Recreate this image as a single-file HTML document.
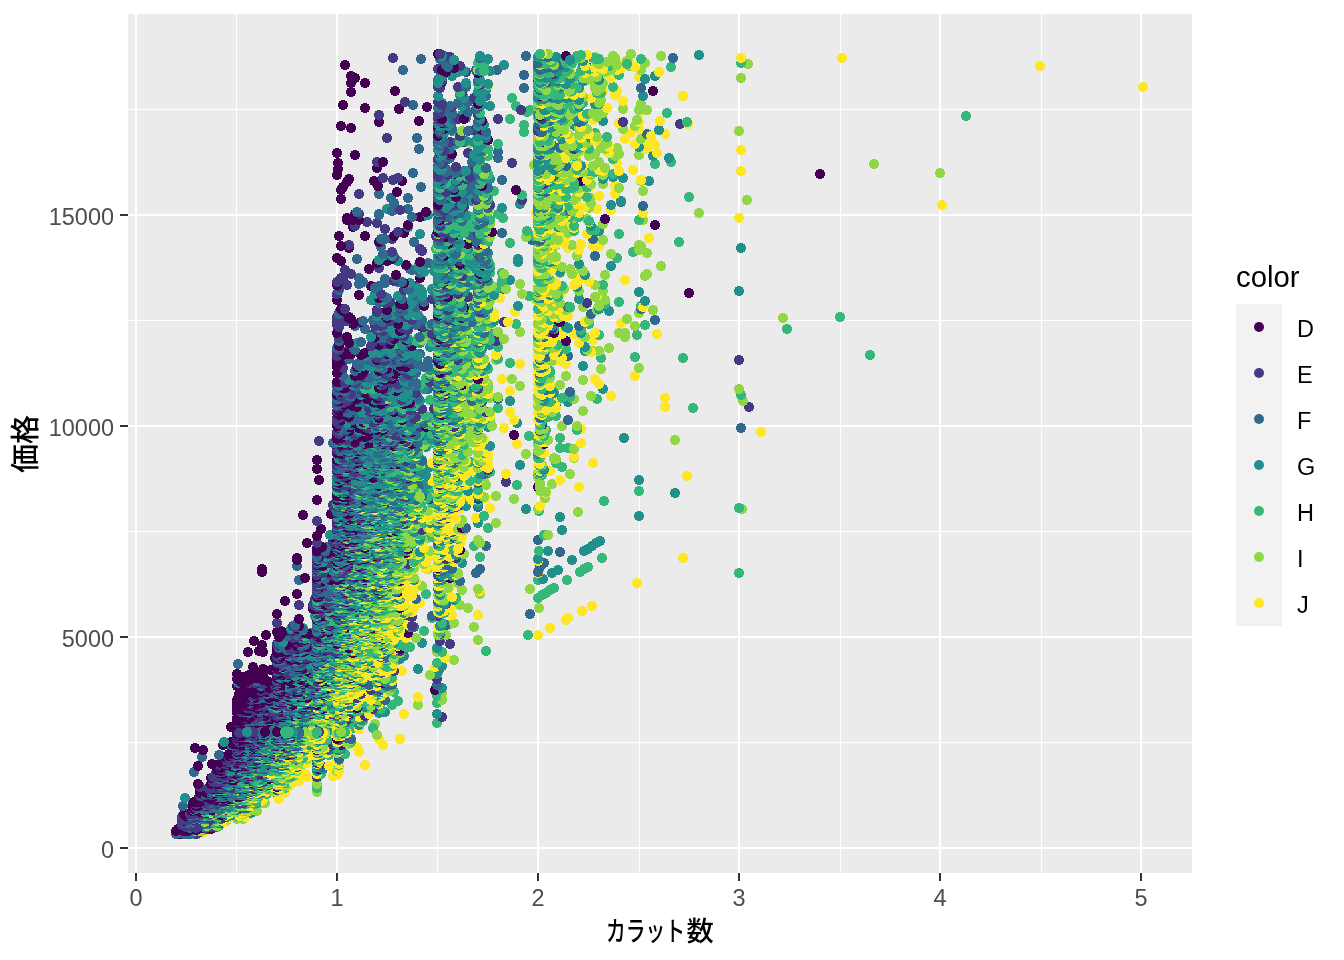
<!DOCTYPE html>
<html lang="ja"><head><meta charset="utf-8"><title>カラット数と価格</title>
<style>
html,body{margin:0;padding:0;background:#fff}
svg{display:block}
text{font-family:"Liberation Sans","Noto Sans CJK JP",sans-serif}
.tk{font-size:23.47px;fill:#4d4d4d}
.lb{font-size:23.47px;fill:#000}
.ti{font-size:29.33px;fill:#000}
.tj{font-size:27.3px;fill:#000;font-weight:500}
#pts path{shape-rendering:crispEdges;fill:none;stroke-width:10.0;stroke-linecap:round}
.c0{stroke:#440154}
.c1{stroke:#443A83}
.c2{stroke:#31688E}
.c3{stroke:#21908C}
.c4{stroke:#35B779}
.c5{stroke:#8FD744}
.c6{stroke:#FDE725}
</style></head><body>
<svg width="1344" height="960" viewBox="0 0 1344 960">
<rect width="1344" height="960" fill="#fff"/>
<rect x="128" y="14" width="1064" height="859" fill="#ebebeb"/>
<g id="grid">
<path d="M236.5 14V873" stroke="#fff" stroke-width="1"/>
<path d="M437.5 14V873" stroke="#fff" stroke-width="1"/>
<path d="M639.5 14V873" stroke="#fff" stroke-width="1"/>
<path d="M840.5 14V873" stroke="#fff" stroke-width="1"/>
<path d="M1041.5 14V873" stroke="#fff" stroke-width="1"/>
<path d="M128 742.5H1192" stroke="#fff" stroke-width="1"/>
<path d="M128 531.5H1192" stroke="#fff" stroke-width="1"/>
<path d="M128 320.5H1192" stroke="#fff" stroke-width="1"/>
<path d="M128 109.5H1192" stroke="#fff" stroke-width="1"/>
<path d="M136 14V873" stroke="#fff" stroke-width="2"/>
<path d="M337 14V873" stroke="#fff" stroke-width="2"/>
<path d="M538 14V873" stroke="#fff" stroke-width="2"/>
<path d="M739 14V873" stroke="#fff" stroke-width="2"/>
<path d="M940 14V873" stroke="#fff" stroke-width="2"/>
<path d="M1141 14V873" stroke="#fff" stroke-width="2"/>
<path d="M128 848H1192" stroke="#fff" stroke-width="2"/>
<path d="M128 637H1192" stroke="#fff" stroke-width="2"/>
<path d="M128 426H1192" stroke="#fff" stroke-width="2"/>
<path d="M128 215H1192" stroke="#fff" stroke-width="2"/>
</g>
<g id="pts">
<path class="c5" d="M337 727h0M359 726h0M349 725h0M357 724h0M375 724h0M345 724h0M327 723h0"/>
<path class="c0" d="M335 730h0M231 727h0M237 727h0M237 725h0M237 724h0M339 724h0"/>
<path class="c1" d="M359 727h0M305 726h0M239 724h0M241 724h0M259 723h0M291 723h0"/>
<path class="c4" d="M329 731h0M373 728h0M353 728h0M329 726h0M273 724h0M437 723h0"/>
<path class="c2" d="M333 724h0M245 723h0"/>
<path class="c6" d="M359 729h0M327 728h0M335 728h0M313 726h0M337 725h0M337 724h0M317 724h0M327 724h0M337 723h0"/>
<path class="c3" d="M327 730h0M303 725h0M359 725h0M277 724h0"/>
<path class="c1" d="M253 723h0M251 723h0M277 723h0M241 723h0M283 723h0M285 723h0M345 722h0M281 722h0"/>
<path class="c2" d="M339 723h0M345 723h0"/>
<path class="c3" d="M319 723h0M297 723h0M299 723h0M285 722h0"/>
<path class="c4" d="M293 723h0M317 723h0M321 722h0M309 722h0M289 722h0M265 722h0"/>
<path class="c5" d="M323 723h0M311 723h0M329 723h0M331 722h0M319 722h0M339 722h0M297 722h0M361 722h0"/>
<path class="c0" d="M261 723h0M267 723h0M303 723h0M249 723h0M243 722h0M263 722h0M253 722h0M277 722h0M241 722h0M259 722h0M269 722h0M257 722h0"/>
<path class="c3" d="M279 722h0M307 722h0M293 722h0M275 721h0M305 721h0M303 721h0M301 721h0M283 721h0M317 721h0"/>
<path class="c0" d="M249 721h0M271 721h0M237 721h0M245 721h0"/>
<path class="c1" d="M249 722h0M317 722h0M291 722h0M247 722h0M341 721h0M291 721h0M255 721h0M257 721h0"/>
<path class="c4" d="M313 721h0M339 721h0M363 721h0M309 721h0"/>
<path class="c5" d="M343 722h0M319 721h0"/>
<path class="c6" d="M321 721h0M337 721h0"/>
<path class="c2" d="M305 722h0M301 722h0M329 721h0M247 721h0M253 721h0M285 721h0M265 721h0M295 721h0M279 721h0M277 721h0M297 721h0"/>
<path class="c1" d="M287 720h0M285 720h0M277 720h0M261 719h0M303 719h0"/>
<path class="c6" d="M337 720h0"/>
<path class="c3" d="M289 721h0M271 720h0M361 720h0M291 720h0M293 720h0M301 720h0M299 720h0M283 720h0M281 720h0M305 719h0M309 719h0"/>
<path class="c5" d="M331 720h0M325 720h0M321 720h0M337 719h0"/>
<path class="c0" d="M237 720h0M263 720h0M239 720h0M245 720h0M257 719h0M271 719h0M237 719h0M239 719h0"/>
<path class="c2" d="M261 721h0M253 720h0M341 720h0M247 720h0"/>
<path class="c4" d="M315 720h0M305 720h0M319 720h0M353 720h0M309 720h0M297 720h0M317 720h0"/>
<path class="c0" d="M249 719h0M245 719h0M267 719h0M251 718h0M257 718h0M241 718h0M239 718h0M249 718h0"/>
<path class="c2" d="M299 719h0M301 719h0M279 719h0M285 719h0"/>
<path class="c1" d="M255 719h0M349 719h0M289 719h0M277 719h0M255 718h0M289 718h0M295 718h0M265 718h0M281 718h0"/>
<path class="c3" d="M339 719h0M283 719h0M291 719h0M305 718h0M345 718h0M339 718h0M261 718h0"/>
<path class="c4" d="M323 719h0M321 719h0M319 718h0M303 718h0M301 718h0M297 718h0"/>
<path class="c5" d="M329 719h0M295 719h0M317 719h0M323 718h0M309 718h0M329 718h0"/>
<path class="c3" d="M285 718h0M347 717h0M287 717h0M307 717h0M263 717h0M303 716h0"/>
<path class="c1" d="M245 718h0M269 717h0M259 717h0M301 717h0M442 717h0"/>
<path class="c2" d="M283 718h0M289 717h0M305 717h0M255 717h0M299 717h0M293 717h0M277 717h0"/>
<path class="c0" d="M237 718h0M277 718h0M247 717h0M243 717h0M283 717h0M275 717h0M251 717h0M281 717h0M243 716h0M247 716h0"/>
<path class="c4" d="M355 718h0M291 718h0M329 717h0M341 717h0M337 717h0M297 717h0"/>
<path class="c6" d="M359 717h0M327 717h0"/>
<path class="c5" d="M317 718h0M319 717h0M317 717h0M329 716h0"/>
<path class="c6" d="M319 716h0M347 716h0M339 716h0M317 716h0M347 715h0M323 715h0"/>
<path class="c3" d="M287 716h0M291 716h0M351 715h0M337 715h0M279 715h0M277 715h0"/>
<path class="c2" d="M283 716h0M337 716h0M299 716h0M255 716h0M307 715h0M293 715h0M303 715h0"/>
<path class="c4" d="M297 716h0M299 715h0"/>
<path class="c0" d="M293 716h0M253 716h0M245 716h0M265 716h0M279 716h0M245 715h0M255 715h0M285 715h0M283 715h0"/>
<path class="c5" d="M317 715h0M295 715h0M341 715h0"/>
<path class="c1" d="M259 716h0M365 716h0M277 716h0M261 715h0M327 715h0M289 715h0M249 715h0"/>
<path class="c0" d="M251 715h0M341 714h0M245 714h0M241 714h0M239 714h0M293 714h0M267 714h0M301 714h0M279 714h0M311 714h0M349 714h0M297 714h0M237 713h0M251 713h0"/>
<path class="c6" d="M327 714h0M347 714h0M369 714h0M404 714h0M337 714h0"/>
<path class="c3" d="M303 714h0M321 714h0M295 714h0M289 714h0M437 714h0M315 714h0M317 714h0M379 713h0"/>
<path class="c5" d="M343 714h0"/>
<path class="c1" d="M271 714h0M333 714h0M285 714h0M255 713h0"/>
<path class="c4" d="M319 715h0M307 714h0M319 714h0M337 713h0"/>
<path class="c2" d="M281 714h0M287 714h0M277 714h0M249 713h0"/>
<path class="c4" d="M333 713h0M319 713h0M293 713h0M317 713h0M283 712h0"/>
<path class="c6" d="M327 712h0M331 712h0"/>
<path class="c3" d="M321 713h0M287 713h0M283 713h0M297 712h0M385 712h0"/>
<path class="c0" d="M267 713h0M257 713h0M271 713h0M241 713h0M293 712h0M239 712h0M307 712h0"/>
<path class="c5" d="M341 713h0M341 712h0M321 712h0M339 712h0M313 712h0M287 712h0"/>
<path class="c1" d="M275 713h0M303 713h0M291 713h0M285 713h0M277 713h0M269 712h0M351 712h0M259 712h0"/>
<path class="c2" d="M307 713h0M299 713h0M297 713h0M279 713h0M309 712h0M245 712h0M303 712h0"/>
<path class="c0" d="M267 712h0M281 712h0M243 711h0M245 711h0M305 711h0M239 711h0M255 711h0M237 711h0M249 711h0M277 711h0M283 711h0"/>
<path class="c6" d="M331 711h0M339 711h0"/>
<path class="c4" d="M289 712h0M319 712h0M299 712h0M355 711h0M307 711h0M359 711h0M295 711h0M317 711h0"/>
<path class="c3" d="M317 712h0M323 711h0M289 711h0M329 710h0"/>
<path class="c2" d="M267 711h0M303 711h0M285 711h0M291 711h0M259 711h0M299 711h0M279 711h0M337 711h0"/>
<path class="c1" d="M241 712h0M291 712h0M277 712h0M253 711h0M269 711h0"/>
<path class="c5" d="M333 711h0M319 711h0"/>
<path class="c4" d="M307 710h0M339 710h0M295 710h0M301 710h0M381 709h0"/>
<path class="c0" d="M247 710h0M283 710h0M243 710h0M281 710h0M279 710h0M251 710h0M315 710h0M245 710h0M271 709h0M315 709h0M347 709h0"/>
<path class="c1" d="M303 710h0M341 710h0M277 710h0M253 709h0M287 709h0M373 709h0"/>
<path class="c2" d="M265 710h0M289 710h0M311 710h0M285 710h0M319 710h0"/>
<path class="c3" d="M297 710h0M347 710h0M323 710h0M293 710h0M317 710h0M293 709h0"/>
<path class="c5" d="M331 710h0M345 710h0M337 710h0"/>
<path class="c6" d="M353 709h0M327 709h0M345 709h0M349 709h0"/>
<path class="c5" d="M321 709h0M329 708h0M369 708h0M345 708h0M367 708h0M323 708h0M311 708h0M337 708h0"/>
<path class="c0" d="M263 709h0M259 709h0M237 709h0M323 709h0M299 709h0M247 709h0M237 708h0M269 708h0"/>
<path class="c3" d="M333 709h0M311 709h0M355 709h0M279 709h0M317 709h0M289 709h0M303 708h0M349 708h0"/>
<path class="c1" d="M307 709h0M261 709h0M277 709h0M303 709h0M249 708h0M289 708h0M309 708h0M247 708h0"/>
<path class="c6" d="M339 709h0"/>
<path class="c4" d="M297 709h0"/>
<path class="c2" d="M273 709h0M283 709h0M291 709h0M275 708h0M305 708h0M287 708h0"/>
<path class="c1" d="M299 708h0M261 708h0M251 707h0M299 707h0M275 706h0"/>
<path class="c5" d="M363 708h0M329 707h0"/>
<path class="c3" d="M295 708h0M321 708h0M365 707h0M337 707h0M317 707h0M293 707h0"/>
<path class="c6" d="M341 708h0M317 708h0M339 708h0"/>
<path class="c2" d="M293 708h0M285 708h0M325 707h0M297 707h0M357 707h0M289 707h0M291 707h0M341 707h0M279 707h0"/>
<path class="c0" d="M257 708h0M239 708h0M357 708h0M281 708h0M261 707h0M239 707h0M241 707h0M305 707h0M277 707h0M283 707h0M303 707h0"/>
<path class="c4" d="M277 708h0M285 707h0M321 707h0M331 707h0"/>
<path class="c5" d="M309 706h0M357 706h0M371 706h0M325 706h0M345 705h0M353 705h0M418 705h0"/>
<path class="c0" d="M249 706h0M243 706h0M251 706h0M279 706h0M237 706h0"/>
<path class="c6" d="M351 706h0M347 706h0M339 706h0M341 705h0"/>
<path class="c3" d="M271 706h0M283 706h0M307 706h0M299 706h0M303 706h0M341 706h0M317 706h0M293 706h0M297 706h0M319 706h0M301 705h0M309 705h0M329 705h0"/>
<path class="c1" d="M259 706h0M263 706h0M257 706h0M287 706h0M291 706h0M299 705h0M253 705h0"/>
<path class="c4" d="M337 706h0M323 706h0"/>
<path class="c2" d="M281 706h0M277 706h0"/>
<path class="c3" d="M285 705h0M319 705h0M349 705h0M323 704h0M297 704h0M333 704h0M293 704h0M327 704h0M299 704h0M281 704h0"/>
<path class="c2" d="M303 704h0M317 704h0M319 704h0M265 704h0M337 704h0"/>
<path class="c1" d="M311 705h0M287 705h0M281 705h0M305 705h0M277 705h0M267 704h0M285 704h0M289 704h0"/>
<path class="c6" d="M379 704h0M341 704h0"/>
<path class="c4" d="M392 705h0M339 705h0M297 705h0M291 705h0M321 704h0"/>
<path class="c5" d="M323 705h0"/>
<path class="c0" d="M275 705h0M255 705h0M293 705h0M317 705h0M257 704h0M307 704h0M239 704h0M237 704h0M277 704h0"/>
<path class="c1" d="M263 703h0M289 703h0M283 703h0M281 703h0M251 703h0M265 702h0M331 702h0"/>
<path class="c6" d="M341 703h0M355 703h0M339 703h0M379 702h0"/>
<path class="c5" d="M299 703h0M325 703h0M337 703h0M301 703h0M317 703h0"/>
<path class="c4" d="M321 703h0M437 703h0M377 703h0M365 702h0"/>
<path class="c3" d="M345 703h0M275 703h0M277 703h0M293 702h0M301 702h0"/>
<path class="c2" d="M305 703h0M347 703h0M267 703h0M287 703h0M249 703h0M351 702h0"/>
<path class="c0" d="M293 703h0M257 703h0M245 703h0M241 703h0M261 703h0M319 703h0M295 703h0M297 702h0M287 702h0"/>
<path class="c1" d="M291 702h0M281 702h0M309 701h0M377 701h0M297 701h0M277 701h0M271 701h0M259 701h0"/>
<path class="c2" d="M305 702h0M317 702h0M311 702h0M277 702h0M287 701h0M293 701h0"/>
<path class="c5" d="M337 702h0M349 701h0M351 701h0"/>
<path class="c4" d="M341 702h0M289 702h0M319 702h0M398 701h0M323 701h0M299 701h0"/>
<path class="c0" d="M283 702h0M279 702h0M255 701h0M257 701h0M251 701h0M269 701h0"/>
<path class="c3" d="M299 702h0M329 702h0M323 702h0M341 701h0M285 701h0M313 701h0"/>
<path class="c6" d="M345 702h0M357 701h0M345 701h0M337 701h0M307 701h0"/>
<path class="c0" d="M321 701h0M291 701h0M259 700h0M263 700h0M289 700h0M237 700h0M251 699h0"/>
<path class="c5" d="M339 701h0M379 700h0M377 700h0M442 700h0M339 700h0M349 699h0"/>
<path class="c3" d="M279 701h0M355 700h0M299 700h0M285 700h0"/>
<path class="c1" d="M281 701h0M251 700h0M291 700h0M283 700h0M279 700h0M249 699h0"/>
<path class="c6" d="M359 700h0M337 700h0M371 700h0M343 700h0"/>
<path class="c2" d="M317 701h0M347 700h0M385 700h0M323 700h0M277 700h0"/>
<path class="c4" d="M303 701h0M329 700h0M311 700h0M303 700h0M295 700h0M319 700h0M317 700h0M345 699h0"/>
<path class="c5" d="M309 699h0M341 699h0M323 698h0M337 698h0M331 698h0M351 698h0"/>
<path class="c1" d="M259 699h0M285 699h0M357 698h0M289 698h0M283 698h0"/>
<path class="c2" d="M291 699h0M257 699h0M293 699h0M269 699h0M277 699h0M281 699h0M265 698h0M291 698h0M299 698h0M303 698h0"/>
<path class="c4" d="M303 699h0M321 699h0M329 699h0M319 699h0M339 699h0M317 699h0M295 698h0M297 698h0"/>
<path class="c6" d="M337 699h0M349 698h0M321 698h0M339 698h0"/>
<path class="c0" d="M269 698h0M247 698h0M285 698h0M255 698h0M239 698h0"/>
<path class="c3" d="M289 699h0M297 699h0"/>
<path class="c1" d="M281 698h0M315 696h0"/>
<path class="c4" d="M315 697h0M285 697h0M317 697h0M437 696h0"/>
<path class="c2" d="M277 698h0M317 698h0M323 697h0M337 697h0M293 697h0M253 697h0M297 697h0M287 697h0M309 696h0M289 696h0M323 696h0"/>
<path class="c3" d="M281 697h0M295 697h0M319 696h0M299 696h0"/>
<path class="c6" d="M418 697h0M363 697h0M343 697h0M381 696h0"/>
<path class="c5" d="M345 698h0M319 698h0M341 698h0M319 697h0M339 697h0M345 696h0"/>
<path class="c0" d="M307 698h0M289 697h0M299 697h0M303 697h0M255 697h0M277 697h0M287 696h0M271 696h0M255 696h0"/>
<path class="c1" d="M253 696h0M279 696h0M261 695h0M299 695h0M285 695h0M279 695h0"/>
<path class="c0" d="M277 696h0M307 696h0M323 695h0M283 695h0M277 695h0M239 694h0"/>
<path class="c3" d="M301 696h0M303 696h0M291 696h0M317 696h0M377 695h0M307 695h0M341 695h0M293 695h0M317 695h0M295 695h0M303 695h0"/>
<path class="c6" d="M329 696h0M341 696h0M337 696h0M339 696h0M373 695h0M345 695h0M349 695h0"/>
<path class="c4" d="M295 696h0M329 695h0M339 695h0"/>
<path class="c5" d="M359 695h0M319 695h0M337 695h0M343 694h0"/>
<path class="c2" d="M283 696h0M289 695h0M267 694h0"/>
<path class="c0" d="M303 694h0M255 694h0M281 694h0M301 693h0M247 693h0M297 693h0"/>
<path class="c5" d="M341 694h0M331 694h0M371 694h0M323 694h0M442 693h0"/>
<path class="c2" d="M297 694h0M285 694h0M293 694h0M277 694h0M273 693h0M291 693h0"/>
<path class="c4" d="M327 694h0M345 693h0M331 693h0"/>
<path class="c6" d="M369 694h0M355 694h0M383 694h0M353 694h0M337 694h0M339 694h0M343 693h0M359 693h0"/>
<path class="c3" d="M301 694h0M309 694h0M307 693h0"/>
<path class="c1" d="M361 694h0M321 694h0M315 694h0M289 694h0M317 694h0M305 693h0M277 693h0M293 693h0M321 693h0"/>
<path class="c5" d="M385 693h0M331 692h0M307 692h0M351 692h0"/>
<path class="c2" d="M311 693h0M283 693h0M327 693h0M287 693h0M317 692h0"/>
<path class="c4" d="M299 693h0M437 693h0M394 692h0M377 692h0M323 692h0"/>
<path class="c1" d="M279 693h0M289 692h0M265 692h0M283 692h0M303 692h0"/>
<path class="c0" d="M289 693h0M295 692h0M243 692h0M267 692h0M261 692h0M255 692h0M251 692h0"/>
<path class="c3" d="M317 693h0M381 692h0M291 692h0M355 692h0M277 692h0M319 692h0"/>
<path class="c6" d="M337 693h0M357 693h0M339 693h0M341 692h0M385 692h0M347 692h0M339 692h0M359 692h0"/>
<path class="c6" d="M347 691h0M337 691h0M369 691h0M341 691h0"/>
<path class="c3" d="M299 691h0M317 691h0M321 691h0M303 690h0"/>
<path class="c1" d="M279 692h0M301 691h0M307 691h0M293 691h0M289 691h0M261 691h0M287 691h0M279 691h0M285 690h0"/>
<path class="c5" d="M337 692h0M390 691h0M331 691h0M351 691h0M335 690h0"/>
<path class="c2" d="M379 691h0M271 691h0M297 691h0M319 691h0M285 691h0M313 691h0M295 690h0"/>
<path class="c0" d="M281 692h0M297 692h0M299 692h0M243 691h0M251 691h0M277 691h0M281 691h0M241 691h0M313 690h0"/>
<path class="c4" d="M325 691h0M305 691h0"/>
<path class="c0" d="M247 690h0M435 690h0M299 690h0M255 689h0M261 689h0M295 689h0"/>
<path class="c4" d="M343 690h0M341 690h0M319 690h0M311 689h0M329 689h0M323 689h0"/>
<path class="c3" d="M297 690h0M279 690h0M317 690h0M339 690h0M307 689h0M303 689h0M279 689h0"/>
<path class="c2" d="M307 690h0M309 690h0M289 690h0M285 689h0M277 689h0"/>
<path class="c5" d="M337 690h0M347 689h0"/>
<path class="c6" d="M351 690h0M347 690h0M349 689h0M369 689h0"/>
<path class="c1" d="M301 690h0M287 690h0M269 690h0M323 690h0M277 690h0M291 690h0M281 690h0M371 690h0M293 689h0M327 689h0"/>
<path class="c5" d="M339 689h0M317 689h0M323 688h0M339 688h0M319 688h0"/>
<path class="c6" d="M337 689h0M347 688h0M361 688h0M353 688h0M351 688h0M337 688h0M341 688h0"/>
<path class="c3" d="M321 689h0M285 688h0M297 688h0M327 688h0M277 688h0"/>
<path class="c1" d="M381 689h0M313 688h0M289 688h0"/>
<path class="c4" d="M343 689h0M345 688h0M383 688h0M307 688h0"/>
<path class="c0" d="M297 689h0M283 689h0M329 688h0M251 688h0M241 688h0M253 688h0M293 688h0M283 688h0M269 688h0"/>
<path class="c2" d="M299 689h0M303 688h0M333 688h0M301 688h0M291 688h0M279 688h0M317 688h0"/>
<path class="c0" d="M303 687h0M297 687h0M237 686h0M299 686h0"/>
<path class="c6" d="M369 686h0M337 686h0"/>
<path class="c4" d="M331 687h0M299 687h0M392 687h0M307 687h0M321 687h0M353 687h0M325 687h0M295 686h0M351 686h0"/>
<path class="c1" d="M291 687h0M335 687h0M295 687h0M277 687h0M285 687h0M303 686h0M275 686h0M293 686h0M307 686h0"/>
<path class="c2" d="M291 686h0"/>
<path class="c5" d="M349 687h0M357 687h0M319 687h0M341 687h0M343 687h0M345 687h0M337 687h0M392 686h0"/>
<path class="c3" d="M442 688h0M309 687h0M377 687h0M317 687h0M287 687h0M279 687h0M281 687h0"/>
<path class="c3" d="M287 686h0M301 686h0M385 685h0M377 685h0"/>
<path class="c5" d="M345 686h0M329 685h0M351 685h0"/>
<path class="c4" d="M343 686h0M321 686h0M363 685h0"/>
<path class="c1" d="M283 686h0M279 686h0M293 685h0M303 685h0M390 685h0M295 685h0"/>
<path class="c6" d="M329 686h0M377 686h0M339 686h0M343 685h0M323 685h0M341 685h0M347 685h0M349 685h0M327 685h0"/>
<path class="c0" d="M263 686h0M317 686h0M277 686h0M239 685h0M281 685h0M283 685h0"/>
<path class="c2" d="M261 686h0M387 686h0M369 685h0M437 685h0M301 685h0M313 685h0M287 685h0M392 685h0M319 685h0"/>
<path class="c5" d="M357 684h0M305 684h0M327 684h0M319 684h0M345 683h0"/>
<path class="c6" d="M353 683h0"/>
<path class="c4" d="M337 685h0M349 684h0M345 684h0M341 684h0M331 684h0M323 684h0"/>
<path class="c3" d="M307 685h0M339 685h0M299 685h0M285 684h0M297 684h0M299 684h0M291 684h0M309 684h0M339 684h0M337 684h0M321 683h0"/>
<path class="c2" d="M277 685h0M297 685h0"/>
<path class="c0" d="M279 684h0M247 684h0M281 684h0M303 684h0M283 684h0M255 684h0M311 683h0"/>
<path class="c1" d="M317 685h0M277 684h0M263 684h0M289 684h0M311 684h0M317 684h0M351 684h0M299 683h0"/>
<path class="c5" d="M341 683h0M331 682h0"/>
<path class="c3" d="M303 683h0M325 683h0M281 683h0M297 683h0M309 682h0M341 682h0"/>
<path class="c4" d="M333 683h0M319 683h0M377 683h0M317 683h0M337 683h0M349 682h0M327 682h0M323 682h0"/>
<path class="c1" d="M255 683h0M249 683h0M363 682h0M283 682h0M329 682h0M379 682h0"/>
<path class="c6" d="M349 683h0M351 683h0M339 683h0"/>
<path class="c2" d="M285 683h0M238 683h0M277 683h0M303 682h0"/>
<path class="c0" d="M245 683h0M291 683h0M383 683h0M293 683h0M283 683h0M275 682h0M291 682h0M307 682h0M321 682h0M241 682h0M301 682h0"/>
<path class="c5" d="M339 682h0M355 681h0M351 681h0M349 681h0"/>
<path class="c6" d="M392 681h0M345 681h0M379 681h0"/>
<path class="c2" d="M319 682h0M337 682h0M287 681h0M257 681h0M327 680h0"/>
<path class="c3" d="M299 682h0M287 682h0M385 682h0M299 681h0M317 681h0"/>
<path class="c0" d="M281 682h0M323 681h0M267 681h0M289 681h0M327 681h0M283 681h0M279 681h0M293 681h0M263 680h0"/>
<path class="c1" d="M277 682h0M317 682h0M277 681h0M319 681h0M331 680h0M359 680h0"/>
<path class="c4" d="M331 681h0M297 681h0M301 681h0M321 681h0M341 681h0M337 681h0M351 680h0M363 680h0"/>
<path class="c4" d="M345 680h0M311 680h0M355 680h0M357 679h0M317 679h0"/>
<path class="c5" d="M349 680h0M337 680h0"/>
<path class="c3" d="M341 680h0M297 680h0M297 679h0M343 679h0"/>
<path class="c2" d="M277 680h0M287 679h0M299 679h0M347 679h0M285 679h0"/>
<path class="c6" d="M321 680h0M339 680h0M353 679h0M329 679h0"/>
<path class="c1" d="M303 680h0M291 680h0M279 680h0M305 680h0M317 680h0M333 679h0M349 679h0M279 679h0M277 679h0M291 679h0M303 679h0M283 679h0M437 679h0"/>
<path class="c0" d="M301 680h0M249 680h0M287 680h0M283 680h0M289 680h0M237 679h0M251 679h0"/>
<path class="c4" d="M339 679h0M307 678h0M329 678h0M345 678h0M357 678h0M353 678h0M337 678h0M323 678h0M377 678h0M392 678h0"/>
<path class="c2" d="M293 678h0M317 678h0M327 677h0M325 677h0M313 677h0"/>
<path class="c6" d="M363 678h0M341 678h0M339 678h0"/>
<path class="c3" d="M337 679h0M297 678h0M379 678h0M281 678h0M301 677h0"/>
<path class="c5" d="M323 679h0M385 679h0M359 678h0M347 678h0M319 678h0"/>
<path class="c1" d="M289 678h0M303 678h0M299 678h0"/>
<path class="c0" d="M319 679h0M257 678h0M351 678h0M291 678h0M301 678h0M277 678h0M253 677h0M245 677h0M323 677h0"/>
<path class="c1" d="M283 677h0M299 677h0M283 676h0M301 676h0M329 676h0M317 676h0"/>
<path class="c4" d="M321 677h0M317 677h0M337 677h0M331 677h0M347 677h0M323 676h0M303 676h0M319 676h0"/>
<path class="c6" d="M351 677h0M347 676h0M345 676h0M357 676h0"/>
<path class="c0" d="M277 677h0M291 677h0M263 676h0M291 676h0M239 676h0M277 676h0"/>
<path class="c2" d="M297 677h0M285 676h0M311 676h0M325 676h0M279 676h0M289 676h0"/>
<path class="c3" d="M279 677h0M287 677h0M339 677h0M315 676h0M351 676h0M377 676h0"/>
<path class="c5" d="M343 677h0M319 677h0M341 676h0M379 676h0"/>
<path class="c2" d="M331 675h0M287 675h0M293 675h0M327 675h0"/>
<path class="c4" d="M319 675h0M359 674h0"/>
<path class="c0" d="M297 676h0M249 675h0M277 675h0M283 675h0M289 675h0M297 674h0M237 674h0M283 674h0"/>
<path class="c3" d="M295 676h0M307 675h0M343 675h0M337 675h0M347 675h0M311 675h0M339 675h0M437 674h0M307 674h0M303 674h0"/>
<path class="c5" d="M337 676h0M339 676h0M430 675h0M345 675h0M317 675h0M361 675h0"/>
<path class="c1" d="M323 675h0M279 675h0M321 675h0M347 674h0"/>
<path class="c6" d="M371 676h0M357 675h0M355 675h0M369 675h0M377 675h0M377 674h0"/>
<path class="c1" d="M289 674h0M287 674h0M277 674h0M293 673h0M323 673h0M281 673h0"/>
<path class="c2" d="M321 674h0M295 673h0M279 673h0"/>
<path class="c5" d="M387 673h0M379 673h0M355 673h0M301 673h0"/>
<path class="c6" d="M337 674h0M339 674h0M351 674h0M343 674h0M349 673h0M385 673h0"/>
<path class="c3" d="M355 674h0M299 674h0M317 674h0M329 674h0M345 674h0M305 674h0M303 673h0M361 673h0M381 673h0M373 673h0M321 673h0M297 673h0"/>
<path class="c4" d="M325 674h0M315 673h0M345 673h0M343 673h0"/>
<path class="c0" d="M279 674h0M261 674h0M277 673h0M327 673h0M283 673h0"/>
<path class="c0" d="M311 673h0M301 672h0M259 672h0M279 672h0M283 672h0M321 672h0M263 672h0M321 671h0"/>
<path class="c1" d="M289 673h0M287 673h0M335 673h0M291 672h0M383 672h0M277 672h0M313 671h0"/>
<path class="c5" d="M317 673h0M355 672h0M359 672h0M341 672h0M349 672h0M327 672h0M345 672h0M359 671h0"/>
<path class="c2" d="M293 672h0M297 672h0M311 672h0M317 672h0"/>
<path class="c4" d="M351 672h0M305 672h0M319 672h0M339 672h0M337 672h0"/>
<path class="c6" d="M365 673h0M337 673h0M365 672h0M369 672h0M402 671h0"/>
<path class="c3" d="M329 673h0M339 673h0M323 672h0"/>
<path class="c3" d="M317 671h0M305 671h0M307 670h0M439 670h0M331 670h0M317 670h0M297 670h0"/>
<path class="c1" d="M277 671h0M335 671h0M394 671h0M283 670h0M379 670h0M279 670h0"/>
<path class="c5" d="M345 671h0M329 671h0M319 671h0M359 670h0M373 670h0M349 670h0M319 670h0"/>
<path class="c0" d="M307 671h0M271 670h0"/>
<path class="c4" d="M327 671h0M351 671h0M341 671h0M355 670h0M295 670h0M329 670h0"/>
<path class="c6" d="M381 671h0M385 671h0M387 671h0M339 671h0M369 670h0M377 670h0M353 670h0"/>
<path class="c2" d="M301 671h0M297 671h0M299 670h0M277 670h0M321 670h0"/>
<path class="c5" d="M345 670h0M337 670h0M339 670h0M353 669h0M337 669h0M363 668h0"/>
<path class="c1" d="M287 669h0M297 669h0"/>
<path class="c3" d="M303 670h0M379 669h0M323 669h0M418 669h0M333 669h0M321 669h0M341 669h0M371 668h0M325 668h0"/>
<path class="c4" d="M341 670h0M315 669h0M357 669h0M307 669h0M339 669h0M357 668h0M299 668h0"/>
<path class="c6" d="M392 669h0M381 669h0M359 669h0M390 669h0M381 668h0M379 668h0"/>
<path class="c2" d="M323 670h0M301 669h0M293 669h0M279 669h0M345 669h0M317 669h0"/>
<path class="c0" d="M263 669h0M277 669h0M281 669h0M303 669h0"/>
<path class="c1" d="M289 668h0M301 668h0M277 667h0M311 667h0"/>
<path class="c3" d="M329 668h0M369 668h0M309 668h0M305 667h0M317 667h0M303 667h0"/>
<path class="c0" d="M305 668h0M281 668h0M277 668h0M309 667h0M297 667h0M299 667h0M279 667h0M253 667h0"/>
<path class="c5" d="M323 668h0M347 668h0M351 668h0M369 667h0M327 667h0"/>
<path class="c2" d="M311 668h0M371 667h0M321 667h0M291 667h0M319 667h0"/>
<path class="c6" d="M355 668h0M435 667h0"/>
<path class="c4" d="M283 668h0M321 668h0M317 668h0M341 668h0M337 668h0M353 667h0M347 667h0M387 667h0M349 667h0M337 667h0"/>
<path class="c0" d="M283 667h0M291 666h0M277 666h0M317 666h0"/>
<path class="c4" d="M343 667h0M375 666h0M392 666h0M323 666h0M355 666h0M337 666h0M341 666h0M339 666h0M325 665h0"/>
<path class="c1" d="M283 666h0M333 666h0M367 666h0M293 666h0M281 666h0M329 665h0M285 665h0M295 665h0"/>
<path class="c6" d="M339 667h0M381 666h0M345 666h0M343 666h0M351 665h0"/>
<path class="c3" d="M363 667h0M327 666h0M321 666h0M331 666h0M442 666h0M319 666h0"/>
<path class="c5" d="M373 667h0M363 666h0M353 666h0M349 666h0M353 665h0"/>
<path class="c2" d="M297 666h0M289 666h0M301 666h0"/>
<path class="c3" d="M343 665h0M317 665h0M355 664h0M309 664h0M351 663h0"/>
<path class="c4" d="M383 665h0M347 665h0M355 665h0M327 664h0M321 664h0M347 664h0M343 664h0"/>
<path class="c1" d="M319 665h0M293 664h0M277 664h0M319 664h0M331 664h0M317 664h0M299 664h0M281 664h0"/>
<path class="c2" d="M281 665h0M337 665h0M301 665h0M238 664h0M287 664h0M297 664h0"/>
<path class="c5" d="M365 665h0M339 665h0M323 665h0M349 664h0M379 664h0M345 664h0M357 664h0M337 664h0M341 664h0"/>
<path class="c0" d="M277 665h0M361 664h0"/>
<path class="c6" d="M359 665h0M394 664h0M373 664h0"/>
<path class="c3" d="M331 663h0M325 663h0M329 663h0M355 663h0M359 663h0M339 663h0M345 663h0M329 662h0"/>
<path class="c0" d="M279 663h0M321 662h0M301 662h0M319 662h0"/>
<path class="c6" d="M377 663h0M363 663h0M361 662h0M367 662h0"/>
<path class="c2" d="M281 663h0M373 663h0M319 663h0M299 662h0"/>
<path class="c5" d="M349 663h0M321 663h0M343 663h0M355 662h0M369 662h0"/>
<path class="c4" d="M335 663h0M357 663h0M437 663h0M337 663h0M359 662h0M341 662h0M325 662h0"/>
<path class="c1" d="M277 663h0M323 663h0M301 663h0M317 663h0M279 662h0M283 662h0M303 662h0M353 662h0"/>
<path class="c0" d="M277 660h0M327 660h0"/>
<path class="c4" d="M345 662h0M387 661h0M359 661h0M365 661h0M349 661h0M355 661h0M325 661h0M343 661h0M349 660h0M375 660h0"/>
<path class="c2" d="M317 662h0M337 662h0M281 661h0M291 661h0M321 661h0M277 661h0M319 661h0M295 660h0M297 660h0"/>
<path class="c5" d="M339 662h0M327 662h0M347 661h0M345 661h0M361 661h0"/>
<path class="c6" d="M377 662h0M369 660h0M379 660h0"/>
<path class="c3" d="M299 661h0M295 661h0M333 661h0M369 661h0M337 661h0M339 661h0M317 661h0M347 660h0M385 660h0"/>
<path class="c1" d="M289 661h0M351 661h0"/>
<path class="c6" d="M365 660h0M379 659h0M357 659h0M392 658h0"/>
<path class="c5" d="M353 660h0M454 660h0M398 660h0M323 659h0M383 659h0M345 659h0M387 659h0"/>
<path class="c1" d="M315 659h0M299 659h0M325 659h0M301 659h0M329 658h0M305 658h0"/>
<path class="c4" d="M359 660h0M343 660h0M337 660h0M339 660h0M369 659h0M349 659h0M339 659h0"/>
<path class="c2" d="M323 660h0M363 659h0M317 659h0"/>
<path class="c0" d="M291 660h0M299 660h0M293 659h0M279 659h0M277 659h0M307 659h0"/>
<path class="c3" d="M321 660h0M317 660h0M319 659h0M400 659h0M341 659h0M337 659h0M363 658h0"/>
<path class="c4" d="M323 658h0M331 658h0M353 657h0"/>
<path class="c0" d="M275 658h0M297 658h0M325 657h0"/>
<path class="c2" d="M385 658h0M297 657h0M293 657h0M343 657h0M337 657h0"/>
<path class="c6" d="M379 658h0M381 658h0M343 658h0M445 658h0M363 657h0M379 657h0M375 657h0"/>
<path class="c5" d="M353 658h0M394 658h0M337 658h0M339 658h0M369 657h0M359 657h0M357 657h0M345 657h0M349 657h0"/>
<path class="c3" d="M345 658h0M301 658h0M319 658h0M349 658h0M335 657h0M327 657h0"/>
<path class="c1" d="M307 658h0M293 658h0M317 658h0M279 658h0M329 657h0M277 657h0M381 657h0"/>
<path class="c2" d="M301 656h0M297 656h0M283 656h0M321 656h0M317 656h0M299 656h0M283 655h0M321 655h0"/>
<path class="c0" d="M315 657h0M281 657h0M313 656h0"/>
<path class="c1" d="M321 657h0M277 656h0M323 656h0M341 656h0"/>
<path class="c4" d="M329 656h0M331 656h0"/>
<path class="c3" d="M317 657h0M359 656h0M404 656h0M289 656h0M311 656h0M343 656h0M337 656h0"/>
<path class="c5" d="M341 657h0M339 657h0M392 656h0M363 656h0M355 656h0M347 656h0M339 656h0M359 655h0M347 655h0M392 655h0"/>
<path class="c6" d="M351 657h0M369 656h0M381 656h0M375 656h0M351 656h0M357 656h0"/>
<path class="c6" d="M349 655h0M337 655h0M361 654h0M347 654h0M351 654h0M392 653h0"/>
<path class="c1" d="M287 654h0M303 654h0M279 653h0"/>
<path class="c3" d="M303 655h0M317 655h0M299 655h0M321 654h0M311 654h0M337 654h0M305 653h0M359 653h0"/>
<path class="c0" d="M283 654h0M283 653h0"/>
<path class="c4" d="M363 655h0M343 655h0M341 655h0M394 654h0M317 654h0M375 654h0M379 654h0M343 654h0"/>
<path class="c5" d="M361 655h0M353 655h0M369 654h0M359 654h0M327 653h0"/>
<path class="c2" d="M319 655h0M293 655h0M385 655h0M325 655h0M279 654h0M341 654h0M333 654h0M323 654h0"/>
<path class="c6" d="M357 652h0M345 652h0"/>
<path class="c4" d="M319 653h0M301 652h0M349 652h0M351 652h0"/>
<path class="c1" d="M295 653h0M287 653h0M323 652h0M353 652h0M295 652h0M365 652h0M283 652h0"/>
<path class="c3" d="M301 653h0M311 653h0M349 653h0M323 653h0M377 653h0M345 653h0M331 653h0M367 653h0M317 653h0M339 653h0"/>
<path class="c5" d="M400 653h0M355 653h0M365 653h0M381 653h0M351 653h0M437 652h0"/>
<path class="c0" d="M353 653h0M277 653h0M337 653h0M248 652h0M281 652h0M287 652h0M315 652h0M263 652h0M303 652h0"/>
<path class="c2" d="M341 653h0M297 653h0"/>
<path class="c0" d="M297 652h0M259 651h0M281 651h0M277 651h0M285 651h0M305 651h0M339 651h0"/>
<path class="c5" d="M353 651h0M359 651h0M355 651h0"/>
<path class="c6" d="M381 652h0M381 651h0M385 651h0M347 651h0M377 651h0"/>
<path class="c2" d="M299 651h0"/>
<path class="c4" d="M442 652h0M371 652h0M361 652h0M341 652h0M359 652h0M377 652h0M398 651h0M486 651h0M363 651h0M343 651h0M365 651h0"/>
<path class="c3" d="M339 652h0M301 651h0M295 651h0M345 651h0M327 651h0"/>
<path class="c1" d="M319 652h0M317 652h0M335 652h0M321 651h0M349 651h0M400 651h0M325 651h0M319 651h0"/>
<path class="c6" d="M353 650h0M363 650h0M345 650h0M394 650h0M367 649h0"/>
<path class="c0" d="M279 650h0M307 650h0M313 650h0M325 650h0M400 649h0M281 649h0"/>
<path class="c3" d="M317 651h0M357 650h0M390 650h0M303 650h0M307 649h0"/>
<path class="c2" d="M385 650h0M311 650h0M321 650h0M319 650h0M287 650h0M301 649h0M325 649h0"/>
<path class="c5" d="M343 650h0M377 649h0"/>
<path class="c4" d="M361 650h0M349 650h0M347 650h0M337 650h0M369 649h0M363 649h0"/>
<path class="c1" d="M337 651h0M329 650h0M291 650h0M317 650h0M339 650h0M341 650h0M293 649h0M331 649h0M329 649h0"/>
<path class="c0" d="M297 649h0M319 649h0M277 648h0M291 648h0M323 648h0M297 648h0"/>
<path class="c4" d="M337 649h0M343 649h0M327 648h0M345 648h0"/>
<path class="c1" d="M323 649h0M317 649h0M291 649h0M313 648h0M295 648h0M329 648h0M301 648h0"/>
<path class="c2" d="M359 649h0M381 648h0M351 648h0M279 648h0M321 648h0"/>
<path class="c6" d="M381 649h0M387 648h0M359 648h0"/>
<path class="c5" d="M353 649h0M390 649h0M345 649h0M355 649h0M387 649h0M365 648h0M355 648h0M383 648h0M341 648h0"/>
<path class="c3" d="M341 649h0M349 649h0M437 648h0M317 648h0M319 648h0M337 648h0"/>
<path class="c1" d="M289 646h0M355 646h0M295 646h0"/>
<path class="c5" d="M321 647h0M363 647h0M351 647h0M339 647h0M381 646h0M377 646h0M345 646h0"/>
<path class="c6" d="M353 647h0M359 647h0M349 647h0M387 647h0M398 646h0"/>
<path class="c2" d="M317 646h0M283 646h0M327 646h0"/>
<path class="c4" d="M339 648h0M369 647h0M406 647h0M367 647h0M361 647h0M410 647h0M345 647h0M321 646h0"/>
<path class="c0" d="M349 648h0M319 647h0M307 647h0M319 646h0M297 646h0M329 646h0"/>
<path class="c3" d="M323 647h0M327 647h0M331 647h0M385 647h0M337 647h0M341 647h0M317 647h0M351 646h0"/>
<path class="c6" d="M363 645h0M390 645h0M383 645h0M351 644h0M369 644h0"/>
<path class="c0" d="M349 646h0M279 645h0M287 645h0M262 645h0M325 645h0M301 644h0"/>
<path class="c1" d="M337 646h0M339 646h0M381 645h0M317 645h0M450 644h0M277 644h0"/>
<path class="c2" d="M301 646h0M305 645h0M301 645h0M331 645h0M281 645h0M325 644h0"/>
<path class="c4" d="M400 645h0M319 645h0M357 645h0M339 645h0M357 644h0"/>
<path class="c3" d="M347 645h0M329 645h0M355 645h0M337 645h0M323 645h0M333 644h0"/>
<path class="c5" d="M343 646h0M341 646h0M377 645h0M353 645h0M343 645h0M351 645h0"/>
<path class="c1" d="M315 644h0M299 643h0M345 643h0M317 643h0M333 643h0M319 643h0M323 643h0"/>
<path class="c2" d="M341 644h0M331 643h0M279 643h0"/>
<path class="c3" d="M347 644h0M349 643h0M371 643h0M301 643h0M422 643h0M343 643h0M327 643h0M394 643h0M351 643h0"/>
<path class="c6" d="M387 644h0M357 643h0M365 643h0M373 643h0"/>
<path class="c5" d="M353 644h0M390 644h0M371 644h0M339 644h0M390 643h0M337 643h0M381 643h0M339 643h0"/>
<path class="c0" d="M319 644h0M337 644h0M295 643h0"/>
<path class="c4" d="M321 644h0M317 644h0M345 644h0M359 643h0M355 643h0M385 643h0"/>
<path class="c5" d="M363 642h0M347 642h0M377 642h0M355 642h0M343 642h0M349 641h0"/>
<path class="c6" d="M371 642h0M383 642h0M357 642h0M383 641h0M373 641h0M359 641h0"/>
<path class="c1" d="M297 642h0M317 642h0M319 642h0M440 641h0M297 641h0"/>
<path class="c0" d="M337 642h0M301 642h0M321 642h0M329 641h0M254 641h0"/>
<path class="c2" d="M323 642h0M329 642h0"/>
<path class="c4" d="M365 642h0M331 642h0M351 642h0M381 642h0M359 642h0M375 642h0M323 641h0M369 641h0M385 641h0M343 641h0M339 641h0"/>
<path class="c3" d="M283 642h0M349 642h0M339 642h0M333 641h0M345 641h0"/>
<path class="c5" d="M357 641h0M351 641h0M365 641h0M478 640h0M379 640h0M359 640h0M361 640h0M341 640h0M385 640h0M343 639h0"/>
<path class="c4" d="M337 641h0M355 641h0M321 639h0M369 639h0M353 639h0"/>
<path class="c6" d="M373 640h0M394 640h0M343 640h0M367 640h0M385 639h0M359 639h0M392 639h0M381 639h0"/>
<path class="c1" d="M303 641h0M317 641h0M351 640h0M333 640h0M325 640h0M319 640h0M317 640h0"/>
<path class="c0" d="M303 640h0M293 640h0M305 640h0M329 639h0"/>
<path class="c3" d="M319 641h0M347 640h0M339 640h0M305 639h0"/>
<path class="c2" d="M321 640h0M337 640h0"/>
<path class="c3" d="M341 639h0M347 639h0M337 639h0M301 638h0M325 638h0M345 638h0M355 638h0M323 638h0M347 638h0M337 638h0M319 638h0M317 638h0"/>
<path class="c5" d="M363 639h0M377 639h0M377 638h0M416 638h0M373 638h0M371 638h0"/>
<path class="c0" d="M383 639h0M379 638h0"/>
<path class="c4" d="M361 639h0M355 639h0M349 639h0M329 638h0M367 638h0M385 638h0M359 638h0M339 638h0"/>
<path class="c2" d="M317 639h0M375 639h0M313 638h0M357 638h0M341 638h0"/>
<path class="c6" d="M365 638h0M406 638h0M383 638h0M390 638h0M351 638h0"/>
<path class="c1" d="M319 639h0M293 638h0"/>
<path class="c2" d="M392 637h0M329 637h0M301 637h0M321 636h0M337 636h0M333 636h0M287 636h0"/>
<path class="c6" d="M361 637h0M394 637h0M383 636h0M394 636h0M371 636h0"/>
<path class="c1" d="M297 637h0M317 637h0M337 637h0M303 636h0M317 636h0"/>
<path class="c0" d="M319 637h0M279 637h0"/>
<path class="c5" d="M377 637h0M387 637h0M373 637h0M349 637h0M347 637h0M381 637h0M345 637h0M339 637h0M377 636h0M355 636h0M357 636h0M379 636h0"/>
<path class="c3" d="M351 637h0M323 636h0"/>
<path class="c4" d="M365 637h0M341 637h0M331 637h0M365 636h0M367 636h0M361 636h0M347 636h0"/>
<path class="c1" d="M317 635h0M325 635h0"/>
<path class="c4" d="M305 636h0M359 636h0M528 635h0M377 635h0M440 635h0M357 635h0M329 634h0"/>
<path class="c0" d="M279 636h0M266 635h0M341 635h0M319 635h0M383 635h0M339 635h0"/>
<path class="c2" d="M349 636h0M343 636h0M323 635h0M297 635h0M329 635h0"/>
<path class="c3" d="M339 636h0M335 635h0M347 635h0M351 635h0M355 635h0M337 635h0M357 634h0"/>
<path class="c5" d="M351 636h0M345 635h0M385 635h0M363 635h0M371 635h0M446 635h0M359 635h0M438 635h0"/>
<path class="c6" d="M367 635h0M402 635h0M538 635h0M404 635h0M379 635h0"/>
<path class="c3" d="M367 634h0M353 634h0M337 634h0M341 634h0M349 633h0M311 633h0M357 633h0"/>
<path class="c6" d="M381 634h0M392 634h0M385 633h0M383 633h0M343 633h0"/>
<path class="c1" d="M331 634h0M349 634h0M301 634h0M440 634h0"/>
<path class="c2" d="M319 634h0M297 633h0M345 633h0"/>
<path class="c4" d="M373 634h0M323 634h0M345 634h0M339 634h0M373 633h0M361 633h0M367 633h0M355 633h0M351 633h0M381 633h0M319 633h0"/>
<path class="c0" d="M281 634h0M317 634h0M309 634h0M408 633h0M305 633h0M321 633h0"/>
<path class="c5" d="M438 634h0M355 634h0M379 633h0M438 633h0"/>
<path class="c2" d="M341 633h0M351 632h0M319 632h0"/>
<path class="c3" d="M331 633h0M363 633h0M347 632h0M355 632h0M343 632h0M385 632h0M337 632h0M357 631h0M299 631h0"/>
<path class="c6" d="M365 633h0M357 632h0M375 632h0M383 632h0M339 632h0M392 631h0M375 631h0"/>
<path class="c4" d="M337 633h0M398 632h0M440 632h0M424 631h0"/>
<path class="c1" d="M317 633h0M361 632h0M365 632h0M291 632h0M317 632h0M331 631h0M297 631h0M327 631h0"/>
<path class="c0" d="M277 632h0M283 632h0M329 632h0M281 631h0M329 631h0"/>
<path class="c5" d="M353 632h0M373 632h0M377 631h0M353 631h0"/>
<path class="c1" d="M359 630h0M325 630h0M323 630h0M343 630h0M385 630h0M337 630h0"/>
<path class="c0" d="M343 631h0M295 630h0M317 630h0M293 630h0"/>
<path class="c3" d="M317 631h0M347 631h0M337 631h0M303 630h0M355 630h0M365 630h0M361 629h0"/>
<path class="c2" d="M349 631h0M297 630h0M351 630h0M319 630h0M329 630h0M365 629h0"/>
<path class="c4" d="M363 631h0M341 631h0M440 630h0M367 630h0M347 630h0M339 630h0"/>
<path class="c5" d="M361 631h0M385 631h0M365 631h0M375 630h0M381 630h0M353 630h0M341 630h0M379 630h0"/>
<path class="c6" d="M387 631h0M400 631h0M377 630h0"/>
<path class="c4" d="M367 629h0M357 629h0M319 629h0M353 629h0M343 629h0M303 628h0M351 628h0M317 628h0M357 628h0"/>
<path class="c3" d="M377 629h0M291 629h0M373 629h0M329 629h0M337 629h0M361 628h0M345 628h0M321 628h0"/>
<path class="c5" d="M398 629h0M349 629h0M379 629h0M345 629h0M442 628h0M398 628h0M377 628h0M363 628h0"/>
<path class="c0" d="M339 629h0M297 629h0M373 628h0M323 628h0"/>
<path class="c6" d="M385 629h0M438 628h0M367 628h0M383 628h0M550 628h0M381 628h0"/>
<path class="c1" d="M347 628h0"/>
<path class="c2" d="M303 629h0M317 629h0M333 628h0M301 628h0"/>
<path class="c2" d="M347 627h0M297 627h0M337 627h0M331 627h0M414 627h0M357 626h0M327 626h0"/>
<path class="c5" d="M474 627h0M383 627h0M367 627h0M343 627h0M361 627h0M363 627h0"/>
<path class="c3" d="M337 628h0M353 628h0M410 627h0M357 627h0M323 627h0M319 627h0M341 627h0M385 626h0M440 626h0M321 626h0M365 626h0"/>
<path class="c0" d="M349 627h0M299 626h0M323 626h0"/>
<path class="c6" d="M396 627h0M351 627h0M375 626h0"/>
<path class="c1" d="M295 627h0M317 627h0M339 627h0M293 626h0"/>
<path class="c4" d="M341 628h0M327 627h0M371 627h0M377 627h0M355 627h0M349 626h0"/>
<path class="c5" d="M381 626h0M353 626h0M448 625h0M392 625h0M400 625h0M361 625h0M377 625h0M363 625h0M367 625h0M390 625h0M387 625h0"/>
<path class="c0" d="M329 626h0M347 626h0"/>
<path class="c4" d="M355 626h0M341 626h0M381 625h0M353 625h0M347 625h0M317 625h0"/>
<path class="c6" d="M361 626h0M377 626h0M345 626h0M408 625h0M373 625h0"/>
<path class="c1" d="M412 626h0"/>
<path class="c2" d="M317 626h0M295 625h0M329 625h0M446 625h0M319 625h0M337 625h0"/>
<path class="c3" d="M319 626h0M339 626h0M337 626h0M357 625h0M341 625h0M349 625h0M442 625h0M345 625h0M339 625h0"/>
<path class="c4" d="M365 624h0M343 624h0M351 624h0M359 624h0M339 624h0M327 623h0M321 623h0M361 623h0M442 623h0M349 623h0M347 623h0M345 623h0"/>
<path class="c6" d="M392 624h0M379 623h0M398 623h0M377 623h0M383 623h0"/>
<path class="c1" d="M321 624h0M329 624h0M319 624h0M277 623h0M319 623h0M329 623h0"/>
<path class="c3" d="M363 624h0M349 624h0M317 624h0M369 623h0M323 623h0M341 623h0"/>
<path class="c0" d="M335 624h0"/>
<path class="c5" d="M355 624h0M377 624h0M385 624h0M454 623h0M357 623h0M365 623h0"/>
<path class="c2" d="M345 624h0M337 624h0M317 623h0M353 623h0"/>
<path class="c1" d="M347 622h0M335 622h0"/>
<path class="c0" d="M319 622h0M337 622h0M321 621h0M317 621h0"/>
<path class="c3" d="M337 623h0M321 622h0M317 622h0M361 622h0M329 621h0M323 621h0M361 621h0M347 621h0M349 621h0M377 621h0M337 621h0"/>
<path class="c6" d="M390 622h0M365 622h0M339 621h0"/>
<path class="c2" d="M398 622h0M343 621h0"/>
<path class="c5" d="M357 622h0M383 622h0M379 622h0M385 622h0M392 621h0M357 621h0M359 621h0M379 621h0"/>
<path class="c4" d="M355 622h0M377 622h0M351 622h0M373 622h0M343 622h0M339 622h0M381 621h0M363 621h0M331 621h0M353 621h0"/>
<path class="c5" d="M398 621h0M341 620h0M355 620h0M345 620h0M361 620h0M390 619h0M385 619h0M400 619h0M377 619h0M373 619h0M353 619h0M339 619h0M363 618h0M353 618h0"/>
<path class="c4" d="M349 620h0M387 620h0M337 620h0M367 620h0M355 619h0M381 619h0M337 619h0"/>
<path class="c2" d="M325 620h0M325 619h0M317 619h0M349 619h0"/>
<path class="c6" d="M566 620h0M357 620h0M351 620h0"/>
<path class="c1" d="M319 621h0M339 620h0M359 619h0M343 619h0"/>
<path class="c0" d="M317 620h0M299 619h0"/>
<path class="c3" d="M319 620h0M347 619h0M369 619h0M361 619h0M365 619h0M321 619h0"/>
<path class="c0" d="M321 617h0"/>
<path class="c5" d="M394 618h0M381 618h0M361 618h0M385 618h0M347 618h0M383 617h0M369 617h0M392 617h0M377 617h0M351 617h0"/>
<path class="c3" d="M357 618h0M369 618h0M317 618h0M351 618h0M379 617h0M367 617h0M357 617h0"/>
<path class="c4" d="M432 618h0M339 618h0M347 617h0M349 617h0M363 617h0M343 617h0M390 617h0M317 617h0"/>
<path class="c6" d="M373 618h0M568 618h0M383 618h0M387 618h0M381 617h0M355 617h0"/>
<path class="c1" d="M319 618h0M343 618h0M319 617h0M412 617h0M337 617h0"/>
<path class="c2" d="M345 618h0M377 618h0M337 618h0"/>
<path class="c3" d="M339 617h0M315 616h0M377 616h0M339 616h0"/>
<path class="c1" d="M341 617h0M361 616h0M438 616h0M351 616h0M406 615h0M317 615h0"/>
<path class="c5" d="M383 616h0M363 616h0M371 616h0M343 616h0M367 615h0M377 615h0M341 615h0"/>
<path class="c2" d="M353 616h0M432 616h0M337 616h0M347 615h0"/>
<path class="c0" d="M323 616h0M325 616h0M319 616h0M321 615h0"/>
<path class="c4" d="M357 616h0M359 616h0M329 616h0M317 616h0M347 616h0M363 615h0"/>
<path class="c6" d="M365 616h0M379 616h0M396 615h0M452 615h0M385 615h0M355 615h0M351 615h0M478 615h0M375 615h0"/>
<path class="c1" d="M337 615h0M317 614h0M323 613h0"/>
<path class="c0" d="M339 615h0M333 614h0M359 614h0M343 614h0M277 614h0M329 613h0"/>
<path class="c6" d="M390 614h0M404 614h0M381 614h0M394 613h0"/>
<path class="c2" d="M345 615h0M440 614h0M331 614h0M530 614h0M317 613h0M353 613h0"/>
<path class="c3" d="M357 614h0M363 614h0M337 614h0M371 614h0M339 614h0M404 613h0"/>
<path class="c4" d="M359 615h0M347 614h0M349 614h0M353 614h0M377 614h0M444 613h0"/>
<path class="c5" d="M381 615h0M367 614h0M383 614h0M379 614h0M396 613h0M440 613h0M363 613h0M381 613h0M390 613h0"/>
<path class="c0" d="M337 613h0M331 612h0M317 611h0"/>
<path class="c6" d="M412 612h0M438 612h0M410 612h0M440 612h0M375 612h0M406 611h0M371 611h0"/>
<path class="c4" d="M351 613h0M357 613h0M347 613h0M379 613h0M353 612h0M317 612h0M347 612h0M339 612h0M351 612h0M440 611h0M357 611h0"/>
<path class="c3" d="M377 612h0"/>
<path class="c5" d="M361 613h0M341 613h0M377 613h0M408 612h0M383 612h0M363 612h0M349 612h0M359 612h0"/>
<path class="c1" d="M319 613h0M343 613h0M339 613h0M321 612h0M319 612h0M357 612h0M337 612h0M371 612h0"/>
<path class="c2" d="M327 612h0M343 612h0"/>
<path class="c6" d="M444 611h0M582 611h0M367 610h0M375 610h0"/>
<path class="c2" d="M355 611h0M343 611h0M351 610h0M347 610h0M343 610h0"/>
<path class="c5" d="M387 611h0M361 611h0M390 610h0M383 610h0M353 610h0M381 610h0M377 610h0M371 610h0"/>
<path class="c0" d="M331 611h0"/>
<path class="c4" d="M329 611h0M367 611h0M383 611h0M373 611h0M365 611h0M349 611h0M381 611h0M337 611h0M353 611h0M317 610h0M363 610h0M361 610h0"/>
<path class="c3" d="M345 611h0M363 611h0M341 611h0M339 611h0M377 611h0M440 610h0M357 610h0M349 610h0M337 610h0"/>
<path class="c1" d="M321 610h0"/>
<path class="c2" d="M341 610h0M365 609h0M319 609h0M343 609h0"/>
<path class="c5" d="M381 609h0M396 609h0M539 608h0M383 608h0M468 608h0M379 608h0"/>
<path class="c1" d="M323 609h0M337 609h0M347 609h0"/>
<path class="c6" d="M406 609h0M408 608h0M414 608h0"/>
<path class="c3" d="M383 609h0M361 609h0M351 609h0M339 609h0M353 608h0M335 608h0M341 608h0"/>
<path class="c4" d="M369 609h0M373 609h0M357 609h0M387 609h0M377 609h0M363 609h0M359 608h0M392 608h0M385 608h0M343 608h0M363 608h0"/>
<path class="c0" d="M313 609h0M317 609h0M317 608h0M329 608h0M400 608h0M321 608h0"/>
<path class="c1" d="M359 607h0M329 607h0M321 607h0M317 607h0M337 607h0M355 606h0"/>
<path class="c4" d="M357 608h0M347 608h0M375 607h0M345 607h0M390 607h0M379 606h0M387 606h0"/>
<path class="c0" d="M355 607h0M361 607h0"/>
<path class="c2" d="M373 608h0M337 608h0M333 607h0M325 607h0M349 607h0M367 607h0M339 607h0M361 606h0M377 606h0M357 606h0"/>
<path class="c3" d="M367 608h0M351 608h0M341 607h0M353 607h0M365 606h0"/>
<path class="c5" d="M339 608h0M377 608h0M365 607h0M438 607h0M377 607h0M383 606h0M390 606h0"/>
<path class="c6" d="M379 607h0M452 606h0M438 606h0"/>
<path class="c4" d="M398 606h0M343 606h0M345 606h0M337 606h0M377 605h0M361 605h0M351 605h0M349 605h0M355 605h0M359 605h0M321 605h0"/>
<path class="c0" d="M351 606h0M325 605h0"/>
<path class="c3" d="M339 606h0M369 606h0M385 605h0M357 605h0M343 605h0M339 605h0M317 605h0M341 605h0"/>
<path class="c5" d="M404 606h0M373 606h0M363 606h0M369 605h0M460 605h0M379 605h0M394 605h0"/>
<path class="c1" d="M331 606h0M349 606h0M299 605h0M313 605h0M347 605h0M345 605h0"/>
<path class="c2" d="M365 605h0M383 605h0M337 605h0"/>
<path class="c6" d="M592 606h0M400 606h0M392 605h0"/>
<path class="c1" d="M351 604h0M321 604h0M337 603h0"/>
<path class="c5" d="M396 604h0M390 604h0M392 604h0M373 604h0M438 604h0M383 604h0M377 604h0M369 603h0M377 603h0"/>
<path class="c0" d="M323 604h0M327 603h0"/>
<path class="c2" d="M446 604h0M347 604h0M329 604h0M341 604h0M359 604h0M317 603h0M363 603h0"/>
<path class="c6" d="M404 604h0M396 603h0M357 603h0M398 603h0"/>
<path class="c4" d="M385 604h0M367 604h0M345 604h0M379 604h0M353 603h0"/>
<path class="c3" d="M355 604h0M369 604h0M317 604h0M363 604h0M444 604h0M337 604h0M349 603h0M381 603h0M345 603h0M359 603h0"/>
<path class="c2" d="M339 602h0M438 602h0M341 602h0M373 601h0"/>
<path class="c4" d="M357 602h0M361 602h0M444 601h0M381 601h0M345 601h0M355 601h0"/>
<path class="c3" d="M361 603h0M373 602h0M355 602h0M351 602h0M363 602h0M379 602h0M440 601h0"/>
<path class="c6" d="M420 603h0M392 602h0M404 601h0"/>
<path class="c0" d="M347 602h0M285 601h0M363 601h0M337 601h0"/>
<path class="c5" d="M341 603h0M367 603h0M385 602h0M377 602h0M381 602h0M387 602h0M390 602h0M359 601h0M385 601h0M390 601h0"/>
<path class="c1" d="M319 602h0M317 602h0M327 602h0M337 602h0M343 602h0M341 601h0"/>
<path class="c0" d="M345 600h0M319 599h0"/>
<path class="c3" d="M367 601h0M351 601h0M335 601h0M454 600h0M363 600h0M357 600h0M379 600h0M339 600h0"/>
<path class="c1" d="M327 600h0M333 600h0M375 600h0M315 599h0M363 599h0"/>
<path class="c2" d="M349 600h0M319 600h0M317 600h0M337 600h0M341 600h0M353 599h0"/>
<path class="c4" d="M347 601h0M317 601h0M377 601h0M365 601h0M359 600h0M398 600h0M385 600h0M355 600h0M392 599h0"/>
<path class="c5" d="M440 600h0M444 600h0M381 600h0M351 600h0M371 600h0M442 599h0M349 599h0M385 599h0"/>
<path class="c6" d="M400 600h0M365 599h0"/>
<path class="c2" d="M375 599h0M355 599h0M373 599h0M416 599h0M339 599h0M323 598h0M355 598h0M317 598h0M365 598h0"/>
<path class="c5" d="M379 599h0M341 599h0M369 599h0M367 598h0M371 598h0M444 598h0"/>
<path class="c6" d="M361 599h0M381 599h0M396 598h0M406 598h0M438 598h0"/>
<path class="c0" d="M357 598h0"/>
<path class="c3" d="M357 599h0M321 599h0M400 599h0M337 599h0M353 598h0M321 598h0M375 598h0M331 598h0M345 598h0M339 598h0M349 598h0"/>
<path class="c4" d="M345 599h0M329 598h0M456 598h0M337 598h0M377 598h0M359 598h0M381 598h0"/>
<path class="c1" d="M347 599h0"/>
<path class="c4" d="M341 598h0M383 598h0M538 598h0M365 597h0M343 597h0M371 596h0M359 596h0M353 596h0M345 596h0M381 596h0"/>
<path class="c1" d="M361 597h0M347 597h0M398 597h0M329 597h0"/>
<path class="c0" d="M317 597h0M319 597h0M319 596h0M317 596h0"/>
<path class="c5" d="M357 597h0M440 597h0M400 597h0M339 597h0M390 597h0M359 597h0M369 596h0M357 596h0M396 596h0"/>
<path class="c2" d="M369 597h0M349 597h0M337 597h0M353 597h0M377 597h0M341 597h0M335 596h0"/>
<path class="c3" d="M394 597h0M349 596h0"/>
<path class="c6" d="M452 597h0M379 597h0M387 597h0M385 596h0"/>
<path class="c5" d="M438 595h0M369 595h0M357 595h0M480 594h0M392 594h0"/>
<path class="c0" d="M297 594h0"/>
<path class="c2" d="M339 596h0M351 596h0M363 596h0M343 595h0M329 594h0M402 594h0"/>
<path class="c6" d="M412 596h0M353 595h0M392 595h0M398 595h0M406 594h0"/>
<path class="c1" d="M361 595h0M319 595h0M317 595h0M341 595h0M317 594h0"/>
<path class="c4" d="M337 596h0M377 596h0M542 595h0M385 595h0M345 595h0M365 595h0M349 595h0M375 594h0"/>
<path class="c3" d="M343 596h0M381 595h0M440 595h0M379 595h0M367 595h0M351 595h0M337 595h0M377 595h0M387 595h0M371 594h0"/>
<path class="c6" d="M412 593h0M410 593h0M383 593h0"/>
<path class="c4" d="M426 594h0M381 594h0M377 594h0M363 594h0M371 593h0M546 593h0M359 593h0M377 593h0M345 593h0M351 593h0M363 592h0"/>
<path class="c3" d="M365 594h0M369 594h0M357 594h0M440 594h0M337 594h0M351 594h0"/>
<path class="c5" d="M353 594h0M349 594h0M369 593h0M390 593h0M361 593h0M381 593h0M387 593h0"/>
<path class="c0" d="M319 594h0M343 593h0M337 593h0"/>
<path class="c2" d="M339 594h0M359 594h0M341 594h0M317 593h0M349 593h0M339 593h0"/>
<path class="c1" d="M379 594h0M345 594h0M365 593h0M355 593h0"/>
<path class="c0" d="M398 592h0M347 592h0M343 592h0"/>
<path class="c4" d="M375 592h0M349 592h0M359 592h0M339 592h0M387 591h0M365 590h0"/>
<path class="c1" d="M317 592h0M381 591h0M337 591h0M361 590h0"/>
<path class="c6" d="M381 592h0M480 591h0M440 591h0M392 591h0"/>
<path class="c5" d="M387 592h0M357 592h0M440 592h0M385 591h0M359 591h0M375 591h0M351 591h0M347 591h0M442 590h0"/>
<path class="c3" d="M361 592h0M377 592h0M357 591h0M343 591h0M339 591h0M319 591h0"/>
<path class="c2" d="M396 592h0M353 592h0M337 592h0M321 592h0M341 592h0M383 592h0M377 591h0M363 591h0"/>
<path class="c3" d="M385 590h0M349 590h0M394 590h0M355 590h0M339 590h0M337 590h0M365 589h0M373 589h0M355 589h0M361 589h0"/>
<path class="c4" d="M550 590h0M373 590h0M381 590h0M359 590h0M353 590h0M363 589h0M353 589h0"/>
<path class="c2" d="M317 590h0M371 590h0M351 589h0"/>
<path class="c0" d="M377 590h0M343 590h0"/>
<path class="c1" d="M345 590h0M319 589h0M317 589h0M345 589h0"/>
<path class="c6" d="M414 590h0M392 589h0M404 589h0"/>
<path class="c5" d="M383 590h0M462 590h0M369 590h0M347 590h0M359 589h0M383 589h0M396 589h0M398 589h0M390 589h0M478 589h0M530 589h0"/>
<path class="c0" d="M321 587h0"/>
<path class="c6" d="M371 587h0M450 587h0M406 587h0M363 587h0"/>
<path class="c4" d="M369 589h0M377 589h0M359 588h0M383 588h0M369 588h0M361 588h0M554 588h0M353 588h0M359 587h0M379 587h0M349 587h0"/>
<path class="c5" d="M448 588h0M365 588h0M448 587h0"/>
<path class="c2" d="M349 589h0M337 589h0M438 589h0M341 589h0M327 588h0M349 588h0M355 588h0M317 588h0"/>
<path class="c3" d="M381 589h0M373 588h0M379 588h0M345 588h0M341 588h0M363 588h0M337 588h0M371 588h0M377 588h0M390 587h0"/>
<path class="c1" d="M339 588h0M373 587h0M317 587h0"/>
<path class="c3" d="M369 587h0M367 587h0M339 587h0M357 586h0M339 586h0M392 585h0M349 585h0"/>
<path class="c5" d="M345 587h0M396 587h0M422 586h0M363 586h0M375 586h0M369 586h0M385 586h0M359 586h0M349 586h0M400 586h0M385 585h0M367 585h0"/>
<path class="c4" d="M343 587h0M337 587h0M347 586h0M381 586h0M373 585h0M383 585h0"/>
<path class="c0" d="M361 587h0M353 586h0M343 586h0"/>
<path class="c1" d="M377 587h0M325 586h0M363 585h0"/>
<path class="c6" d="M440 586h0M438 586h0M379 586h0M359 585h0"/>
<path class="c2" d="M331 586h0M361 586h0M371 586h0M337 586h0M341 586h0"/>
<path class="c4" d="M379 585h0M347 585h0M319 584h0M353 584h0M359 584h0M375 584h0"/>
<path class="c0" d="M347 584h0"/>
<path class="c2" d="M353 585h0M337 585h0M357 585h0M385 584h0M337 584h0M343 584h0M339 584h0"/>
<path class="c3" d="M343 585h0M331 585h0M375 585h0M377 585h0M392 584h0M351 584h0M367 584h0"/>
<path class="c1" d="M345 584h0"/>
<path class="c5" d="M341 585h0M369 585h0M339 585h0M394 585h0M381 584h0M369 584h0M357 584h0M379 584h0M363 584h0M396 584h0M363 583h0"/>
<path class="c6" d="M398 585h0M373 584h0M400 584h0M438 584h0M390 584h0M371 583h0M402 583h0"/>
<path class="c6" d="M400 583h0M637 583h0M385 583h0M440 583h0M383 583h0M416 582h0"/>
<path class="c4" d="M337 583h0M385 582h0M383 582h0M438 582h0"/>
<path class="c2" d="M325 583h0M390 583h0M353 583h0M345 583h0M369 582h0M333 582h0M379 582h0M440 582h0"/>
<path class="c0" d="M319 583h0"/>
<path class="c5" d="M442 583h0M392 583h0M458 583h0M357 583h0M377 583h0M339 583h0M359 583h0M400 582h0M392 582h0M341 582h0M353 582h0"/>
<path class="c1" d="M317 583h0M341 583h0M349 583h0M381 583h0M351 582h0"/>
<path class="c3" d="M365 583h0M363 582h0M367 582h0M347 582h0M337 582h0"/>
<path class="c6" d="M385 581h0"/>
<path class="c0" d="M323 581h0M400 581h0"/>
<path class="c2" d="M460 581h0M349 581h0M373 581h0M343 581h0M319 580h0M341 580h0"/>
<path class="c1" d="M317 581h0M339 581h0M345 581h0M373 580h0"/>
<path class="c5" d="M345 582h0M369 581h0M353 581h0M357 581h0M357 580h0"/>
<path class="c4" d="M357 582h0M438 581h0M381 581h0M355 581h0M363 581h0M390 581h0M337 581h0M379 581h0M538 580h0M567 580h0M438 580h0M343 580h0M377 580h0"/>
<path class="c3" d="M361 582h0M377 582h0M329 581h0M392 581h0M375 581h0M377 581h0M359 581h0M365 581h0M345 580h0"/>
<path class="c4" d="M387 580h0M355 580h0M363 580h0M383 580h0M347 579h0M339 579h0"/>
<path class="c1" d="M317 580h0M329 580h0M351 579h0"/>
<path class="c6" d="M438 579h0M404 579h0M379 579h0"/>
<path class="c3" d="M381 580h0M440 580h0M414 580h0M361 580h0M442 580h0M369 579h0M543 579h0M377 579h0M359 579h0M390 579h0"/>
<path class="c0" d="M331 580h0M337 580h0M365 580h0M371 579h0M323 579h0M317 579h0M343 579h0"/>
<path class="c2" d="M351 580h0M299 580h0M319 579h0M325 579h0M440 579h0"/>
<path class="c5" d="M398 580h0M369 580h0M383 579h0M387 579h0M381 579h0M373 579h0"/>
<path class="c6" d="M408 579h0M406 578h0M379 578h0M438 578h0M440 578h0M390 578h0"/>
<path class="c4" d="M365 579h0M353 578h0M339 578h0M396 578h0M337 578h0M375 577h0M442 577h0M402 577h0"/>
<path class="c3" d="M351 578h0M377 578h0M369 578h0M345 578h0M387 578h0M385 577h0M381 577h0M390 577h0M369 577h0"/>
<path class="c5" d="M363 579h0M361 578h0M414 578h0M394 578h0M383 578h0M377 577h0"/>
<path class="c1" d="M363 578h0M345 577h0"/>
<path class="c2" d="M357 578h0M367 578h0M349 578h0M355 578h0M343 578h0M319 577h0"/>
<path class="c0" d="M337 579h0M450 578h0M305 578h0"/>
<path class="c4" d="M363 577h0M379 577h0M398 577h0M349 576h0M375 576h0M367 576h0M369 576h0M355 576h0M339 576h0M345 576h0M383 576h0M321 575h0M408 575h0"/>
<path class="c6" d="M442 576h0M446 575h0"/>
<path class="c5" d="M387 577h0M398 576h0M410 576h0M363 576h0M377 576h0M394 575h0"/>
<path class="c3" d="M361 577h0M357 577h0M347 577h0M452 576h0M343 576h0M387 576h0M359 576h0"/>
<path class="c0" d="M317 577h0M355 577h0M341 577h0M365 577h0M317 576h0M349 575h0"/>
<path class="c1" d="M351 577h0"/>
<path class="c2" d="M440 577h0M337 577h0M347 576h0M337 576h0M379 576h0"/>
<path class="c0" d="M355 574h0M381 574h0"/>
<path class="c1" d="M331 575h0M438 575h0M317 575h0M392 574h0"/>
<path class="c6" d="M456 575h0M383 575h0M349 574h0M404 574h0"/>
<path class="c2" d="M361 575h0M337 575h0M347 575h0M345 575h0M363 574h0M339 574h0M383 574h0"/>
<path class="c5" d="M367 575h0M353 575h0M458 574h0M347 574h0M369 574h0M377 574h0"/>
<path class="c4" d="M373 575h0M381 575h0M341 575h0M361 574h0M387 574h0M343 574h0M385 574h0"/>
<path class="c3" d="M377 575h0M442 575h0M396 575h0M357 575h0M385 575h0M440 574h0M357 574h0M353 574h0M345 574h0M375 574h0"/>
<path class="c2" d="M337 574h0M392 573h0M476 573h0M347 573h0M357 572h0"/>
<path class="c0" d="M343 573h0M329 572h0"/>
<path class="c4" d="M385 573h0M440 573h0M402 573h0M739 573h0M387 573h0M390 573h0M377 573h0M355 573h0M452 572h0"/>
<path class="c6" d="M408 573h0M538 573h0"/>
<path class="c3" d="M444 574h0M373 573h0M371 573h0M353 573h0M552 573h0M359 573h0M361 573h0M317 572h0M385 572h0M446 572h0M440 572h0"/>
<path class="c5" d="M381 573h0M396 573h0M458 573h0M369 573h0M379 573h0M402 572h0"/>
<path class="c1" d="M319 573h0M365 573h0M323 573h0M341 573h0M337 573h0"/>
<path class="c4" d="M373 572h0M369 572h0M580 572h0M365 572h0M377 572h0M361 571h0M440 571h0M379 571h0M357 571h0M337 571h0M347 571h0"/>
<path class="c0" d="M339 572h0M262 572h0"/>
<path class="c5" d="M355 572h0M379 572h0M381 571h0M355 571h0M408 571h0M377 571h0"/>
<path class="c1" d="M341 572h0M371 571h0M351 571h0M363 571h0M438 571h0M349 571h0"/>
<path class="c3" d="M351 572h0M363 572h0M390 571h0M373 571h0M333 571h0M387 571h0"/>
<path class="c6" d="M383 572h0M396 571h0M398 571h0"/>
<path class="c2" d="M345 572h0M347 572h0M337 572h0M538 572h0M442 571h0M317 571h0"/>
<path class="c2" d="M341 571h0M341 570h0M452 569h0M480 569h0"/>
<path class="c4" d="M371 570h0M383 570h0M381 570h0M387 570h0M584 569h0M365 569h0M355 569h0"/>
<path class="c5" d="M365 571h0M349 570h0M396 570h0M398 570h0M381 569h0M404 569h0M428 569h0"/>
<path class="c0" d="M317 570h0M375 570h0M262 569h0"/>
<path class="c6" d="M438 570h0M379 570h0M414 569h0M408 569h0"/>
<path class="c3" d="M319 570h0M353 570h0M337 570h0M558 570h0M359 570h0M363 570h0M357 570h0M343 570h0M347 570h0M367 570h0M440 569h0M438 569h0"/>
<path class="c1" d="M343 571h0M339 570h0M321 569h0"/>
<path class="c6" d="M426 569h0M383 568h0M377 568h0"/>
<path class="c0" d="M438 568h0"/>
<path class="c2" d="M385 569h0M390 569h0M317 569h0M339 569h0M329 568h0"/>
<path class="c3" d="M377 569h0M353 569h0M347 569h0M337 569h0M357 568h0M379 568h0M404 568h0M365 568h0"/>
<path class="c4" d="M373 569h0M359 569h0M351 569h0M343 569h0M321 568h0M385 568h0M442 568h0M363 568h0M353 568h0M325 568h0M337 568h0"/>
<path class="c5" d="M410 569h0M379 569h0M400 568h0M406 568h0M414 568h0M369 568h0"/>
<path class="c1" d="M363 569h0M345 569h0M355 568h0M317 568h0M341 568h0M345 568h0"/>
<path class="c3" d="M373 568h0M383 567h0M343 567h0M363 567h0M349 567h0M353 567h0M337 567h0M400 566h0M444 566h0M375 566h0M351 566h0M359 566h0"/>
<path class="c2" d="M367 567h0M540 567h0M355 566h0M297 566h0M319 566h0M369 566h0"/>
<path class="c1" d="M349 568h0M347 567h0"/>
<path class="c5" d="M385 567h0M379 567h0M387 567h0M375 567h0M355 567h0M387 566h0M406 566h0"/>
<path class="c6" d="M438 567h0M444 567h0M436 567h0M442 566h0"/>
<path class="c4" d="M410 567h0M377 567h0M588 567h0M341 567h0M365 567h0M400 567h0M392 566h0"/>
<path class="c0" d="M359 567h0M323 566h0"/>
<path class="c3" d="M385 566h0M341 566h0M363 565h0M404 565h0M406 564h0"/>
<path class="c5" d="M396 566h0M394 565h0M375 565h0M381 565h0M394 564h0"/>
<path class="c4" d="M404 566h0M381 566h0M377 566h0M367 566h0M396 565h0M367 565h0M387 565h0M359 565h0M442 565h0M385 565h0M377 565h0M361 565h0M355 565h0M400 565h0M392 565h0"/>
<path class="c1" d="M363 566h0M345 566h0M341 565h0M337 565h0M442 564h0"/>
<path class="c0" d="M337 566h0M349 566h0M323 565h0M317 565h0"/>
<path class="c2" d="M339 566h0M347 565h0M446 565h0M343 565h0"/>
<path class="c6" d="M383 566h0M438 565h0"/>
<path class="c3" d="M351 564h0M402 564h0M337 564h0M390 564h0M351 563h0M462 563h0M345 563h0M365 563h0M369 563h0M377 563h0M347 563h0M361 563h0"/>
<path class="c1" d="M357 564h0M317 564h0M349 564h0M408 564h0M329 563h0"/>
<path class="c2" d="M379 564h0M343 564h0M345 564h0M544 563h0"/>
<path class="c5" d="M400 564h0M367 564h0M424 564h0M400 563h0M359 563h0"/>
<path class="c0" d="M341 564h0M375 563h0M353 563h0"/>
<path class="c4" d="M359 564h0M383 564h0M365 564h0M377 564h0M398 563h0M385 563h0M390 563h0M355 563h0"/>
<path class="c6" d="M438 563h0M414 563h0M440 563h0"/>
<path class="c1" d="M341 563h0M351 562h0M355 561h0M337 561h0"/>
<path class="c6" d="M426 562h0M454 562h0M538 561h0"/>
<path class="c5" d="M402 562h0M377 562h0M438 561h0"/>
<path class="c4" d="M337 563h0M398 562h0M363 562h0M355 562h0M359 562h0M414 562h0M387 562h0M373 562h0M394 562h0M369 562h0M379 562h0M339 562h0M371 561h0M363 561h0"/>
<path class="c2" d="M379 563h0M347 562h0M319 562h0M367 561h0M349 561h0M359 561h0"/>
<path class="c0" d="M337 562h0M345 562h0"/>
<path class="c3" d="M323 562h0M317 562h0M365 562h0M341 562h0M383 562h0M351 561h0M375 561h0M379 561h0"/>
<path class="c6" d="M442 561h0M446 560h0M448 559h0"/>
<path class="c4" d="M345 561h0M440 560h0M379 560h0M390 560h0M458 559h0M347 559h0M351 559h0"/>
<path class="c5" d="M448 560h0M390 559h0M438 559h0"/>
<path class="c0" d="M347 561h0M317 561h0M351 560h0M297 560h0M359 560h0M337 560h0"/>
<path class="c1" d="M317 560h0"/>
<path class="c3" d="M339 561h0M377 561h0M383 561h0M347 560h0M398 560h0M381 560h0M365 560h0M385 560h0M343 560h0M363 560h0M377 560h0M572 560h0M400 559h0M538 559h0M319 559h0"/>
<path class="c2" d="M341 561h0M367 560h0M341 560h0M371 560h0M321 559h0"/>
<path class="c3" d="M341 559h0M345 559h0M339 559h0M379 559h0M337 559h0M337 558h0M383 558h0M343 558h0M339 558h0"/>
<path class="c4" d="M377 559h0M381 559h0M602 558h0"/>
<path class="c0" d="M365 559h0M361 559h0M349 558h0M351 558h0M355 558h0"/>
<path class="c5" d="M446 558h0M381 558h0"/>
<path class="c1" d="M446 559h0M363 558h0M444 558h0M456 558h0M387 558h0M375 558h0M327 558h0M357 558h0"/>
<path class="c2" d="M355 559h0M359 559h0M321 558h0M390 558h0M394 558h0M385 558h0M345 558h0M365 558h0"/>
<path class="c6" d="M373 558h0M398 558h0M428 558h0M683 558h0M438 558h0"/>
<path class="c6" d="M450 557h0M440 557h0M442 556h0"/>
<path class="c3" d="M359 558h0M327 557h0M377 557h0M365 557h0M398 557h0M373 557h0M383 557h0M363 557h0M387 557h0M369 556h0M390 556h0M402 556h0"/>
<path class="c5" d="M392 557h0M402 557h0M379 557h0M381 557h0M396 556h0M367 556h0"/>
<path class="c1" d="M339 557h0M337 557h0M349 556h0"/>
<path class="c0" d="M297 558h0M349 557h0M319 557h0M353 557h0M317 556h0"/>
<path class="c2" d="M377 558h0M317 557h0M343 557h0M357 557h0M345 557h0M357 556h0"/>
<path class="c4" d="M394 557h0M420 557h0M371 557h0M480 557h0M361 557h0"/>
<path class="c3" d="M345 556h0M339 556h0M353 556h0M359 556h0M367 555h0M355 555h0M456 555h0M394 555h0M408 555h0M339 555h0"/>
<path class="c5" d="M351 556h0M377 556h0M387 555h0M400 555h0M402 555h0M379 555h0M464 554h0"/>
<path class="c0" d="M375 556h0M341 556h0M343 555h0"/>
<path class="c4" d="M385 556h0M363 556h0M387 556h0M440 555h0M377 555h0M347 555h0M369 555h0M385 555h0M359 555h0"/>
<path class="c6" d="M365 556h0M381 556h0M398 555h0M418 555h0"/>
<path class="c1" d="M337 556h0M379 556h0M345 555h0M383 555h0"/>
<path class="c2" d="M373 555h0M349 555h0M337 555h0"/>
<path class="c1" d="M329 554h0M343 554h0M347 554h0M379 554h0M339 554h0M375 554h0M355 553h0"/>
<path class="c4" d="M371 554h0M337 554h0M359 554h0M387 553h0M375 553h0M379 553h0"/>
<path class="c5" d="M400 554h0M412 554h0M438 553h0M414 553h0"/>
<path class="c2" d="M390 554h0M367 554h0M355 554h0M351 554h0M377 554h0M387 554h0M396 553h0M390 553h0"/>
<path class="c0" d="M363 554h0M327 553h0M339 553h0"/>
<path class="c6" d="M408 554h0M438 554h0M440 553h0"/>
<path class="c3" d="M345 554h0M383 554h0M371 553h0M392 553h0M359 553h0M365 553h0M353 553h0M345 553h0M383 553h0"/>
<path class="c0" d="M406 553h0M337 553h0M349 553h0M329 552h0M345 552h0"/>
<path class="c1" d="M325 552h0M367 552h0M317 552h0M379 552h0M339 552h0M319 551h0M440 551h0"/>
<path class="c5" d="M377 552h0M430 551h0M444 551h0"/>
<path class="c4" d="M400 553h0M377 553h0M361 553h0M402 552h0M351 552h0M385 552h0M359 552h0M396 552h0"/>
<path class="c3" d="M373 552h0M371 552h0M381 552h0M361 552h0M365 552h0M355 552h0M420 552h0M584 551h0M408 551h0M404 551h0"/>
<path class="c2" d="M442 552h0M337 552h0M560 552h0M341 552h0M349 552h0M325 551h0"/>
<path class="c6" d="M458 552h0"/>
<path class="c6" d="M438 551h0M448 550h0M446 550h0M398 550h0"/>
<path class="c1" d="M373 551h0M359 551h0M337 551h0M345 551h0M343 551h0M337 550h0M367 550h0"/>
<path class="c0" d="M335 551h0M317 551h0M460 550h0"/>
<path class="c2" d="M383 551h0M339 551h0M355 551h0M343 550h0"/>
<path class="c4" d="M367 551h0M539 551h0M377 551h0M387 551h0M349 551h0M438 550h0M379 550h0M359 550h0M440 550h0M361 550h0M390 550h0"/>
<path class="c5" d="M381 551h0M398 551h0M347 550h0M410 550h0"/>
<path class="c3" d="M400 551h0M548 551h0M365 551h0M404 550h0M349 550h0M341 550h0M392 550h0"/>
<path class="c4" d="M377 550h0M363 549h0M353 549h0M351 549h0M396 549h0M450 549h0M377 549h0M357 549h0M444 548h0M383 548h0M379 548h0"/>
<path class="c1" d="M339 550h0M367 549h0M345 549h0M357 548h0M349 548h0"/>
<path class="c5" d="M383 550h0M440 549h0M381 549h0M359 549h0M390 549h0M377 548h0"/>
<path class="c3" d="M383 549h0M341 549h0M588 549h0M375 549h0M337 549h0M400 548h0M387 548h0M347 548h0"/>
<path class="c2" d="M387 549h0M379 549h0M349 549h0M343 548h0"/>
<path class="c6" d="M444 550h0M458 549h0M438 549h0"/>
<path class="c0" d="M339 549h0M408 549h0M317 548h0"/>
<path class="c4" d="M392 548h0M363 548h0M369 548h0M394 547h0M363 547h0M349 547h0M474 546h0M404 546h0M381 546h0M387 546h0"/>
<path class="c2" d="M341 548h0M347 547h0M361 547h0M327 547h0M402 547h0"/>
<path class="c0" d="M365 548h0M353 548h0M341 547h0M322 547h0"/>
<path class="c1" d="M337 548h0M343 547h0M351 547h0M337 547h0M357 547h0M373 546h0"/>
<path class="c6" d="M424 548h0M438 548h0"/>
<path class="c3" d="M373 547h0M387 547h0M355 547h0M383 547h0M339 547h0M400 546h0"/>
<path class="c5" d="M406 547h0M408 547h0M381 547h0M377 547h0M390 546h0M365 546h0M438 546h0"/>
<path class="c1" d="M355 546h0M359 546h0M351 546h0"/>
<path class="c2" d="M486 546h0M375 546h0M438 545h0M349 545h0M337 545h0M353 544h0"/>
<path class="c3" d="M343 546h0M402 546h0M592 546h0M337 546h0M339 546h0M363 545h0M347 545h0M377 545h0M365 545h0M355 545h0M379 545h0"/>
<path class="c5" d="M347 546h0M390 545h0M387 545h0M440 544h0"/>
<path class="c4" d="M440 546h0M394 546h0M351 545h0M396 545h0M373 545h0M369 545h0M383 545h0M339 545h0M343 545h0M404 544h0M351 544h0M396 544h0M412 544h0"/>
<path class="c6" d="M377 546h0"/>
<path class="c0" d="M341 546h0M335 544h0"/>
<path class="c3" d="M355 544h0M373 544h0M363 544h0M400 544h0M339 544h0M596 543h0M353 543h0M385 543h0M361 543h0M406 543h0M339 543h0"/>
<path class="c0" d="M347 544h0M337 544h0M307 543h0"/>
<path class="c1" d="M381 544h0M369 544h0M317 543h0M357 543h0M377 543h0"/>
<path class="c5" d="M379 544h0M480 543h0M349 543h0M363 543h0M387 543h0M369 542h0"/>
<path class="c2" d="M361 544h0M398 543h0M438 543h0M337 543h0M345 543h0M379 543h0M343 543h0M369 543h0"/>
<path class="c6" d="M460 543h0"/>
<path class="c4" d="M377 544h0M367 544h0M392 544h0M357 544h0M347 543h0M381 543h0"/>
<path class="c6" d="M448 542h0M444 541h0M424 541h0"/>
<path class="c0" d="M345 542h0M381 542h0M355 542h0M339 542h0"/>
<path class="c3" d="M387 542h0M406 541h0M600 541h0M351 541h0M390 541h0M343 541h0"/>
<path class="c2" d="M398 542h0M357 542h0M343 542h0M379 541h0"/>
<path class="c1" d="M390 542h0M349 542h0M351 542h0M333 542h0M337 542h0M379 542h0M438 541h0M375 541h0"/>
<path class="c5" d="M371 542h0M440 542h0M406 542h0M412 542h0M404 542h0M394 542h0M383 541h0"/>
<path class="c4" d="M363 542h0M400 542h0M373 542h0M377 542h0M385 542h0M398 541h0M359 541h0M394 541h0"/>
<path class="c3" d="M442 541h0M410 540h0M361 540h0M394 540h0M343 540h0M373 540h0M381 540h0M379 540h0M337 540h0M392 539h0"/>
<path class="c2" d="M377 541h0M357 541h0M355 541h0M538 540h0M339 540h0M353 540h0"/>
<path class="c1" d="M339 541h0M345 540h0M363 540h0M367 540h0M377 540h0M369 540h0M365 539h0"/>
<path class="c5" d="M412 541h0M367 541h0M420 541h0M478 540h0M404 540h0M392 540h0"/>
<path class="c6" d="M448 540h0"/>
<path class="c4" d="M387 541h0M396 540h0M402 540h0M383 540h0M420 540h0M359 540h0M371 540h0M458 539h0"/>
<path class="c0" d="M347 541h0M355 540h0"/>
<path class="c6" d="M438 539h0M396 538h0"/>
<path class="c1" d="M450 539h0M383 539h0M343 539h0M341 539h0M381 539h0M353 538h0M363 538h0"/>
<path class="c4" d="M400 539h0M390 539h0M363 539h0M387 538h0M392 538h0M383 538h0"/>
<path class="c2" d="M361 539h0M369 539h0M402 539h0M337 539h0M371 539h0M365 538h0M361 538h0"/>
<path class="c0" d="M377 539h0M341 538h0M345 538h0"/>
<path class="c5" d="M448 539h0M347 539h0M379 539h0M422 538h0M428 538h0M458 538h0"/>
<path class="c3" d="M420 539h0M375 539h0M396 539h0M387 539h0M402 538h0M357 538h0M355 538h0M339 538h0M349 538h0"/>
<path class="c1" d="M337 538h0M377 538h0M349 537h0"/>
<path class="c2" d="M452 537h0M357 537h0M369 537h0M343 537h0M377 537h0M446 536h0"/>
<path class="c4" d="M381 538h0M371 538h0M432 537h0M355 537h0M396 537h0M406 537h0M394 537h0M365 537h0M392 536h0"/>
<path class="c3" d="M383 537h0M381 537h0M379 537h0M351 537h0M347 537h0M363 537h0M337 537h0M341 537h0M359 536h0"/>
<path class="c6" d="M446 537h0M462 537h0M400 537h0M394 536h0"/>
<path class="c0" d="M333 537h0M339 537h0M347 536h0"/>
<path class="c5" d="M406 538h0M387 537h0M440 537h0M373 537h0M398 536h0M438 536h0"/>
<path class="c4" d="M402 536h0M381 536h0M357 535h0M404 535h0M544 535h0M361 535h0M377 535h0M339 535h0M446 535h0M383 535h0"/>
<path class="c2" d="M337 535h0M379 535h0M341 535h0M375 535h0M345 535h0M385 535h0"/>
<path class="c1" d="M337 536h0M398 535h0M353 535h0M442 535h0"/>
<path class="c0" d="M317 536h0M345 536h0"/>
<path class="c5" d="M367 536h0M369 536h0M377 536h0M454 535h0M548 535h0M402 535h0"/>
<path class="c6" d="M440 536h0M438 535h0M418 535h0"/>
<path class="c3" d="M363 536h0M385 536h0M390 536h0M355 536h0M341 536h0M330 535h0M347 535h0M365 535h0M351 535h0"/>
<path class="c3" d="M396 534h0M377 534h0M355 534h0M341 534h0M337 534h0M367 533h0M375 533h0M361 533h0M351 533h0M387 533h0M347 533h0M377 533h0"/>
<path class="c4" d="M422 534h0M404 534h0M418 534h0M400 534h0M398 534h0M398 533h0M420 533h0"/>
<path class="c5" d="M387 534h0M406 534h0M392 534h0M349 534h0M375 534h0M406 533h0"/>
<path class="c1" d="M353 534h0M369 534h0M359 534h0M343 534h0M343 533h0"/>
<path class="c2" d="M365 534h0M347 534h0M353 533h0M359 533h0M339 533h0"/>
<path class="c0" d="M349 533h0"/>
<path class="c6" d="M381 534h0M442 533h0M452 533h0M438 533h0"/>
<path class="c2" d="M383 533h0M337 533h0M339 532h0"/>
<path class="c1" d="M381 533h0M452 532h0M351 532h0M357 532h0M363 531h0"/>
<path class="c5" d="M432 532h0M398 531h0M438 531h0"/>
<path class="c6" d="M446 532h0M440 532h0M458 531h0"/>
<path class="c4" d="M400 533h0M381 532h0M392 532h0M363 532h0M402 532h0M387 531h0M369 531h0"/>
<path class="c0" d="M371 532h0M390 532h0M396 531h0"/>
<path class="c3" d="M365 533h0M371 533h0M438 532h0M367 532h0M349 532h0M353 532h0M414 532h0M365 532h0M345 532h0M337 532h0M383 532h0M377 532h0M448 531h0M337 531h0M392 531h0M359 531h0"/>
<path class="c3" d="M383 531h0M341 531h0M381 531h0M562 530h0M357 530h0M383 530h0M343 530h0M377 530h0"/>
<path class="c0" d="M347 531h0M371 530h0M355 530h0M337 530h0M353 530h0M394 530h0"/>
<path class="c5" d="M404 531h0M424 531h0M375 531h0M442 531h0M406 530h0M464 530h0M438 530h0M390 530h0"/>
<path class="c4" d="M343 531h0M373 531h0M385 530h0M367 530h0M398 530h0"/>
<path class="c2" d="M379 531h0M339 531h0M363 530h0M339 530h0M373 530h0M345 530h0M351 530h0"/>
<path class="c6" d="M450 531h0M379 530h0"/>
<path class="c1" d="M351 531h0M349 530h0M365 530h0M422 530h0"/>
<path class="c4" d="M400 529h0M387 529h0M410 529h0M369 529h0M408 528h0M387 528h0"/>
<path class="c6" d="M442 529h0"/>
<path class="c5" d="M460 529h0M458 529h0M438 529h0M404 528h0M428 528h0"/>
<path class="c3" d="M398 529h0M365 529h0M351 529h0M381 529h0M367 529h0M341 529h0M379 529h0M375 529h0M353 529h0M402 528h0"/>
<path class="c0" d="M321 529h0M363 528h0M462 528h0M365 528h0M339 528h0"/>
<path class="c2" d="M345 529h0M394 529h0M385 529h0M371 529h0M337 529h0M339 529h0M466 528h0"/>
<path class="c1" d="M349 529h0M361 529h0M359 529h0M371 528h0M359 528h0M345 528h0"/>
<path class="c6" d="M444 528h0M430 528h0M385 527h0M438 527h0M442 527h0M446 526h0"/>
<path class="c3" d="M383 528h0M379 528h0M343 528h0M392 528h0M377 528h0M357 527h0M355 527h0M339 527h0M392 527h0M379 527h0M377 527h0"/>
<path class="c5" d="M414 528h0M375 527h0M390 527h0M440 526h0M385 526h0"/>
<path class="c1" d="M337 528h0M351 528h0M359 527h0M345 527h0M369 527h0M371 526h0"/>
<path class="c2" d="M400 527h0M341 527h0M353 527h0M363 527h0"/>
<path class="c0" d="M355 528h0M351 527h0M347 527h0"/>
<path class="c4" d="M488 528h0M371 527h0M381 527h0M367 527h0M404 527h0"/>
<path class="c5" d="M404 526h0M438 525h0M394 525h0"/>
<path class="c2" d="M351 526h0M343 525h0M353 525h0M367 525h0M396 525h0M357 525h0M377 525h0M365 525h0"/>
<path class="c0" d="M377 526h0M383 525h0M345 525h0M349 525h0M371 525h0"/>
<path class="c1" d="M355 526h0M341 526h0M361 525h0M379 525h0"/>
<path class="c6" d="M444 526h0M446 525h0M440 525h0"/>
<path class="c4" d="M414 526h0M381 526h0M438 526h0M387 526h0M339 526h0M375 525h0M412 525h0"/>
<path class="c3" d="M390 526h0M349 526h0M367 526h0M379 526h0M363 526h0M357 526h0M337 526h0M339 525h0M359 525h0M392 525h0"/>
<path class="c4" d="M365 524h0M390 524h0M402 524h0M422 523h0M390 523h0M369 523h0M387 523h0M398 523h0"/>
<path class="c0" d="M339 524h0M385 524h0"/>
<path class="c6" d="M408 525h0M444 525h0M440 524h0M410 523h0M438 523h0"/>
<path class="c5" d="M418 524h0M367 524h0M398 524h0M371 524h0M460 523h0M496 523h0"/>
<path class="c2" d="M355 524h0M361 524h0M379 524h0M347 524h0M351 523h0M396 523h0"/>
<path class="c3" d="M385 525h0M377 524h0M357 524h0M351 524h0M438 524h0M381 524h0M406 524h0M341 524h0M430 523h0"/>
<path class="c1" d="M337 525h0M404 524h0M343 524h0M359 523h0"/>
<path class="c5" d="M363 523h0M402 523h0M398 522h0M442 522h0M355 522h0"/>
<path class="c0" d="M345 523h0M337 523h0M381 523h0M339 522h0"/>
<path class="c4" d="M377 523h0M424 523h0M367 523h0M385 523h0M385 522h0M347 522h0M359 522h0M377 522h0M367 522h0M438 522h0"/>
<path class="c1" d="M339 523h0M341 523h0M343 522h0M337 522h0"/>
<path class="c6" d="M448 523h0M446 522h0M448 522h0"/>
<path class="c2" d="M400 523h0M440 523h0M351 522h0M357 522h0M363 522h0M381 522h0"/>
<path class="c3" d="M347 523h0M379 523h0M355 523h0M383 523h0M478 523h0M390 522h0M373 522h0M353 522h0"/>
<path class="c2" d="M369 521h0M371 521h0M351 521h0M371 520h0"/>
<path class="c6" d="M438 521h0M440 520h0M430 520h0"/>
<path class="c5" d="M442 521h0M440 521h0M383 521h0M438 520h0M444 520h0M392 520h0M462 520h0"/>
<path class="c1" d="M341 521h0M317 521h0M337 521h0M387 521h0M367 520h0"/>
<path class="c3" d="M400 521h0M345 521h0M359 521h0M385 521h0M381 520h0M394 520h0"/>
<path class="c0" d="M379 521h0M373 521h0M359 520h0"/>
<path class="c4" d="M408 521h0M392 521h0M396 521h0M390 521h0M339 521h0M377 521h0M416 520h0M398 520h0M383 520h0M363 520h0M355 520h0M339 520h0"/>
<path class="c4" d="M353 520h0M361 519h0M396 519h0M373 519h0M400 519h0M381 519h0M367 519h0"/>
<path class="c2" d="M440 519h0M416 519h0M341 519h0M363 518h0"/>
<path class="c0" d="M347 520h0M337 519h0M339 519h0"/>
<path class="c3" d="M379 520h0M373 520h0M377 520h0M343 520h0M396 520h0M385 519h0M347 519h0M398 518h0M355 518h0M347 518h0"/>
<path class="c6" d="M456 519h0M390 519h0M422 518h0M444 518h0M476 518h0"/>
<path class="c5" d="M355 519h0M432 519h0M375 519h0"/>
<path class="c1" d="M377 519h0M404 519h0M345 519h0M359 519h0M353 519h0M343 518h0M448 518h0M369 518h0"/>
<path class="c1" d="M359 518h0M343 517h0M361 517h0"/>
<path class="c2" d="M379 518h0M387 518h0M337 518h0M410 517h0M351 517h0M365 517h0M400 517h0"/>
<path class="c4" d="M392 518h0M394 518h0M396 518h0M392 517h0M440 517h0M385 517h0M379 517h0"/>
<path class="c3" d="M353 518h0M383 518h0M381 518h0M375 518h0M341 518h0M408 517h0M337 517h0M402 517h0M347 517h0M377 517h0M560 517h0M339 517h0M406 516h0"/>
<path class="c5" d="M375 517h0M387 517h0M438 517h0"/>
<path class="c6" d="M452 518h0M442 518h0M428 517h0M446 517h0"/>
<path class="c0" d="M351 518h0M341 517h0M351 516h0"/>
<path class="c1" d="M385 516h0M343 516h0M440 516h0M381 516h0M355 516h0M339 516h0M357 516h0M337 515h0"/>
<path class="c4" d="M353 516h0M400 516h0M394 516h0M367 516h0M484 516h0M440 515h0M369 515h0M387 515h0"/>
<path class="c0" d="M363 516h0M347 515h0M303 515h0"/>
<path class="c3" d="M396 516h0M383 516h0M639 516h0M371 516h0M377 516h0M337 516h0M365 515h0M353 515h0M418 515h0"/>
<path class="c2" d="M347 516h0M345 516h0M373 516h0M375 515h0M343 515h0M444 515h0"/>
<path class="c6" d="M412 516h0M404 516h0M438 515h0"/>
<path class="c5" d="M402 516h0M379 515h0M377 515h0"/>
<path class="c6" d="M440 514h0M438 514h0"/>
<path class="c2" d="M398 515h0M383 515h0M341 515h0M377 514h0M345 514h0M367 514h0M349 514h0"/>
<path class="c5" d="M448 514h0M387 513h0M440 513h0M420 513h0"/>
<path class="c3" d="M390 515h0M394 515h0M361 515h0M387 514h0M343 514h0M369 514h0M337 514h0M410 514h0M365 514h0M400 514h0M390 514h0M373 514h0M339 514h0M392 513h0M371 513h0"/>
<path class="c4" d="M351 514h0M359 514h0M402 514h0M396 514h0M379 514h0M381 513h0M390 513h0M377 513h0"/>
<path class="c1" d="M349 515h0M361 514h0"/>
<path class="c0" d="M331 514h0M347 514h0"/>
<path class="c0" d="M351 513h0M339 513h0M347 513h0M343 513h0M337 512h0M349 512h0M339 512h0"/>
<path class="c1" d="M337 513h0M357 513h0M375 512h0M406 512h0M452 511h0"/>
<path class="c3" d="M400 513h0M341 513h0M361 513h0M442 512h0M363 512h0M385 512h0M341 512h0M369 512h0M379 512h0"/>
<path class="c5" d="M367 513h0M396 513h0M578 512h0M412 512h0"/>
<path class="c6" d="M442 513h0M452 512h0M448 512h0"/>
<path class="c4" d="M390 512h0M357 512h0M383 512h0M418 512h0"/>
<path class="c2" d="M398 513h0M365 513h0M383 513h0M359 513h0M343 512h0M361 512h0M367 512h0M371 512h0"/>
<path class="c1" d="M355 511h0M361 511h0M418 511h0M385 511h0M349 510h0M416 510h0M396 510h0M361 510h0"/>
<path class="c4" d="M367 511h0M539 511h0M365 511h0M446 511h0M379 511h0M398 511h0M400 511h0M394 511h0M371 510h0"/>
<path class="c3" d="M381 511h0M375 511h0M345 511h0M337 511h0M379 510h0M377 510h0M353 510h0"/>
<path class="c5" d="M428 511h0M402 511h0M440 511h0M420 510h0M414 510h0M448 510h0"/>
<path class="c2" d="M351 511h0M357 511h0M343 511h0M339 511h0M392 511h0M383 510h0M339 510h0"/>
<path class="c6" d="M444 511h0M438 511h0M454 510h0"/>
<path class="c1" d="M349 509h0M402 509h0M396 509h0M351 509h0M339 509h0"/>
<path class="c4" d="M365 510h0M369 510h0M385 510h0M337 509h0M408 509h0M390 509h0M442 509h0M450 509h0M398 509h0"/>
<path class="c2" d="M337 510h0M365 509h0M373 509h0M343 509h0M345 509h0M381 508h0"/>
<path class="c3" d="M357 509h0M526 509h0M383 509h0M353 509h0M363 509h0M377 509h0M392 509h0"/>
<path class="c6" d="M438 510h0M440 510h0M375 510h0M440 509h0M361 509h0M460 509h0"/>
<path class="c5" d="M398 510h0M418 510h0M412 509h0M742 509h0M538 509h0M385 509h0M404 508h0"/>
<path class="c1" d="M452 508h0M373 508h0M359 508h0M456 507h0"/>
<path class="c0" d="M345 508h0M446 507h0"/>
<path class="c3" d="M351 508h0M339 508h0M406 508h0M373 507h0M355 507h0M404 507h0M345 507h0M349 507h0"/>
<path class="c2" d="M355 508h0M390 508h0M398 508h0M377 508h0M392 508h0M394 508h0M349 508h0M335 508h0M363 507h0M371 507h0M478 507h0M341 507h0"/>
<path class="c6" d="M490 508h0"/>
<path class="c4" d="M416 508h0M379 508h0M438 508h0M739 508h0M410 508h0M385 508h0M422 508h0M357 507h0M392 507h0"/>
<path class="c5" d="M442 508h0M400 508h0M440 508h0M452 507h0"/>
<path class="c0" d="M351 507h0M381 506h0M345 506h0"/>
<path class="c1" d="M339 507h0M365 506h0M400 506h0M458 506h0M337 506h0"/>
<path class="c4" d="M381 507h0M367 507h0M416 507h0M438 506h0"/>
<path class="c6" d="M444 507h0M418 507h0M442 507h0M446 506h0M456 506h0M540 506h0M442 506h0"/>
<path class="c5" d="M438 507h0M394 506h0M343 506h0"/>
<path class="c3" d="M369 507h0M377 507h0M367 506h0M383 506h0M396 506h0M466 506h0M377 506h0M450 506h0M339 506h0M359 506h0M478 505h0"/>
<path class="c2" d="M400 507h0M355 506h0M375 506h0M349 506h0M363 506h0M440 506h0M353 506h0"/>
<path class="c2" d="M377 505h0M337 505h0M361 504h0M353 504h0M343 504h0"/>
<path class="c1" d="M353 505h0M341 505h0M347 505h0M333 505h0M385 504h0M359 504h0"/>
<path class="c6" d="M456 505h0M446 505h0M434 505h0M452 504h0M440 504h0"/>
<path class="c0" d="M347 504h0"/>
<path class="c5" d="M418 505h0M452 505h0M410 505h0M440 505h0M359 505h0M355 505h0M418 504h0"/>
<path class="c3" d="M392 505h0M363 505h0M343 505h0M408 505h0M345 505h0M438 505h0M379 505h0M369 505h0M373 505h0M369 504h0M438 504h0M375 504h0M377 504h0"/>
<path class="c4" d="M412 505h0M379 504h0M337 504h0"/>
<path class="c5" d="M444 504h0M456 503h0M448 503h0"/>
<path class="c6" d="M442 503h0"/>
<path class="c0" d="M385 503h0M351 503h0M341 502h0"/>
<path class="c1" d="M349 504h0M357 503h0M343 503h0M359 503h0M394 503h0M339 502h0"/>
<path class="c2" d="M339 504h0M355 504h0M394 504h0M418 503h0M339 503h0M363 502h0"/>
<path class="c3" d="M375 503h0M363 503h0M438 503h0M377 503h0M454 503h0M367 503h0M383 503h0M379 503h0M478 502h0M406 502h0M408 502h0M351 502h0M396 502h0"/>
<path class="c4" d="M383 504h0M406 503h0M404 503h0M432 503h0M420 503h0M369 503h0M345 503h0M394 502h0"/>
<path class="c6" d="M460 502h0M440 502h0M442 502h0M446 501h0M440 501h0"/>
<path class="c4" d="M349 502h0M438 502h0M381 502h0M478 501h0M604 501h0M379 501h0"/>
<path class="c5" d="M385 502h0M373 502h0M416 502h0M390 501h0"/>
<path class="c0" d="M343 501h0M385 501h0"/>
<path class="c2" d="M345 502h0M375 501h0M371 501h0M377 501h0M450 501h0M361 501h0M349 501h0M353 501h0"/>
<path class="c1" d="M361 502h0M379 502h0M339 501h0M398 501h0M347 501h0"/>
<path class="c3" d="M371 502h0M357 502h0M400 502h0M337 502h0M377 502h0M367 501h0M387 501h0M357 501h0M400 501h0M381 501h0"/>
<path class="c3" d="M375 500h0M390 500h0M400 500h0M410 500h0M379 500h0M460 499h0M367 499h0M387 499h0M369 499h0"/>
<path class="c1" d="M339 500h0M396 500h0M408 500h0M430 499h0M361 499h0"/>
<path class="c4" d="M450 500h0M404 500h0M402 500h0M470 500h0M371 499h0"/>
<path class="c0" d="M337 500h0M317 500h0M347 500h0M365 500h0"/>
<path class="c5" d="M412 501h0M442 500h0M385 500h0M458 500h0M383 500h0M412 499h0M418 499h0"/>
<path class="c6" d="M472 500h0M460 500h0M438 500h0M452 500h0"/>
<path class="c2" d="M394 501h0M357 500h0M353 500h0M377 500h0M416 500h0M369 500h0"/>
<path class="c2" d="M377 499h0M345 499h0M383 498h0M379 498h0M377 498h0"/>
<path class="c0" d="M337 499h0M339 499h0M363 498h0"/>
<path class="c6" d="M440 499h0M442 499h0M438 498h0M446 498h0M400 498h0M486 498h0"/>
<path class="c4" d="M379 499h0M426 499h0M452 499h0M387 498h0M406 498h0"/>
<path class="c5" d="M514 499h0M400 499h0M446 499h0M545 498h0"/>
<path class="c3" d="M357 499h0M402 499h0M410 499h0M385 499h0M365 498h0M359 498h0M343 498h0M385 498h0M339 498h0M398 498h0M357 498h0M404 498h0M345 498h0"/>
<path class="c1" d="M478 499h0M353 499h0M349 498h0M337 498h0"/>
<path class="c6" d="M426 497h0M470 497h0M450 496h0"/>
<path class="c3" d="M377 497h0M339 497h0M404 497h0M365 497h0M367 497h0M355 497h0M478 496h0M390 496h0M416 496h0M343 496h0M381 496h0M400 496h0"/>
<path class="c4" d="M428 497h0M392 497h0M438 497h0M442 497h0M418 496h0M363 496h0M387 496h0M371 496h0M367 496h0"/>
<path class="c2" d="M383 497h0M337 497h0M361 497h0M381 497h0M394 496h0M347 496h0M422 496h0"/>
<path class="c0" d="M347 497h0M343 497h0"/>
<path class="c5" d="M484 497h0M452 497h0M420 497h0M496 496h0"/>
<path class="c1" d="M406 497h0M353 496h0M402 496h0"/>
<path class="c3" d="M377 496h0M383 496h0M371 495h0M385 495h0M357 495h0M339 495h0M379 495h0M377 494h0M339 494h0M383 494h0"/>
<path class="c6" d="M460 496h0M442 495h0"/>
<path class="c1" d="M349 495h0M396 495h0M367 495h0M398 495h0M347 495h0M337 495h0M369 494h0"/>
<path class="c0" d="M339 496h0M337 496h0"/>
<path class="c2" d="M365 496h0M400 495h0M373 495h0M361 495h0M381 495h0M390 495h0M343 494h0"/>
<path class="c4" d="M365 495h0M359 495h0M343 495h0M392 495h0M377 495h0M387 494h0"/>
<path class="c5" d="M438 496h0M392 496h0M440 496h0M406 495h0M456 495h0M438 495h0"/>
<path class="c1" d="M381 494h0M371 494h0"/>
<path class="c5" d="M418 494h0M394 494h0M446 493h0M416 493h0M438 493h0M458 493h0"/>
<path class="c2" d="M398 494h0M345 494h0M379 494h0M343 493h0M363 493h0M349 493h0M377 493h0"/>
<path class="c0" d="M347 494h0M337 493h0M339 493h0"/>
<path class="c4" d="M400 494h0M357 494h0M359 494h0M398 493h0M387 493h0"/>
<path class="c6" d="M478 494h0M454 494h0M546 493h0M440 493h0M442 493h0"/>
<path class="c3" d="M392 494h0M438 494h0M410 494h0M373 494h0M383 493h0M361 493h0M373 493h0M381 493h0M675 493h0M369 493h0M353 493h0M379 493h0"/>
<path class="c0" d="M355 491h0"/>
<path class="c3" d="M345 492h0M387 492h0M343 492h0M396 491h0M468 491h0M337 491h0M353 491h0M400 491h0M339 491h0"/>
<path class="c4" d="M385 492h0M339 492h0M440 492h0M442 491h0M446 491h0M639 491h0M454 491h0M377 491h0M458 491h0M478 490h0"/>
<path class="c2" d="M400 492h0M355 492h0M341 492h0M371 491h0M390 491h0M351 491h0M343 491h0M438 491h0"/>
<path class="c6" d="M448 492h0"/>
<path class="c5" d="M546 492h0M359 492h0M381 492h0M436 492h0M452 491h0M540 491h0"/>
<path class="c1" d="M375 492h0M377 492h0M379 491h0M347 491h0M361 491h0"/>
<path class="c2" d="M375 490h0M361 490h0M345 490h0M383 490h0M363 490h0M387 489h0M396 489h0M357 489h0"/>
<path class="c5" d="M440 490h0M438 490h0M450 490h0M450 489h0M446 489h0"/>
<path class="c1" d="M365 490h0M351 490h0M349 490h0M377 490h0M361 489h0"/>
<path class="c6" d="M438 489h0"/>
<path class="c0" d="M339 490h0M379 489h0"/>
<path class="c3" d="M369 490h0M412 490h0M398 490h0M341 490h0M390 490h0M347 490h0M381 490h0M355 490h0M402 489h0M404 489h0M337 489h0M426 489h0M363 489h0M367 489h0"/>
<path class="c4" d="M444 490h0M454 490h0M337 490h0M341 489h0M442 489h0"/>
<path class="c4" d="M432 488h0M414 488h0M396 488h0M385 487h0M398 487h0M383 487h0"/>
<path class="c2" d="M390 489h0M375 489h0M381 489h0M390 488h0M408 488h0M343 488h0M339 488h0M406 487h0M377 487h0"/>
<path class="c0" d="M538 487h0M339 487h0"/>
<path class="c1" d="M351 489h0M440 489h0M349 488h0M357 488h0M398 488h0M385 488h0M351 487h0"/>
<path class="c3" d="M345 489h0M359 488h0M379 488h0M373 488h0M377 488h0M396 487h0M404 487h0"/>
<path class="c5" d="M540 488h0M410 488h0M442 488h0M460 487h0M438 487h0M400 487h0"/>
<path class="c6" d="M438 488h0M440 488h0M456 487h0"/>
<path class="c4" d="M381 487h0M416 486h0M454 486h0M385 486h0M442 485h0M517 485h0"/>
<path class="c3" d="M365 487h0M347 487h0M408 486h0M353 486h0M377 486h0M375 486h0M341 486h0M404 485h0M387 485h0M408 485h0M377 485h0"/>
<path class="c2" d="M343 487h0M359 487h0M369 486h0M339 486h0M442 486h0M357 486h0M444 485h0M381 485h0"/>
<path class="c0" d="M349 486h0M379 486h0M351 485h0"/>
<path class="c5" d="M440 487h0M450 486h0M540 486h0M486 485h0"/>
<path class="c1" d="M337 487h0M355 486h0M343 485h0M355 485h0M347 485h0"/>
<path class="c6" d="M579 487h0M452 486h0M466 485h0"/>
<path class="c2" d="M400 485h0M373 484h0M385 484h0M359 484h0M422 484h0M381 484h0M379 484h0M367 484h0M404 484h0M404 483h0M369 483h0"/>
<path class="c5" d="M448 485h0M438 485h0M412 485h0M552 484h0M438 484h0M442 484h0"/>
<path class="c0" d="M396 485h0M337 485h0M351 484h0M339 484h0"/>
<path class="c1" d="M349 485h0M341 485h0M440 485h0M353 484h0"/>
<path class="c6" d="M446 484h0"/>
<path class="c3" d="M383 485h0M369 485h0M377 484h0M428 484h0M394 484h0M337 484h0M375 483h0"/>
<path class="c4" d="M365 485h0M390 485h0M392 485h0M355 484h0M398 484h0M387 484h0M392 484h0"/>
<path class="c2" d="M478 483h0M363 483h0M357 483h0M363 482h0M385 482h0M462 482h0M339 482h0"/>
<path class="c5" d="M442 483h0M438 483h0M540 483h0M387 482h0M379 482h0"/>
<path class="c4" d="M400 482h0M383 482h0M438 482h0M402 481h0"/>
<path class="c1" d="M381 483h0M506 482h0M355 482h0M337 482h0M442 482h0"/>
<path class="c0" d="M339 483h0M343 482h0"/>
<path class="c3" d="M383 483h0M379 483h0M387 483h0M398 483h0M392 482h0M452 482h0M345 482h0M359 482h0M367 482h0M349 482h0M396 482h0M353 481h0"/>
<path class="c6" d="M450 483h0M440 483h0M446 483h0M458 482h0M466 482h0"/>
<path class="c2" d="M369 481h0M408 481h0M398 481h0M349 481h0M379 481h0M385 481h0M337 480h0M385 480h0M406 480h0"/>
<path class="c0" d="M341 481h0M339 481h0M319 480h0"/>
<path class="c5" d="M484 481h0M396 481h0M442 481h0M438 481h0M456 480h0M478 480h0M450 480h0"/>
<path class="c6" d="M478 481h0M432 481h0M446 480h0M442 480h0M560 480h0"/>
<path class="c1" d="M349 480h0M379 480h0"/>
<path class="c3" d="M404 481h0M337 481h0M377 481h0M387 481h0M381 481h0M381 480h0M639 480h0M341 480h0"/>
<path class="c4" d="M458 481h0M470 481h0M438 480h0M398 480h0M440 480h0M371 479h0"/>
<path class="c4" d="M398 479h0M478 479h0M373 479h0M367 479h0M377 478h0"/>
<path class="c1" d="M383 478h0M361 478h0M363 478h0"/>
<path class="c2" d="M452 479h0M402 479h0M406 479h0M412 479h0M416 479h0M398 478h0M341 478h0M396 478h0M337 478h0M367 478h0M355 478h0M339 478h0"/>
<path class="c0" d="M339 479h0M408 478h0"/>
<path class="c3" d="M355 479h0M343 479h0M359 479h0M444 479h0M394 479h0M387 479h0M377 479h0M365 479h0M353 479h0M424 478h0M387 478h0"/>
<path class="c6" d="M438 478h0"/>
<path class="c5" d="M442 479h0M438 479h0M454 479h0M390 479h0M444 478h0M448 478h0"/>
<path class="c3" d="M408 477h0M392 477h0M369 477h0M390 477h0M371 476h0M385 476h0"/>
<path class="c1" d="M456 477h0M341 477h0M339 477h0M343 476h0M377 476h0M359 476h0M339 476h0"/>
<path class="c5" d="M538 477h0M442 477h0M414 477h0M450 477h0M383 477h0M420 476h0M440 476h0"/>
<path class="c4" d="M402 478h0M440 478h0M404 477h0M438 477h0M440 477h0M365 476h0M402 476h0"/>
<path class="c2" d="M404 478h0M381 477h0M337 477h0M377 477h0M347 477h0M367 477h0M373 476h0M381 476h0M394 476h0"/>
<path class="c6" d="M454 477h0M687 476h0"/>
<path class="c0" d="M347 478h0M373 478h0"/>
<path class="c0" d="M349 476h0M359 475h0M353 474h0"/>
<path class="c4" d="M385 475h0M361 475h0M542 475h0M442 475h0M396 474h0M444 474h0"/>
<path class="c1" d="M398 476h0M345 476h0M347 475h0M377 475h0M353 475h0M351 475h0M375 474h0"/>
<path class="c3" d="M398 475h0M426 475h0M381 475h0M367 475h0M420 475h0M538 474h0"/>
<path class="c6" d="M464 476h0M466 474h0M438 474h0M452 474h0M506 474h0"/>
<path class="c5" d="M438 476h0M454 475h0M444 475h0M416 475h0M438 475h0M408 475h0M440 474h0M570 474h0"/>
<path class="c2" d="M396 475h0M339 475h0M365 474h0M363 474h0M390 474h0"/>
<path class="c2" d="M484 474h0M349 474h0M361 474h0M488 473h0M339 473h0M359 473h0M396 473h0M353 473h0M355 473h0"/>
<path class="c1" d="M339 474h0M375 473h0M408 473h0"/>
<path class="c0" d="M377 474h0M341 474h0M347 473h0"/>
<path class="c5" d="M540 474h0M454 474h0M446 473h0M538 473h0M478 472h0"/>
<path class="c4" d="M404 474h0M418 473h0"/>
<path class="c6" d="M454 473h0M450 473h0M440 473h0"/>
<path class="c3" d="M383 474h0M379 474h0M369 474h0M410 474h0M387 474h0M480 474h0M424 473h0M383 473h0M400 473h0M377 473h0M381 473h0M540 473h0M438 473h0M412 473h0M452 472h0"/>
<path class="c4" d="M394 472h0M379 472h0M440 472h0M390 472h0M387 472h0M490 472h0M385 471h0M390 471h0M398 471h0M408 471h0"/>
<path class="c6" d="M444 472h0M550 471h0M438 471h0M540 471h0M472 471h0M446 471h0"/>
<path class="c2" d="M349 472h0M351 472h0M420 471h0"/>
<path class="c0" d="M339 472h0M355 471h0M377 471h0"/>
<path class="c5" d="M438 472h0M448 472h0M410 471h0M442 471h0M440 471h0"/>
<path class="c3" d="M398 472h0M367 472h0M442 472h0M361 472h0M345 472h0M357 471h0M452 471h0M367 471h0"/>
<path class="c1" d="M355 472h0M337 472h0M363 472h0M383 471h0M339 471h0"/>
<path class="c2" d="M377 470h0M452 469h0"/>
<path class="c6" d="M456 470h0M438 470h0M444 470h0M446 469h0"/>
<path class="c5" d="M394 470h0M406 470h0M540 469h0M381 469h0M450 469h0M438 469h0"/>
<path class="c0" d="M337 470h0M339 470h0M361 469h0M317 469h0M385 469h0"/>
<path class="c1" d="M488 470h0M373 470h0M351 470h0M416 469h0M349 469h0"/>
<path class="c3" d="M398 470h0M446 470h0M365 470h0M544 470h0M379 470h0M363 470h0M420 470h0M387 470h0M400 469h0M442 469h0M373 469h0"/>
<path class="c4" d="M400 470h0M345 470h0M392 470h0M440 470h0M462 469h0M390 469h0M379 469h0"/>
<path class="c4" d="M398 468h0M448 468h0M446 468h0M438 468h0M349 467h0M400 467h0"/>
<path class="c1" d="M377 468h0M337 467h0M377 467h0M390 467h0"/>
<path class="c0" d="M343 468h0M406 468h0M357 468h0M339 468h0M347 468h0M341 468h0"/>
<path class="c3" d="M390 468h0M410 468h0M379 468h0M359 467h0M392 467h0M430 467h0M438 467h0M410 467h0M369 467h0M339 467h0"/>
<path class="c6" d="M464 468h0M488 468h0M442 468h0M458 467h0"/>
<path class="c5" d="M408 469h0M404 468h0M478 468h0M454 467h0M464 467h0"/>
<path class="c2" d="M337 469h0M339 469h0M341 469h0M408 468h0M385 467h0"/>
<path class="c0" d="M345 466h0M351 466h0M337 465h0"/>
<path class="c3" d="M373 466h0M446 466h0M349 466h0M363 466h0M440 466h0M406 465h0M520 465h0M385 465h0"/>
<path class="c6" d="M538 466h0M484 466h0M438 466h0M452 465h0"/>
<path class="c1" d="M347 467h0M377 466h0M442 465h0"/>
<path class="c2" d="M440 467h0M355 467h0M369 466h0M402 466h0M341 466h0M359 466h0M361 465h0"/>
<path class="c5" d="M442 466h0M452 466h0M542 465h0M420 465h0"/>
<path class="c4" d="M562 467h0M412 467h0M381 466h0M418 466h0M396 466h0M436 466h0M448 466h0M385 466h0M361 466h0M540 466h0M383 465h0"/>
<path class="c4" d="M448 465h0M377 465h0M369 464h0"/>
<path class="c3" d="M345 465h0M379 464h0M375 464h0M385 464h0M394 464h0M404 464h0M381 464h0M408 463h0M381 463h0"/>
<path class="c0" d="M392 464h0M341 464h0M398 464h0M365 464h0M353 464h0M438 464h0M359 463h0"/>
<path class="c5" d="M454 465h0M438 465h0M454 464h0M442 464h0M408 464h0M456 464h0M456 463h0"/>
<path class="c1" d="M347 464h0M343 464h0M337 464h0"/>
<path class="c6" d="M446 465h0M440 464h0M540 464h0M488 463h0M432 463h0"/>
<path class="c2" d="M349 465h0M339 465h0M412 464h0M387 464h0M359 464h0M347 463h0"/>
<path class="c5" d="M444 463h0M450 463h0M387 462h0M420 462h0"/>
<path class="c1" d="M373 463h0M365 463h0M379 463h0M341 463h0M438 463h0M349 463h0M355 463h0M343 462h0M337 462h0M339 462h0"/>
<path class="c4" d="M385 463h0M556 463h0M402 462h0M470 462h0M440 462h0M448 462h0"/>
<path class="c0" d="M357 463h0"/>
<path class="c2" d="M402 463h0M454 463h0M478 463h0M351 462h0M406 462h0M353 462h0"/>
<path class="c6" d="M440 463h0M442 463h0M593 463h0M478 462h0"/>
<path class="c3" d="M394 463h0M367 463h0M406 463h0M369 463h0M387 463h0M345 462h0M392 462h0M400 462h0M377 462h0"/>
<path class="c6" d="M466 461h0M450 461h0M462 461h0"/>
<path class="c4" d="M365 461h0M480 461h0M422 460h0M438 460h0"/>
<path class="c0" d="M361 461h0M317 460h0M337 460h0"/>
<path class="c5" d="M438 462h0M460 461h0M440 461h0M482 461h0M450 460h0M464 460h0M442 460h0"/>
<path class="c3" d="M392 461h0M369 461h0M383 461h0M363 460h0M355 460h0M385 460h0M379 460h0"/>
<path class="c1" d="M377 461h0M438 461h0M406 461h0M381 460h0M341 460h0M347 460h0M387 460h0M359 460h0"/>
<path class="c2" d="M396 462h0M359 461h0M390 461h0M422 461h0M379 461h0M394 460h0M377 460h0M345 460h0"/>
<path class="c2" d="M385 459h0M353 459h0M343 459h0M339 458h0M408 458h0M383 458h0M367 458h0"/>
<path class="c4" d="M398 459h0M377 459h0M387 458h0M538 458h0"/>
<path class="c3" d="M383 459h0M339 459h0M416 459h0M400 459h0M365 459h0M458 459h0M412 459h0M396 458h0M398 458h0M377 458h0M390 458h0"/>
<path class="c0" d="M357 459h0M404 458h0"/>
<path class="c6" d="M442 458h0"/>
<path class="c5" d="M556 459h0M554 459h0M438 459h0M448 459h0M442 459h0M440 459h0M456 458h0M574 458h0M438 458h0M554 458h0M440 458h0M400 458h0"/>
<path class="c1" d="M361 459h0M361 458h0M343 458h0"/>
<path class="c3" d="M440 457h0M377 457h0M448 456h0M349 456h0M458 456h0M400 456h0M383 456h0M440 456h0M367 456h0"/>
<path class="c0" d="M353 456h0M398 456h0"/>
<path class="c1" d="M355 458h0M394 456h0"/>
<path class="c4" d="M402 458h0M540 458h0M442 457h0M438 457h0M408 457h0M377 456h0"/>
<path class="c2" d="M369 457h0M363 457h0M371 457h0M385 457h0M381 457h0M379 456h0M371 456h0M369 456h0M357 456h0M446 456h0"/>
<path class="c6" d="M488 458h0M452 457h0M480 457h0M574 457h0M478 456h0M416 456h0M444 456h0"/>
<path class="c5" d="M460 457h0M478 457h0M454 457h0M438 456h0"/>
<path class="c2" d="M387 456h0M339 455h0M387 455h0M371 454h0M361 454h0M337 454h0M398 454h0M387 454h0M353 454h0"/>
<path class="c5" d="M542 455h0M442 455h0M438 455h0M446 454h0M454 454h0M480 454h0M526 454h0M416 454h0M438 454h0"/>
<path class="c4" d="M540 455h0M462 455h0M396 455h0M446 455h0M440 454h0"/>
<path class="c6" d="M440 455h0M478 455h0M448 454h0"/>
<path class="c1" d="M359 455h0M377 455h0M353 455h0"/>
<path class="c0" d="M341 454h0M355 454h0"/>
<path class="c3" d="M363 455h0M375 455h0M392 455h0M379 455h0M418 454h0M412 454h0M377 454h0M351 454h0M538 454h0"/>
<path class="c4" d="M387 453h0M484 453h0M438 452h0M440 452h0M418 452h0M387 452h0M442 452h0M450 452h0M379 451h0M398 451h0"/>
<path class="c6" d="M542 453h0M544 453h0M488 453h0M442 453h0M480 452h0M454 452h0M478 451h0"/>
<path class="c1" d="M351 452h0M347 452h0M345 452h0M337 452h0M387 451h0"/>
<path class="c3" d="M440 453h0M383 453h0M398 452h0M357 452h0"/>
<path class="c5" d="M452 453h0M438 453h0M478 453h0M448 453h0M446 452h0M468 452h0M538 451h0M454 451h0"/>
<path class="c0" d="M337 453h0M341 452h0"/>
<path class="c2" d="M377 453h0M381 453h0M361 452h0M339 451h0"/>
<path class="c0" d="M359 451h0M438 451h0M440 451h0M343 451h0M357 451h0M353 450h0M345 450h0M369 449h0"/>
<path class="c1" d="M365 451h0M337 450h0M394 449h0M337 449h0"/>
<path class="c2" d="M341 451h0M381 451h0M414 451h0M355 450h0M361 450h0M404 449h0M363 449h0M381 449h0M341 449h0M355 449h0"/>
<path class="c5" d="M446 451h0M410 451h0M540 450h0M440 450h0"/>
<path class="c4" d="M398 450h0M438 450h0M400 450h0M444 449h0"/>
<path class="c6" d="M438 449h0"/>
<path class="c3" d="M349 451h0M385 451h0M371 450h0M367 450h0M442 450h0M383 450h0M387 450h0M408 450h0M383 449h0"/>
<path class="c3" d="M359 449h0M390 449h0M379 449h0M387 448h0M365 448h0M383 448h0M448 447h0M341 447h0M440 447h0M426 447h0"/>
<path class="c0" d="M377 448h0M343 448h0M383 447h0M353 447h0"/>
<path class="c4" d="M454 448h0M560 448h0M408 448h0M568 448h0M456 448h0M438 448h0"/>
<path class="c5" d="M574 449h0M394 448h0M440 448h0M452 447h0M444 447h0M420 447h0M438 447h0M456 447h0M446 447h0"/>
<path class="c1" d="M355 448h0M381 448h0"/>
<path class="c6" d="M448 449h0"/>
<path class="c2" d="M345 449h0M377 449h0M440 449h0M349 449h0M361 448h0M444 448h0M381 447h0M418 447h0"/>
<path class="c4" d="M392 447h0M404 446h0M392 446h0M438 446h0M464 445h0"/>
<path class="c2" d="M379 447h0M337 446h0M371 446h0M456 446h0M387 446h0M400 446h0M478 445h0M452 445h0"/>
<path class="c5" d="M440 446h0M448 445h0M394 445h0M444 445h0"/>
<path class="c0" d="M394 446h0M357 445h0M337 445h0M349 445h0"/>
<path class="c3" d="M377 447h0M398 446h0M383 446h0M379 446h0M385 446h0M373 446h0M357 446h0M490 446h0M381 445h0M402 445h0"/>
<path class="c6" d="M446 446h0M478 446h0M480 446h0"/>
<path class="c1" d="M408 446h0M339 446h0M341 446h0M343 446h0M345 445h0M377 445h0"/>
<path class="c3" d="M442 445h0M406 445h0M440 445h0M408 444h0M381 444h0M351 443h0"/>
<path class="c4" d="M375 445h0M538 444h0M440 444h0M432 443h0M448 443h0"/>
<path class="c6" d="M450 445h0M456 445h0M517 444h0M438 444h0"/>
<path class="c1" d="M343 445h0M387 444h0M339 444h0M396 444h0M377 443h0M355 443h0"/>
<path class="c2" d="M385 445h0M339 445h0M377 444h0M341 444h0M408 443h0M333 443h0"/>
<path class="c0" d="M341 445h0M544 444h0M412 444h0M345 444h0M383 444h0M365 444h0M444 443h0M371 443h0"/>
<path class="c5" d="M424 445h0M538 445h0M452 444h0M448 444h0M444 444h0"/>
<path class="c2" d="M418 443h0M363 443h0M387 442h0M337 442h0M373 442h0M337 441h0M359 441h0"/>
<path class="c3" d="M345 443h0M442 443h0M381 443h0M408 442h0M438 442h0M375 441h0M406 441h0"/>
<path class="c4" d="M438 443h0M440 443h0M398 443h0M377 442h0M339 442h0"/>
<path class="c6" d="M581 443h0M542 442h0M482 442h0M456 442h0M442 442h0M546 442h0M446 441h0M542 441h0"/>
<path class="c5" d="M406 443h0M448 442h0M476 442h0M440 442h0M472 442h0M452 442h0M450 441h0"/>
<path class="c0" d="M369 443h0M355 442h0"/>
<path class="c1" d="M394 443h0M385 443h0M406 442h0M379 442h0"/>
<path class="c6" d="M484 440h0M478 440h0M458 439h0"/>
<path class="c0" d="M379 441h0M353 440h0M339 440h0"/>
<path class="c4" d="M440 441h0M383 441h0M540 440h0M426 440h0M456 440h0M402 440h0M440 440h0M538 439h0M478 439h0"/>
<path class="c3" d="M442 441h0M377 441h0M392 441h0M387 441h0M341 440h0M383 440h0M377 439h0M363 439h0M381 439h0"/>
<path class="c5" d="M456 441h0M462 441h0M438 440h0M675 440h0M452 440h0M548 440h0M450 440h0"/>
<path class="c1" d="M319 441h0M339 441h0M347 440h0M390 440h0M379 440h0"/>
<path class="c2" d="M438 441h0M387 440h0M444 439h0M398 439h0"/>
<path class="c5" d="M440 439h0M474 439h0M482 438h0M442 438h0M440 438h0M450 437h0M440 437h0"/>
<path class="c6" d="M478 438h0M478 437h0M446 437h0"/>
<path class="c4" d="M560 438h0M402 438h0M373 437h0M438 437h0M371 437h0M400 437h0M462 437h0"/>
<path class="c1" d="M339 439h0M438 439h0M383 438h0M337 438h0M381 437h0"/>
<path class="c0" d="M337 439h0M402 439h0M341 438h0M379 438h0M357 437h0M337 437h0"/>
<path class="c3" d="M432 439h0M436 438h0M385 438h0M444 438h0M624 438h0M377 438h0"/>
<path class="c2" d="M385 439h0M418 439h0M371 438h0M373 438h0M361 438h0M438 438h0"/>
<path class="c5" d="M410 437h0M444 437h0M540 437h0M456 436h0M468 436h0M478 436h0M442 435h0M440 435h0"/>
<path class="c3" d="M398 437h0M396 437h0M404 436h0M394 436h0M398 436h0M410 435h0M438 435h0"/>
<path class="c6" d="M442 436h0M538 435h0"/>
<path class="c0" d="M365 437h0M359 437h0M390 436h0M365 436h0M514 435h0"/>
<path class="c2" d="M351 436h0M385 436h0M410 436h0M383 436h0M392 435h0M379 435h0"/>
<path class="c1" d="M379 436h0M400 436h0M424 435h0"/>
<path class="c4" d="M390 437h0M448 436h0M414 436h0M440 436h0M438 436h0M544 436h0M418 436h0M529 436h0M446 435h0"/>
<path class="c3" d="M408 435h0M426 435h0M345 435h0M416 434h0M404 434h0M349 434h0M392 434h0M369 434h0M381 434h0M440 434h0"/>
<path class="c5" d="M462 434h0M442 434h0M542 434h0M438 433h0"/>
<path class="c6" d="M460 434h0M432 433h0"/>
<path class="c0" d="M341 435h0M369 435h0M359 435h0M337 434h0M412 433h0"/>
<path class="c4" d="M432 434h0M446 434h0M418 434h0M420 433h0M442 433h0M450 433h0M408 433h0M394 433h0"/>
<path class="c2" d="M416 435h0M408 434h0M351 434h0M375 433h0M381 433h0M377 433h0"/>
<path class="c1" d="M355 435h0M394 435h0M438 434h0M339 434h0M387 433h0"/>
<path class="c6" d="M761 432h0M444 432h0M444 431h0M458 431h0"/>
<path class="c5" d="M446 433h0M470 432h0M540 432h0M446 432h0M438 432h0M450 432h0"/>
<path class="c3" d="M383 432h0M361 431h0M379 431h0M398 431h0M438 431h0"/>
<path class="c0" d="M379 432h0M412 432h0M404 432h0M377 431h0M440 431h0M349 431h0M369 431h0M373 431h0"/>
<path class="c1" d="M392 433h0M337 432h0M540 431h0M345 431h0M339 431h0"/>
<path class="c4" d="M440 433h0M452 432h0M440 432h0M390 431h0M363 431h0"/>
<path class="c2" d="M359 432h0M408 432h0M458 432h0M377 432h0M341 431h0M400 431h0M410 431h0"/>
<path class="c6" d="M448 429h0M581 429h0"/>
<path class="c1" d="M394 431h0M446 429h0M361 429h0M345 429h0M373 428h0"/>
<path class="c4" d="M452 430h0M577 430h0M442 430h0M458 430h0M546 430h0M408 430h0M392 429h0M410 429h0M440 429h0"/>
<path class="c2" d="M385 431h0M390 430h0M436 430h0M416 430h0M478 430h0M369 429h0M347 429h0M402 429h0M741 428h0"/>
<path class="c3" d="M438 430h0M359 430h0M462 429h0M383 429h0M442 429h0M438 429h0"/>
<path class="c5" d="M540 430h0M440 430h0M544 429h0M478 429h0M452 429h0"/>
<path class="c0" d="M365 430h0M383 430h0M377 430h0M377 429h0"/>
<path class="c5" d="M448 428h0M446 428h0M406 427h0M452 427h0M458 427h0M440 427h0M458 426h0"/>
<path class="c6" d="M454 428h0M504 428h0"/>
<path class="c1" d="M367 428h0M420 427h0M377 427h0M454 427h0M341 427h0M392 426h0"/>
<path class="c0" d="M359 428h0M339 428h0M381 428h0M426 427h0M349 427h0M339 427h0M343 427h0"/>
<path class="c4" d="M383 428h0M446 427h0M438 427h0"/>
<path class="c3" d="M442 428h0M375 428h0M438 428h0M412 427h0M488 427h0M396 427h0M383 427h0M434 426h0M373 426h0"/>
<path class="c2" d="M341 428h0M394 428h0M390 427h0M478 427h0M404 426h0M385 426h0"/>
<path class="c3" d="M440 426h0M410 426h0M385 425h0M402 425h0M390 425h0M396 425h0M404 425h0M341 425h0M387 425h0"/>
<path class="c6" d="M438 426h0M448 425h0"/>
<path class="c1" d="M339 426h0M377 426h0M383 426h0M363 425h0M542 425h0M347 425h0"/>
<path class="c0" d="M337 426h0M357 426h0"/>
<path class="c2" d="M345 426h0M379 425h0M367 425h0M444 425h0M351 425h0M470 425h0"/>
<path class="c5" d="M540 426h0M448 426h0M470 426h0M480 426h0M577 426h0M562 426h0M492 426h0M430 425h0M438 425h0M442 425h0M440 425h0"/>
<path class="c4" d="M434 425h0M540 425h0M432 425h0M381 425h0"/>
<path class="c0" d="M369 424h0M353 423h0M339 423h0M383 422h0"/>
<path class="c4" d="M365 424h0M426 424h0M478 424h0M540 424h0M480 423h0M454 423h0M448 423h0M482 423h0M418 422h0"/>
<path class="c3" d="M408 424h0M361 424h0M385 424h0M438 424h0M396 424h0M383 424h0M347 423h0M381 423h0M444 423h0M517 423h0M418 423h0M402 423h0M440 423h0M464 423h0"/>
<path class="c5" d="M444 424h0M440 424h0"/>
<path class="c6" d="M456 423h0M442 423h0"/>
<path class="c1" d="M398 424h0M339 424h0M438 423h0M377 423h0"/>
<path class="c2" d="M392 424h0M377 424h0M394 424h0M371 423h0M424 423h0"/>
<path class="c6" d="M468 421h0M450 421h0M478 420h0"/>
<path class="c0" d="M363 422h0M375 420h0"/>
<path class="c5" d="M540 422h0M458 422h0M432 422h0M446 422h0M438 422h0M444 421h0M490 420h0"/>
<path class="c3" d="M379 422h0M406 422h0M480 422h0M402 422h0M396 422h0M470 421h0M377 421h0M440 421h0"/>
<path class="c4" d="M398 422h0M367 422h0M404 422h0M442 422h0M456 422h0M446 421h0M542 421h0M412 421h0M410 421h0M442 421h0M381 421h0M464 420h0"/>
<path class="c2" d="M410 422h0M436 421h0M568 420h0"/>
<path class="c1" d="M373 422h0M339 422h0M337 422h0M339 421h0M375 421h0"/>
<path class="c0" d="M341 420h0M442 420h0M379 420h0M402 420h0"/>
<path class="c4" d="M456 420h0M448 419h0M442 419h0M486 419h0M452 419h0M432 418h0M422 418h0M468 418h0"/>
<path class="c3" d="M422 419h0M377 419h0M438 419h0M379 419h0M363 419h0"/>
<path class="c1" d="M450 420h0M387 419h0M414 419h0M337 419h0M349 418h0"/>
<path class="c5" d="M438 420h0M440 420h0M466 419h0M472 419h0M418 418h0"/>
<path class="c6" d="M538 420h0M514 420h0M484 419h0M446 419h0M458 419h0"/>
<path class="c2" d="M353 420h0M454 420h0M381 420h0M392 420h0M381 419h0M359 419h0M367 419h0M540 418h0"/>
<path class="c2" d="M392 418h0M426 418h0M440 416h0"/>
<path class="c5" d="M444 418h0M478 418h0M482 417h0M462 417h0M458 417h0M422 416h0"/>
<path class="c3" d="M396 418h0M438 418h0M456 418h0M404 417h0M347 417h0M442 417h0M385 417h0M454 417h0M446 417h0M377 417h0M383 416h0M387 416h0"/>
<path class="c6" d="M476 417h0M466 417h0M490 416h0"/>
<path class="c4" d="M400 418h0M402 418h0M448 418h0M442 418h0M548 417h0M438 417h0M400 417h0M444 416h0"/>
<path class="c0" d="M379 418h0M339 417h0M349 417h0M343 417h0"/>
<path class="c1" d="M339 418h0M337 418h0M416 417h0M341 417h0"/>
<path class="c4" d="M426 416h0M456 416h0M556 416h0M544 415h0M478 414h0M444 414h0M438 414h0"/>
<path class="c6" d="M542 415h0"/>
<path class="c5" d="M466 416h0M440 415h0M444 415h0M462 414h0M466 414h0M456 414h0M454 414h0"/>
<path class="c3" d="M460 416h0M438 416h0M396 416h0M438 415h0M402 415h0M408 415h0M448 415h0M454 415h0M361 415h0M458 415h0M385 414h0M406 414h0M365 414h0M440 414h0M392 414h0"/>
<path class="c1" d="M377 415h0M343 415h0M379 414h0"/>
<path class="c0" d="M345 415h0M339 415h0M442 415h0M363 414h0"/>
<path class="c2" d="M367 415h0M410 414h0M359 414h0"/>
<path class="c3" d="M387 414h0M363 413h0M377 413h0M387 412h0M452 412h0M406 412h0M385 412h0"/>
<path class="c6" d="M538 413h0M466 413h0M510 412h0M440 412h0"/>
<path class="c2" d="M349 413h0M444 413h0M448 413h0M381 412h0M347 412h0"/>
<path class="c4" d="M452 413h0M456 413h0M542 413h0M450 412h0M444 412h0"/>
<path class="c1" d="M381 413h0M402 413h0M438 413h0M339 412h0M371 412h0M341 412h0M343 412h0M486 412h0"/>
<path class="c5" d="M468 413h0M472 413h0M440 413h0M542 412h0M552 412h0M462 412h0"/>
<path class="c0" d="M339 414h0M339 413h0M337 413h0M377 412h0M394 412h0"/>
<path class="c2" d="M402 411h0M377 411h0M440 411h0M379 411h0M345 411h0M351 410h0M402 410h0M392 410h0M367 409h0M361 409h0M390 409h0"/>
<path class="c5" d="M490 412h0M466 411h0M583 411h0M444 411h0M404 409h0"/>
<path class="c4" d="M544 410h0M452 410h0M406 409h0M478 409h0"/>
<path class="c1" d="M337 411h0M369 411h0M387 410h0M410 410h0M434 409h0M422 409h0M375 409h0"/>
<path class="c6" d="M546 410h0"/>
<path class="c0" d="M339 411h0M381 410h0"/>
<path class="c3" d="M381 411h0M361 411h0M448 411h0M438 411h0M373 410h0M385 410h0M438 410h0M442 410h0M381 409h0M438 409h0"/>
<path class="c1" d="M412 409h0M442 409h0M369 408h0M339 408h0M345 408h0M377 407h0M373 407h0M749 407h0"/>
<path class="c0" d="M341 408h0M357 407h0M339 407h0"/>
<path class="c2" d="M375 408h0M458 408h0M456 407h0M379 407h0M556 406h0"/>
<path class="c4" d="M498 408h0M402 408h0M693 408h0M442 408h0M480 407h0M450 407h0M404 407h0M390 407h0"/>
<path class="c3" d="M377 409h0M377 408h0M438 408h0M448 408h0M440 407h0"/>
<path class="c5" d="M480 409h0M440 408h0M482 408h0M438 407h0"/>
<path class="c6" d="M546 408h0M556 408h0M540 408h0M665 407h0M444 407h0M458 407h0M550 407h0"/>
<path class="c1" d="M341 406h0M377 406h0M337 406h0M339 405h0M343 404h0"/>
<path class="c6" d="M540 406h0M456 406h0M440 406h0M544 405h0M474 405h0M444 404h0"/>
<path class="c4" d="M414 406h0M446 405h0M438 405h0M448 405h0M398 404h0M446 404h0"/>
<path class="c2" d="M347 406h0M442 406h0M377 405h0M337 405h0M375 404h0"/>
<path class="c3" d="M446 406h0M410 406h0M454 405h0M375 405h0M379 404h0"/>
<path class="c5" d="M538 406h0M478 406h0M438 406h0M442 405h0M456 405h0M466 405h0M440 405h0M440 404h0M438 404h0"/>
<path class="c0" d="M353 406h0M345 405h0M355 405h0M404 404h0"/>
<path class="c6" d="M456 404h0M446 403h0M538 402h0"/>
<path class="c5" d="M480 403h0M452 403h0M540 403h0M438 403h0M548 402h0M448 402h0"/>
<path class="c3" d="M442 403h0M450 403h0M387 403h0M440 403h0M568 402h0M369 402h0M387 402h0M438 402h0M446 402h0M400 402h0M510 401h0"/>
<path class="c2" d="M385 404h0M414 403h0M357 402h0M361 402h0M482 402h0M392 402h0"/>
<path class="c4" d="M454 402h0M402 402h0M440 402h0M550 402h0M418 402h0"/>
<path class="c1" d="M343 403h0M375 403h0M341 402h0M337 402h0"/>
<path class="c0" d="M381 404h0M410 403h0M381 403h0M351 402h0M373 402h0"/>
<path class="c5" d="M480 401h0M743 401h0M440 401h0M462 401h0M446 401h0M540 400h0M462 400h0M438 400h0M478 399h0"/>
<path class="c3" d="M544 401h0M406 401h0M420 401h0M394 401h0M402 401h0M400 400h0M454 400h0M375 400h0M390 400h0M450 400h0M408 400h0M404 400h0M396 399h0M458 399h0"/>
<path class="c4" d="M438 401h0M454 401h0M452 400h0M430 400h0M440 400h0M480 399h0"/>
<path class="c0" d="M385 401h0M339 401h0M339 400h0"/>
<path class="c6" d="M560 399h0"/>
<path class="c1" d="M347 401h0M379 400h0M337 400h0M402 400h0M351 399h0"/>
<path class="c2" d="M472 401h0M383 400h0"/>
<path class="c5" d="M574 399h0M387 399h0M490 398h0M542 398h0M538 398h0"/>
<path class="c2" d="M373 399h0M498 399h0M337 399h0M339 399h0M444 399h0M341 398h0M418 398h0M448 398h0M440 398h0M390 397h0M381 397h0M406 397h0"/>
<path class="c6" d="M665 398h0"/>
<path class="c4" d="M448 399h0M438 399h0M597 399h0M450 398h0M562 398h0M478 398h0M438 398h0M442 398h0M456 397h0M440 397h0M570 397h0M448 397h0"/>
<path class="c3" d="M456 398h0M371 398h0M381 398h0M480 397h0M404 397h0"/>
<path class="c1" d="M381 399h0"/>
<path class="c0" d="M367 399h0M357 399h0M353 398h0M377 398h0"/>
<path class="c2" d="M351 397h0M462 397h0M387 396h0M396 396h0M444 396h0M385 396h0M345 395h0"/>
<path class="c3" d="M452 397h0M544 397h0M438 397h0M392 397h0M404 396h0M392 396h0M438 396h0M440 396h0M412 395h0M361 395h0M402 395h0M448 395h0M377 395h0"/>
<path class="c5" d="M498 397h0M591 396h0M538 396h0M472 396h0M438 395h0"/>
<path class="c6" d="M611 396h0M462 396h0M482 395h0"/>
<path class="c4" d="M486 397h0M454 396h0M568 396h0M454 395h0M480 395h0M540 395h0M440 395h0M446 395h0"/>
<path class="c0" d="M337 395h0"/>
<path class="c1" d="M341 397h0M379 396h0M442 396h0"/>
<path class="c2" d="M359 393h0"/>
<path class="c5" d="M462 394h0M480 394h0M478 393h0M476 393h0M440 393h0M448 393h0M438 393h0M548 392h0"/>
<path class="c4" d="M741 395h0M442 395h0M442 394h0M456 394h0M482 393h0M468 393h0M452 392h0"/>
<path class="c1" d="M351 394h0M371 393h0M442 393h0M416 393h0"/>
<path class="c0" d="M446 394h0M365 393h0M341 392h0"/>
<path class="c3" d="M400 395h0M375 394h0M440 394h0M394 394h0M438 394h0M408 393h0M554 393h0M383 393h0M373 392h0"/>
<path class="c6" d="M542 395h0M488 394h0M540 394h0M550 393h0M484 393h0M446 393h0M446 392h0M480 392h0"/>
<path class="c2" d="M570 392h0M345 392h0M379 392h0M337 391h0M398 390h0M448 390h0M546 390h0M400 389h0"/>
<path class="c4" d="M450 392h0M444 392h0M466 392h0M440 391h0M444 390h0M438 390h0M470 389h0"/>
<path class="c1" d="M438 392h0M387 391h0M446 391h0M361 390h0M440 390h0M540 389h0"/>
<path class="c6" d="M476 391h0M510 391h0M538 390h0M458 389h0"/>
<path class="c0" d="M396 391h0"/>
<path class="c3" d="M458 392h0M379 391h0M438 391h0M377 391h0M390 390h0M603 389h0M385 389h0"/>
<path class="c5" d="M482 392h0M440 392h0M442 391h0M454 390h0M478 390h0M442 390h0M480 389h0"/>
<path class="c2" d="M428 389h0M438 389h0M387 388h0M341 387h0M379 387h0M456 387h0M357 387h0M404 387h0"/>
<path class="c1" d="M478 389h0M339 388h0M347 388h0M438 388h0"/>
<path class="c6" d="M540 388h0M544 387h0"/>
<path class="c3" d="M408 389h0M552 389h0M424 389h0M398 388h0M470 388h0M383 388h0M377 388h0M438 387h0"/>
<path class="c4" d="M365 389h0M542 389h0M373 389h0M442 389h0M476 387h0M488 387h0M450 387h0"/>
<path class="c5" d="M739 389h0M488 389h0M464 389h0M446 389h0M440 387h0"/>
<path class="c0" d="M383 389h0M343 388h0M379 388h0M345 388h0M442 388h0M343 387h0"/>
<path class="c3" d="M454 386h0M446 386h0M381 385h0M478 385h0M406 385h0M452 385h0M353 385h0M418 384h0"/>
<path class="c6" d="M550 386h0M538 385h0M540 385h0M540 384h0M599 384h0"/>
<path class="c0" d="M462 385h0M337 384h0"/>
<path class="c1" d="M440 386h0M337 386h0M383 385h0M339 385h0M363 384h0"/>
<path class="c4" d="M448 386h0M444 386h0M438 386h0M420 385h0M438 385h0M440 385h0M442 385h0M444 385h0M442 384h0"/>
<path class="c2" d="M339 386h0M416 386h0M398 386h0M367 385h0M408 385h0M440 384h0"/>
<path class="c5" d="M520 386h0M560 385h0M458 385h0M456 385h0M488 384h0"/>
<path class="c3" d="M440 383h0M367 383h0M406 382h0M369 381h0M478 381h0"/>
<path class="c4" d="M456 384h0M478 384h0M414 383h0M442 383h0M446 383h0M426 382h0M540 382h0M482 381h0"/>
<path class="c2" d="M400 384h0M357 384h0M438 384h0M438 383h0M416 383h0M379 382h0M446 382h0M412 382h0M438 382h0"/>
<path class="c5" d="M460 384h0M460 383h0M540 383h0M444 382h0M468 382h0M486 382h0M442 382h0"/>
<path class="c0" d="M339 382h0M377 382h0M349 382h0M337 382h0"/>
<path class="c6" d="M548 384h0"/>
<path class="c1" d="M398 384h0M355 383h0M345 383h0M390 383h0M430 382h0M383 382h0"/>
<path class="c1" d="M446 381h0M379 380h0M357 380h0M454 379h0"/>
<path class="c2" d="M410 381h0M381 381h0M353 381h0M442 381h0M406 379h0M357 379h0M450 379h0"/>
<path class="c4" d="M454 381h0M440 381h0M460 380h0M438 380h0M462 379h0"/>
<path class="c6" d="M484 381h0M456 380h0M540 380h0M470 380h0M595 379h0M452 379h0M538 379h0"/>
<path class="c5" d="M456 381h0M542 381h0M442 380h0M544 380h0M462 380h0M464 380h0M583 380h0"/>
<path class="c0" d="M385 380h0M440 380h0"/>
<path class="c3" d="M375 381h0M404 381h0M540 381h0M438 381h0M377 380h0M349 380h0M371 379h0M480 379h0"/>
<path class="c1" d="M379 379h0M390 378h0M442 377h0M363 377h0"/>
<path class="c5" d="M484 379h0M512 379h0M484 378h0M540 378h0M550 378h0M444 377h0M478 377h0M548 376h0M538 376h0"/>
<path class="c6" d="M502 379h0M538 377h0"/>
<path class="c3" d="M446 379h0M442 378h0M377 378h0M438 377h0M540 376h0"/>
<path class="c4" d="M542 378h0M426 378h0M470 378h0M440 378h0M385 378h0M448 377h0M456 377h0M446 376h0"/>
<path class="c0" d="M478 379h0M392 379h0M355 376h0"/>
<path class="c2" d="M442 379h0M440 379h0M369 378h0M404 377h0M385 377h0M430 376h0M452 376h0M343 376h0M377 376h0"/>
<path class="c4" d="M442 376h0M462 375h0M412 375h0M430 374h0M444 374h0M440 374h0M478 374h0M438 374h0M452 373h0"/>
<path class="c2" d="M410 376h0M458 375h0M446 374h0M375 374h0M438 373h0M456 373h0M416 373h0M540 373h0M446 373h0"/>
<path class="c3" d="M440 376h0M392 376h0M442 375h0M440 375h0M377 374h0M390 374h0"/>
<path class="c1" d="M390 376h0M408 375h0M385 374h0M392 374h0M387 373h0"/>
<path class="c0" d="M361 375h0M396 374h0"/>
<path class="c5" d="M438 376h0M566 376h0M450 376h0M450 374h0"/>
<path class="c6" d="M635 376h0M458 376h0M476 375h0M470 375h0M472 373h0"/>
<path class="c5" d="M444 373h0M470 373h0M440 372h0M430 372h0M448 371h0M438 371h0"/>
<path class="c4" d="M550 373h0M464 373h0M454 372h0M478 372h0M462 372h0M452 372h0M464 371h0M550 371h0M450 371h0M446 370h0"/>
<path class="c6" d="M482 373h0M542 372h0M540 372h0"/>
<path class="c2" d="M442 373h0M442 372h0M390 372h0M377 372h0M355 371h0"/>
<path class="c3" d="M400 372h0M400 371h0M377 371h0M482 371h0M412 371h0M440 371h0M440 370h0M430 370h0"/>
<path class="c1" d="M406 373h0M448 370h0"/>
<path class="c0" d="M363 373h0M440 373h0M337 373h0M379 371h0M398 371h0M339 370h0"/>
<path class="c1" d="M343 368h0"/>
<path class="c6" d="M546 370h0M538 370h0M544 370h0"/>
<path class="c4" d="M438 369h0M488 369h0M440 369h0M478 368h0M480 368h0M458 368h0M442 368h0M544 367h0M464 367h0M440 367h0"/>
<path class="c3" d="M410 370h0M438 370h0M385 369h0M444 369h0M361 368h0M359 368h0M365 368h0M542 368h0M448 368h0M416 368h0"/>
<path class="c0" d="M365 369h0M387 369h0M398 368h0M357 367h0M337 367h0"/>
<path class="c2" d="M478 369h0M383 369h0M402 369h0M540 368h0M438 368h0M446 368h0M377 367h0"/>
<path class="c5" d="M478 370h0M462 369h0M601 369h0M639 368h0"/>
<path class="c3" d="M371 367h0M398 366h0M486 366h0M363 366h0M379 366h0M583 366h0M406 366h0M458 366h0M452 365h0M440 365h0"/>
<path class="c2" d="M424 367h0M359 366h0M428 366h0M398 365h0M450 365h0M454 365h0M396 365h0"/>
<path class="c4" d="M442 367h0M454 367h0M446 366h0M470 366h0M478 366h0M438 365h0M438 364h0"/>
<path class="c1" d="M440 366h0M341 365h0"/>
<path class="c5" d="M446 367h0M438 366h0M538 366h0M448 366h0M444 365h0M442 365h0M464 364h0M478 364h0"/>
<path class="c0" d="M406 367h0M400 366h0M337 365h0"/>
<path class="c6" d="M442 366h0M542 365h0M520 364h0"/>
<path class="c1" d="M412 364h0M385 363h0M400 362h0M406 362h0"/>
<path class="c3" d="M392 363h0M387 363h0M480 362h0M472 362h0"/>
<path class="c2" d="M357 364h0M418 364h0M379 364h0M394 363h0M396 362h0M373 362h0"/>
<path class="c5" d="M466 364h0M442 364h0M544 363h0M460 363h0M460 362h0M442 362h0"/>
<path class="c4" d="M458 364h0M538 363h0M438 363h0M452 363h0M446 363h0M510 363h0M444 363h0M454 362h0M478 362h0M438 362h0M440 362h0"/>
<path class="c6" d="M566 364h0M482 364h0M546 364h0M478 363h0M540 362h0M446 362h0"/>
<path class="c0" d="M337 364h0M440 364h0M440 363h0"/>
<path class="c1" d="M385 361h0M339 361h0M396 360h0M739 360h0M339 360h0M458 360h0M400 359h0M347 359h0"/>
<path class="c6" d="M560 361h0M544 361h0M484 361h0M544 360h0M538 360h0M550 360h0M540 359h0"/>
<path class="c5" d="M552 361h0M450 361h0M496 360h0M476 360h0M482 360h0M438 360h0M546 359h0M446 359h0"/>
<path class="c4" d="M478 361h0M438 359h0"/>
<path class="c2" d="M428 361h0M400 361h0M367 360h0M408 360h0M540 360h0M444 360h0M365 359h0"/>
<path class="c0" d="M337 361h0M341 361h0M438 361h0M377 360h0"/>
<path class="c3" d="M442 361h0M462 360h0M442 360h0M440 359h0"/>
<path class="c5" d="M484 359h0M540 358h0M440 358h0M458 358h0M444 357h0M444 356h0"/>
<path class="c4" d="M498 359h0M460 359h0M444 358h0M601 358h0M448 358h0M683 358h0M450 357h0M464 357h0M458 357h0M635 357h0"/>
<path class="c2" d="M349 359h0M416 359h0M379 358h0M440 357h0M385 357h0M438 357h0M546 357h0M568 356h0M390 356h0"/>
<path class="c0" d="M337 357h0M377 357h0M341 356h0"/>
<path class="c3" d="M442 358h0M468 357h0M402 357h0"/>
<path class="c6" d="M478 358h0M562 358h0M560 358h0M560 356h0"/>
<path class="c1" d="M458 359h0M404 358h0M377 358h0M438 358h0M377 356h0"/>
<path class="c1" d="M337 356h0M402 355h0"/>
<path class="c2" d="M438 356h0M452 356h0M448 355h0M446 355h0M400 355h0M420 354h0M478 354h0M400 353h0"/>
<path class="c6" d="M478 356h0M540 356h0M538 355h0M554 355h0M496 355h0M540 354h0M540 353h0"/>
<path class="c5" d="M442 355h0M452 355h0M474 354h0M458 354h0"/>
<path class="c3" d="M365 356h0M442 356h0M456 356h0M418 356h0M404 356h0M440 355h0M444 354h0M408 354h0"/>
<path class="c4" d="M448 356h0M870 355h0M454 354h0M470 354h0M442 354h0M438 354h0M462 354h0"/>
<path class="c0" d="M361 355h0M351 354h0M347 354h0M387 354h0"/>
<path class="c5" d="M476 352h0M440 352h0M448 352h0M599 351h0M456 351h0M462 351h0M593 351h0"/>
<path class="c2" d="M390 353h0M448 353h0M345 352h0M396 352h0M383 352h0M337 351h0"/>
<path class="c4" d="M440 353h0M454 352h0M478 352h0M408 352h0M480 351h0M440 351h0"/>
<path class="c1" d="M345 353h0M402 353h0M337 352h0M444 351h0"/>
<path class="c0" d="M343 353h0M365 353h0M347 353h0M438 353h0"/>
<path class="c3" d="M373 353h0M406 353h0M392 353h0M379 353h0M480 353h0M414 353h0M438 352h0M442 352h0M558 352h0M450 351h0M585 351h0"/>
<path class="c6" d="M554 353h0M591 352h0"/>
<path class="c6" d="M556 350h0M540 348h0"/>
<path class="c1" d="M452 350h0M444 350h0M339 350h0M377 350h0M377 349h0M438 349h0M392 348h0M404 348h0M353 348h0M438 348h0"/>
<path class="c2" d="M355 350h0M448 349h0M398 349h0M440 349h0M337 348h0"/>
<path class="c3" d="M377 351h0M381 350h0M408 350h0M448 350h0M390 350h0M480 349h0M482 349h0M387 349h0"/>
<path class="c4" d="M466 350h0M440 350h0M438 350h0M548 349h0M566 349h0M460 348h0M452 348h0"/>
<path class="c5" d="M438 351h0M464 350h0M587 350h0M544 350h0M538 349h0M542 349h0M544 348h0M609 348h0"/>
<path class="c2" d="M442 348h0M408 347h0M381 347h0M404 346h0M440 346h0M478 346h0M454 345h0M353 345h0"/>
<path class="c0" d="M412 346h0M339 346h0"/>
<path class="c6" d="M546 347h0M540 347h0M442 347h0M548 347h0M558 346h0M538 346h0"/>
<path class="c3" d="M458 347h0M430 347h0M585 347h0M460 347h0M385 347h0M440 347h0M438 347h0M377 346h0M474 346h0M490 345h0M544 345h0"/>
<path class="c5" d="M552 348h0M556 347h0M480 347h0M446 346h0"/>
<path class="c4" d="M440 348h0M498 347h0M478 347h0M464 347h0M450 346h0M470 346h0M438 346h0M442 346h0"/>
<path class="c1" d="M371 346h0"/>
<path class="c1" d="M398 345h0M385 344h0M339 343h0M398 343h0"/>
<path class="c6" d="M464 345h0M542 344h0M579 343h0M542 343h0"/>
<path class="c5" d="M538 343h0"/>
<path class="c4" d="M558 345h0M442 345h0M446 344h0M548 344h0M452 344h0M396 344h0M440 344h0M442 343h0M450 343h0M480 343h0M476 342h0"/>
<path class="c2" d="M446 345h0M440 345h0M444 344h0M379 344h0M460 343h0M478 343h0"/>
<path class="c3" d="M438 345h0M444 345h0M402 345h0M466 344h0M442 344h0M420 343h0M440 343h0M357 343h0M454 343h0M438 343h0"/>
<path class="c0" d="M379 345h0M339 345h0M390 344h0M349 343h0"/>
<path class="c6" d="M550 342h0M456 342h0M452 342h0M542 342h0M546 342h0M552 342h0M480 341h0M548 340h0M593 340h0"/>
<path class="c2" d="M361 342h0M446 342h0M408 342h0M442 341h0M339 341h0M450 340h0"/>
<path class="c3" d="M440 342h0M444 341h0M420 340h0"/>
<path class="c0" d="M438 342h0M566 341h0M406 340h0"/>
<path class="c4" d="M432 342h0M460 342h0M464 341h0M416 341h0M448 341h0M440 341h0M452 340h0M440 340h0"/>
<path class="c5" d="M464 342h0M466 342h0M538 342h0M538 341h0M422 340h0"/>
<path class="c1" d="M373 342h0M448 342h0M444 342h0M496 341h0M383 341h0M438 341h0"/>
<path class="c6" d="M540 340h0M544 339h0M540 337h0"/>
<path class="c1" d="M339 338h0"/>
<path class="c3" d="M436 340h0M484 340h0M408 339h0M480 338h0M440 338h0M538 337h0"/>
<path class="c4" d="M490 340h0M438 340h0M476 340h0M478 339h0M450 339h0M462 339h0M444 339h0M438 339h0M478 338h0M418 338h0M456 337h0"/>
<path class="c5" d="M484 339h0M504 339h0M462 338h0M458 338h0M625 337h0M478 337h0M585 337h0"/>
<path class="c2" d="M444 340h0M392 340h0M383 338h0M450 338h0M379 338h0M438 338h0M452 338h0M402 337h0M544 337h0"/>
<path class="c0" d="M394 339h0M440 339h0M347 337h0"/>
<path class="c5" d="M444 337h0M540 336h0M426 335h0M440 334h0M546 334h0M560 334h0"/>
<path class="c1" d="M440 337h0M438 337h0M390 337h0M404 336h0M436 336h0M373 334h0"/>
<path class="c6" d="M556 336h0M574 334h0M657 334h0M562 334h0M548 334h0"/>
<path class="c0" d="M375 337h0M440 336h0M438 335h0"/>
<path class="c3" d="M371 337h0M442 336h0M456 336h0M442 335h0M446 334h0"/>
<path class="c2" d="M420 337h0M458 336h0M385 334h0M472 334h0M398 334h0"/>
<path class="c4" d="M478 336h0M482 336h0M637 335h0M440 335h0M444 335h0M599 335h0M474 335h0M438 334h0M478 334h0M456 334h0"/>
<path class="c4" d="M462 334h0M428 333h0M454 333h0M438 333h0M490 333h0M442 333h0M540 332h0M440 332h0M438 332h0M480 331h0M428 331h0"/>
<path class="c6" d="M540 334h0M544 333h0M478 333h0M538 333h0M595 333h0M538 331h0M552 331h0"/>
<path class="c5" d="M625 333h0M619 333h0M480 332h0M498 332h0M520 332h0M460 331h0M454 331h0"/>
<path class="c2" d="M450 333h0M484 333h0M381 333h0M550 332h0"/>
<path class="c1" d="M432 334h0M444 332h0"/>
<path class="c0" d="M337 333h0M554 333h0"/>
<path class="c3" d="M444 334h0M402 333h0M581 333h0M444 333h0M394 333h0M400 332h0M456 332h0"/>
<path class="c4" d="M581 330h0M440 330h0M787 329h0M554 329h0M540 329h0M460 328h0"/>
<path class="c2" d="M440 331h0M365 329h0M566 328h0"/>
<path class="c0" d="M400 331h0M422 327h0"/>
<path class="c1" d="M383 331h0M377 330h0M408 330h0M552 329h0M402 328h0"/>
<path class="c6" d="M544 331h0M564 330h0M480 329h0M538 327h0M486 327h0"/>
<path class="c5" d="M444 331h0M468 330h0M456 330h0M478 329h0M540 328h0M472 327h0"/>
<path class="c3" d="M478 331h0M438 331h0M454 330h0M438 330h0M478 330h0M442 329h0M440 329h0M379 328h0M446 328h0M568 328h0M478 328h0M442 328h0M464 327h0"/>
<path class="c0" d="M450 325h0"/>
<path class="c3" d="M450 327h0M566 327h0M387 327h0M448 326h0M458 326h0M390 326h0M552 326h0M482 326h0M442 326h0M438 326h0M468 325h0"/>
<path class="c6" d="M476 327h0M540 327h0M548 326h0M542 326h0"/>
<path class="c5" d="M542 327h0M486 326h0M635 326h0M456 326h0"/>
<path class="c1" d="M339 327h0M424 327h0M381 326h0M454 326h0M375 326h0M383 325h0M337 325h0"/>
<path class="c4" d="M478 327h0M438 327h0M482 327h0M450 326h0M446 326h0M430 325h0M444 325h0M645 325h0"/>
<path class="c2" d="M454 327h0M355 326h0M462 326h0M579 326h0M416 325h0"/>
<path class="c2" d="M446 325h0M406 324h0M432 324h0M357 324h0M454 324h0M480 323h0M466 323h0M558 322h0"/>
<path class="c5" d="M438 325h0M544 324h0M538 324h0M488 324h0M540 324h0M440 324h0M538 323h0M450 323h0M456 323h0M450 322h0"/>
<path class="c1" d="M504 322h0"/>
<path class="c6" d="M544 323h0M621 323h0M542 322h0"/>
<path class="c4" d="M440 325h0M444 324h0M589 324h0M482 324h0M438 324h0M516 324h0M492 323h0"/>
<path class="c3" d="M406 325h0M456 325h0M442 324h0M400 323h0M442 323h0M438 323h0M440 322h0"/>
<path class="c0" d="M353 324h0M398 324h0M560 322h0M361 322h0"/>
<path class="c3" d="M408 322h0M486 321h0M494 321h0M480 321h0M474 320h0M478 320h0M472 320h0"/>
<path class="c6" d="M508 322h0M585 322h0M546 320h0M552 320h0"/>
<path class="c5" d="M442 322h0M478 321h0M466 321h0M452 321h0M589 320h0M480 320h0"/>
<path class="c2" d="M383 322h0M446 322h0M472 322h0M363 321h0M373 320h0M440 320h0M379 320h0M422 320h0M444 320h0M655 320h0"/>
<path class="c1" d="M341 322h0M390 321h0M337 321h0M454 321h0M347 321h0M412 320h0"/>
<path class="c4" d="M444 322h0M442 321h0M464 321h0M438 321h0M444 321h0M456 320h0"/>
<path class="c0" d="M558 320h0"/>
<path class="c3" d="M438 320h0M450 319h0M478 318h0M440 318h0M540 317h0"/>
<path class="c0" d="M351 319h0M387 318h0M462 318h0M347 317h0"/>
<path class="c4" d="M486 320h0M550 320h0M442 319h0M444 319h0M438 318h0M840 317h0M478 317h0M438 317h0"/>
<path class="c1" d="M448 320h0M339 319h0M337 318h0M406 317h0"/>
<path class="c5" d="M540 320h0M542 319h0M627 319h0M488 319h0M540 318h0M488 318h0M783 318h0M558 318h0M440 317h0"/>
<path class="c6" d="M554 317h0M494 317h0"/>
<path class="c2" d="M438 319h0M442 318h0M450 318h0M398 318h0M472 317h0M450 317h0M448 317h0M464 317h0"/>
<path class="c4" d="M440 316h0M478 316h0M486 315h0M414 315h0M448 314h0M444 314h0M478 313h0"/>
<path class="c0" d="M349 317h0M438 316h0M450 315h0M383 314h0M339 313h0"/>
<path class="c1" d="M337 317h0M458 315h0M404 314h0"/>
<path class="c3" d="M377 316h0M462 316h0M458 316h0M472 316h0M448 316h0M387 315h0M392 315h0M408 315h0M418 315h0M482 314h0M440 314h0M442 313h0M464 313h0"/>
<path class="c2" d="M387 316h0M591 314h0M339 314h0"/>
<path class="c5" d="M480 317h0M552 314h0M480 314h0M484 314h0M558 314h0M542 314h0"/>
<path class="c6" d="M538 316h0M564 316h0M568 316h0"/>
<path class="c6" d="M538 313h0M494 313h0M540 313h0M515 312h0M548 311h0M540 311h0"/>
<path class="c5" d="M639 313h0M466 313h0M440 313h0M540 312h0M458 312h0M464 311h0M597 310h0M566 310h0M458 310h0M446 310h0"/>
<path class="c0" d="M343 311h0M377 310h0"/>
<path class="c4" d="M480 313h0M446 312h0M454 312h0M440 312h0M478 310h0"/>
<path class="c2" d="M484 313h0M398 312h0M404 310h0"/>
<path class="c3" d="M438 313h0M438 312h0M478 312h0M448 312h0M448 311h0M609 311h0M484 311h0M440 311h0M466 310h0M442 310h0"/>
<path class="c1" d="M377 312h0M480 312h0M438 311h0M377 311h0"/>
<path class="c3" d="M440 310h0M438 309h0M444 309h0M442 309h0M599 309h0M488 309h0M440 309h0M482 309h0M412 308h0M478 308h0M438 308h0M440 307h0M394 307h0"/>
<path class="c5" d="M653 310h0M456 309h0M544 309h0M470 308h0M556 308h0M570 308h0M542 307h0"/>
<path class="c6" d="M558 310h0M538 310h0M540 309h0"/>
<path class="c2" d="M641 309h0M478 309h0M446 308h0M452 308h0M448 308h0M442 308h0M568 307h0"/>
<path class="c0" d="M387 310h0M341 309h0M464 308h0"/>
<path class="c4" d="M438 310h0M538 309h0M462 309h0M458 309h0"/>
<path class="c1" d="M448 310h0M345 309h0M400 308h0"/>
<path class="c1" d="M440 306h0M478 305h0M440 305h0"/>
<path class="c2" d="M416 307h0M400 307h0M462 307h0M444 306h0M450 306h0M418 305h0M400 305h0"/>
<path class="c4" d="M570 307h0M641 306h0M540 306h0M454 306h0M454 305h0M442 305h0M605 304h0"/>
<path class="c3" d="M450 307h0M474 306h0M518 306h0M438 306h0M446 306h0M410 305h0M438 305h0M480 305h0"/>
<path class="c6" d="M544 307h0M643 307h0M552 305h0M544 305h0M542 305h0"/>
<path class="c5" d="M583 307h0M552 306h0M478 306h0M554 306h0M599 306h0M488 305h0M480 304h0"/>
<path class="c0" d="M424 306h0M404 305h0M400 304h0"/>
<path class="c1" d="M385 303h0M442 303h0M587 303h0M390 302h0M377 301h0M454 301h0"/>
<path class="c3" d="M442 304h0M438 304h0M456 303h0M454 303h0M440 303h0M452 302h0M540 302h0M412 302h0M458 301h0M446 301h0"/>
<path class="c2" d="M379 303h0M478 303h0M462 303h0M424 302h0M438 302h0M440 302h0"/>
<path class="c0" d="M438 303h0"/>
<path class="c4" d="M460 303h0M458 302h0M444 302h0M446 302h0M619 302h0M478 301h0M438 301h0M440 301h0"/>
<path class="c6" d="M542 303h0M482 302h0M556 302h0M538 301h0"/>
<path class="c5" d="M440 304h0M560 303h0M542 302h0M540 301h0M490 301h0"/>
<path class="c1" d="M438 300h0M432 299h0M438 299h0"/>
<path class="c5" d="M605 300h0M538 300h0M546 300h0M448 299h0M474 299h0M536 299h0M540 299h0M552 299h0M538 299h0M456 298h0M540 298h0M597 298h0M488 298h0M440 298h0"/>
<path class="c3" d="M645 301h0M442 301h0M383 300h0M454 300h0M412 300h0M448 300h0M371 300h0M442 299h0M579 299h0M542 298h0"/>
<path class="c6" d="M548 299h0M500 298h0"/>
<path class="c0" d="M337 300h0M379 298h0"/>
<path class="c4" d="M440 300h0M452 300h0M440 299h0M450 298h0"/>
<path class="c2" d="M478 300h0M444 300h0M402 299h0M387 298h0M478 298h0"/>
<path class="c2" d="M444 297h0M540 297h0M438 297h0M383 296h0M416 295h0M446 295h0"/>
<path class="c6" d="M552 297h0M560 296h0M597 296h0M540 296h0M548 295h0"/>
<path class="c4" d="M538 297h0M558 297h0M456 296h0M529 296h0M468 296h0M458 295h0M450 295h0M454 295h0"/>
<path class="c3" d="M538 298h0M488 297h0M444 296h0M422 296h0M440 296h0M398 296h0M488 295h0M550 295h0"/>
<path class="c1" d="M442 297h0M446 297h0M468 297h0M490 295h0"/>
<path class="c5" d="M478 297h0M482 297h0M595 297h0M460 297h0M538 296h0M538 295h0M540 295h0"/>
<path class="c0" d="M448 297h0M359 295h0"/>
<path class="c4" d="M480 294h0M490 294h0M494 294h0M486 292h0"/>
<path class="c6" d="M542 295h0M552 293h0M544 293h0M488 293h0M540 293h0M540 292h0"/>
<path class="c2" d="M442 294h0M446 294h0M478 293h0M377 293h0M438 293h0M434 292h0M438 292h0"/>
<path class="c5" d="M492 295h0M484 294h0M556 294h0M522 294h0M538 293h0"/>
<path class="c3" d="M494 295h0M438 295h0M442 295h0M375 294h0M478 294h0M412 293h0M484 293h0M538 292h0M464 292h0M639 292h0"/>
<path class="c0" d="M337 295h0M689 293h0M440 292h0"/>
<path class="c1" d="M458 294h0M337 294h0M381 294h0M440 293h0M446 292h0"/>
<path class="c1" d="M450 291h0M404 290h0M406 289h0M504 289h0"/>
<path class="c2" d="M478 292h0M438 290h0M444 290h0M339 290h0M440 290h0M408 289h0M458 289h0M440 289h0M410 289h0"/>
<path class="c3" d="M422 292h0M739 291h0M440 291h0M458 290h0M452 290h0M548 290h0M460 289h0M456 289h0M420 289h0M432 289h0"/>
<path class="c5" d="M480 291h0M538 291h0M548 291h0M603 291h0M579 291h0M544 290h0M540 290h0M540 289h0M542 289h0M484 289h0M564 289h0"/>
<path class="c4" d="M482 291h0M438 291h0M540 291h0M442 290h0M480 289h0"/>
<path class="c6" d="M544 291h0"/>
<path class="c4" d="M438 289h0M498 288h0M478 288h0M438 288h0M446 288h0M440 287h0M562 286h0M458 286h0M488 286h0"/>
<path class="c1" d="M442 288h0M339 287h0M444 286h0M416 286h0"/>
<path class="c0" d="M371 286h0"/>
<path class="c3" d="M448 288h0M418 288h0M442 287h0M577 287h0M464 286h0M448 286h0M468 286h0M480 286h0"/>
<path class="c6" d="M540 288h0M546 287h0"/>
<path class="c2" d="M375 288h0M480 288h0M448 287h0M446 287h0M438 287h0M379 286h0M462 286h0M440 286h0"/>
<path class="c5" d="M506 289h0M488 288h0M542 288h0M462 287h0M538 287h0M478 287h0M540 287h0M492 286h0"/>
<path class="c4" d="M603 285h0M482 285h0M442 285h0M444 284h0M468 284h0M440 283h0"/>
<path class="c2" d="M359 284h0M442 283h0M385 283h0"/>
<path class="c1" d="M347 285h0M444 285h0M442 284h0"/>
<path class="c5" d="M484 285h0M556 285h0M542 285h0M540 285h0M464 285h0M595 285h0M460 285h0M438 285h0M450 284h0M484 284h0M540 284h0M520 284h0M546 283h0"/>
<path class="c6" d="M554 285h0M574 285h0M550 283h0M577 283h0M556 283h0"/>
<path class="c3" d="M474 285h0M480 284h0M438 284h0M460 283h0M410 283h0M472 283h0M478 283h0"/>
<path class="c0" d="M337 285h0M337 284h0M404 283h0"/>
<path class="c0" d="M444 282h0M442 281h0"/>
<path class="c6" d="M589 282h0M546 282h0M538 281h0M625 280h0M540 280h0"/>
<path class="c3" d="M466 282h0M474 282h0M438 282h0M488 281h0M480 281h0M452 281h0M510 280h0M440 280h0M442 279h0"/>
<path class="c2" d="M398 282h0M363 282h0M402 282h0M468 282h0M438 281h0M462 279h0M385 279h0"/>
<path class="c1" d="M337 282h0M480 282h0M394 281h0M448 280h0"/>
<path class="c5" d="M542 279h0M474 279h0"/>
<path class="c4" d="M544 282h0M478 282h0M442 282h0M540 282h0M478 281h0M450 281h0M502 281h0M454 280h0M446 280h0M448 279h0M538 279h0"/>
<path class="c1" d="M480 279h0M446 279h0M341 278h0M438 278h0M343 278h0M486 278h0M466 277h0M396 277h0"/>
<path class="c5" d="M546 279h0M550 279h0M464 278h0M542 278h0M442 277h0M645 276h0"/>
<path class="c4" d="M538 278h0M540 278h0M482 277h0M548 276h0M458 276h0"/>
<path class="c2" d="M440 278h0M396 278h0M359 278h0M444 277h0M484 277h0M438 276h0M478 276h0"/>
<path class="c0" d="M420 278h0M450 277h0"/>
<path class="c6" d="M579 279h0"/>
<path class="c3" d="M454 279h0M438 279h0M444 278h0M468 277h0M456 277h0M438 277h0M448 276h0M486 276h0M440 276h0M472 276h0M482 276h0"/>
<path class="c4" d="M478 274h0M502 273h0M490 273h0M446 273h0M444 272h0"/>
<path class="c2" d="M440 275h0M442 275h0M450 274h0M438 274h0M456 273h0M442 273h0M478 273h0M420 273h0M440 273h0M438 272h0"/>
<path class="c6" d="M579 275h0M546 273h0M546 272h0M550 272h0"/>
<path class="c1" d="M462 276h0M351 274h0M480 273h0"/>
<path class="c0" d="M396 275h0M480 274h0"/>
<path class="c3" d="M438 275h0M546 275h0M585 275h0M486 274h0M452 273h0M438 273h0"/>
<path class="c5" d="M605 275h0M572 274h0M458 274h0M538 274h0M504 274h0M647 274h0M542 274h0M546 274h0M560 273h0M540 273h0"/>
<path class="c0" d="M438 270h0M369 269h0"/>
<path class="c4" d="M482 272h0M456 272h0M540 272h0M542 271h0M422 270h0M450 270h0"/>
<path class="c5" d="M538 272h0M542 272h0M470 271h0M583 271h0M544 270h0M478 270h0M542 270h0M570 269h0M546 269h0M581 269h0"/>
<path class="c2" d="M442 272h0M440 271h0M444 271h0M412 270h0M446 269h0M410 269h0M438 269h0M478 269h0"/>
<path class="c3" d="M480 272h0M424 272h0M440 272h0M560 272h0M460 271h0M434 271h0M452 270h0M484 270h0M442 270h0M476 269h0"/>
<path class="c1" d="M345 270h0"/>
<path class="c6" d="M538 271h0M538 270h0M552 269h0"/>
<path class="c1" d="M379 268h0M448 268h0M464 267h0"/>
<path class="c0" d="M484 266h0M406 265h0M440 265h0"/>
<path class="c5" d="M540 268h0M446 268h0M562 267h0M546 266h0M661 266h0M490 266h0M464 265h0M540 265h0M538 265h0M546 265h0"/>
<path class="c3" d="M440 269h0M490 268h0M438 267h0M418 267h0M444 267h0M442 267h0M488 267h0M611 266h0M442 266h0M438 265h0"/>
<path class="c4" d="M466 269h0M542 268h0M458 268h0M438 268h0M442 268h0M542 267h0M438 266h0M540 266h0M478 265h0M490 265h0M448 265h0M486 265h0"/>
<path class="c2" d="M452 265h0M466 265h0"/>
<path class="c1" d="M460 265h0M438 262h0"/>
<path class="c6" d="M548 263h0"/>
<path class="c5" d="M456 265h0M542 264h0M540 264h0M556 264h0M538 264h0M468 264h0M542 262h0M546 262h0"/>
<path class="c4" d="M438 264h0M476 264h0M538 263h0M540 263h0M454 263h0"/>
<path class="c2" d="M488 264h0M462 264h0M464 263h0M428 263h0M468 261h0M452 261h0"/>
<path class="c3" d="M579 264h0M436 264h0M442 264h0M470 264h0M440 264h0M480 264h0M478 264h0M438 263h0M440 262h0M518 262h0M550 262h0M478 262h0M398 261h0M554 261h0"/>
<path class="c0" d="M460 264h0M377 263h0M420 262h0M387 261h0"/>
<path class="c0" d="M341 261h0M392 259h0"/>
<path class="c1" d="M460 261h0M440 261h0M438 260h0M440 260h0"/>
<path class="c5" d="M540 261h0M544 260h0M488 260h0M548 260h0M542 260h0M540 259h0M476 259h0"/>
<path class="c4" d="M544 261h0M488 261h0M480 261h0M482 260h0M540 260h0M442 260h0M466 260h0M478 259h0M440 259h0M444 258h0"/>
<path class="c2" d="M442 261h0M482 261h0M486 261h0M438 261h0M472 260h0M357 259h0"/>
<path class="c3" d="M470 261h0M478 260h0M452 260h0M379 260h0M538 259h0M518 259h0M438 259h0M442 259h0M452 258h0M442 258h0"/>
<path class="c6" d="M556 260h0"/>
<path class="c1" d="M442 257h0M394 257h0M438 256h0"/>
<path class="c4" d="M617 258h0M538 257h0M452 257h0M484 256h0M538 256h0M484 255h0M470 255h0M538 255h0"/>
<path class="c3" d="M438 258h0M454 257h0M458 257h0M438 257h0M478 257h0M392 256h0M442 256h0M383 256h0M544 255h0M442 255h0M450 254h0"/>
<path class="c6" d="M550 257h0M542 256h0"/>
<path class="c5" d="M542 258h0M540 257h0M552 257h0M480 257h0M556 257h0M544 257h0M577 256h0M540 255h0M478 255h0"/>
<path class="c0" d="M337 258h0M444 256h0M444 255h0"/>
<path class="c2" d="M480 258h0M440 257h0M595 256h0M480 255h0"/>
<path class="c1" d="M440 254h0M478 254h0M444 253h0M478 253h0M440 253h0M392 252h0M422 251h0M420 249h0"/>
<path class="c0" d="M454 251h0"/>
<path class="c6" d="M542 254h0M579 250h0"/>
<path class="c4" d="M450 252h0M633 252h0M478 252h0M538 251h0"/>
<path class="c3" d="M442 254h0M488 253h0M440 252h0M456 251h0M480 251h0M438 251h0"/>
<path class="c5" d="M538 254h0M460 254h0M611 254h0M647 253h0M484 252h0M538 252h0M542 251h0M552 250h0M542 250h0M639 250h0"/>
<path class="c2" d="M383 254h0M456 254h0M480 254h0M454 253h0M442 252h0M486 251h0M442 250h0M440 250h0M452 250h0"/>
<path class="c2" d="M438 249h0M482 248h0M446 247h0M381 247h0M438 246h0M450 246h0"/>
<path class="c3" d="M450 249h0M468 249h0M440 249h0M480 248h0M440 248h0M741 248h0M442 248h0M460 247h0M458 247h0M440 246h0M540 246h0"/>
<path class="c6" d="M540 249h0M568 248h0M550 248h0M546 247h0M599 246h0"/>
<path class="c4" d="M436 249h0M538 249h0M466 248h0M446 248h0M540 248h0M440 247h0M480 247h0M548 246h0"/>
<path class="c0" d="M349 248h0"/>
<path class="c1" d="M480 246h0"/>
<path class="c5" d="M544 249h0M546 248h0M544 248h0M538 248h0M478 248h0M538 247h0M438 247h0M641 246h0"/>
<path class="c4" d="M544 246h0M452 245h0M542 244h0M510 243h0M538 243h0M679 242h0"/>
<path class="c1" d="M478 245h0M349 245h0M440 242h0"/>
<path class="c2" d="M440 244h0M452 243h0M438 243h0M480 243h0M440 243h0M414 242h0"/>
<path class="c5" d="M639 245h0M572 245h0M556 245h0M552 244h0M540 244h0M544 244h0M482 243h0"/>
<path class="c0" d="M341 246h0M468 244h0M482 244h0M448 244h0M448 242h0M379 242h0"/>
<path class="c3" d="M444 245h0M438 244h0M460 244h0M488 242h0"/>
<path class="c6" d="M593 246h0M484 244h0M538 244h0M581 244h0M554 244h0M556 244h0M540 243h0M564 243h0"/>
<path class="c3" d="M444 242h0M484 240h0M438 240h0M542 238h0M442 238h0"/>
<path class="c4" d="M538 242h0M488 241h0M448 241h0M548 241h0M442 240h0M538 239h0M542 239h0M488 239h0M538 238h0"/>
<path class="c6" d="M542 240h0M564 239h0M649 238h0M540 237h0"/>
<path class="c1" d="M383 240h0M392 239h0"/>
<path class="c5" d="M544 241h0M544 240h0M552 240h0M540 240h0M603 240h0M558 240h0M470 238h0M552 238h0M534 237h0"/>
<path class="c2" d="M476 241h0M540 241h0M440 241h0M532 240h0M458 239h0M385 239h0M381 239h0M452 239h0M593 239h0M438 238h0M440 238h0"/>
<path class="c3" d="M438 237h0M458 237h0M446 236h0M440 235h0M452 234h0M484 234h0M538 234h0"/>
<path class="c6" d="M542 237h0M587 234h0"/>
<path class="c2" d="M440 236h0M544 236h0M450 235h0M470 235h0M440 234h0"/>
<path class="c0" d="M446 237h0M394 236h0M454 236h0M339 236h0M365 236h0"/>
<path class="c4" d="M534 236h0M548 235h0M546 235h0M488 235h0M538 235h0M460 234h0M540 234h0"/>
<path class="c1" d="M440 237h0M452 237h0M436 236h0M442 235h0"/>
<path class="c5" d="M556 237h0M490 237h0M526 237h0M556 236h0M540 236h0M538 236h0M542 235h0M540 235h0M542 234h0M438 234h0"/>
<path class="c3" d="M420 234h0M438 233h0M462 233h0M484 232h0M460 232h0M440 232h0M444 232h0M478 231h0M599 231h0"/>
<path class="c2" d="M476 234h0M466 233h0M502 233h0M442 233h0M480 232h0M486 232h0M452 232h0M460 231h0M472 231h0M440 231h0"/>
<path class="c5" d="M568 233h0M546 233h0M540 233h0M490 232h0M556 231h0"/>
<path class="c0" d="M404 233h0M438 232h0M492 232h0"/>
<path class="c1" d="M478 233h0M398 232h0M446 232h0M442 232h0"/>
<path class="c6" d="M538 233h0M542 232h0M560 231h0"/>
<path class="c4" d="M480 234h0M619 234h0M454 233h0M464 233h0M540 232h0M574 231h0"/>
<path class="c5" d="M542 230h0M486 230h0M566 228h0M564 228h0M568 227h0M542 227h0"/>
<path class="c2" d="M440 229h0M452 228h0M450 228h0M408 227h0"/>
<path class="c6" d="M540 231h0M542 231h0M550 229h0M574 228h0M544 227h0M554 227h0"/>
<path class="c1" d="M446 230h0M385 229h0M478 227h0"/>
<path class="c0" d="M482 227h0M353 227h0"/>
<path class="c3" d="M452 229h0M444 228h0M458 228h0M480 228h0M558 227h0M444 227h0"/>
<path class="c4" d="M527 231h0M595 230h0M480 230h0M591 230h0M540 230h0M480 229h0M464 229h0M446 229h0M438 228h0M478 228h0M540 228h0M472 227h0M486 227h0"/>
<path class="c2" d="M478 225h0M480 224h0M466 224h0"/>
<path class="c3" d="M591 226h0M546 226h0M442 226h0M442 225h0M540 225h0M438 225h0M440 225h0M440 224h0M442 224h0M540 224h0M438 223h0"/>
<path class="c6" d="M572 225h0M540 223h0"/>
<path class="c4" d="M538 226h0M458 226h0M542 226h0M574 226h0M470 225h0M450 225h0M552 224h0M490 224h0M464 224h0M544 224h0M458 223h0M554 223h0"/>
<path class="c5" d="M560 226h0M550 225h0M603 224h0M544 223h0M546 223h0M490 223h0M538 223h0"/>
<path class="c1" d="M355 226h0M440 226h0M377 223h0"/>
<path class="c0" d="M408 225h0M655 225h0"/>
<path class="c1" d="M367 222h0M448 220h0M446 220h0M438 220h0"/>
<path class="c3" d="M440 222h0M476 220h0M538 220h0M462 219h0M440 219h0"/>
<path class="c5" d="M538 222h0M558 222h0M552 221h0M540 221h0M643 220h0M544 220h0M488 219h0M587 219h0M444 219h0"/>
<path class="c6" d="M540 222h0M589 222h0M542 222h0M562 221h0M540 220h0M562 220h0"/>
<path class="c4" d="M589 221h0M542 221h0M538 221h0M639 220h0M490 220h0M478 220h0M546 220h0"/>
<path class="c2" d="M438 222h0M484 222h0M440 221h0M462 221h0"/>
<path class="c0" d="M353 220h0M440 220h0M359 220h0M347 220h0M605 219h0"/>
<path class="c5" d="M544 219h0M538 219h0M480 219h0M574 218h0M556 218h0M552 218h0M558 218h0M560 217h0M574 217h0M542 217h0M552 216h0"/>
<path class="c3" d="M542 219h0M478 219h0M456 218h0M482 218h0M484 217h0M424 216h0M468 216h0M444 216h0M540 216h0"/>
<path class="c4" d="M478 218h0M460 218h0M550 218h0M540 218h0M538 218h0M503 218h0M570 217h0M472 217h0M579 217h0M546 216h0M460 216h0"/>
<path class="c0" d="M347 218h0M420 217h0"/>
<path class="c2" d="M438 219h0M480 218h0M446 217h0M450 217h0M412 217h0"/>
<path class="c6" d="M739 218h0M566 216h0"/>
<path class="c4" d="M464 216h0M542 214h0M564 214h0M478 214h0M498 214h0M486 213h0M544 212h0"/>
<path class="c3" d="M466 216h0M454 216h0M538 215h0M482 215h0M480 215h0M428 215h0M540 213h0M454 213h0"/>
<path class="c1" d="M444 215h0M454 214h0M438 214h0M359 214h0M442 214h0"/>
<path class="c6" d="M643 213h0M579 213h0M536 213h0"/>
<path class="c0" d="M355 214h0"/>
<path class="c2" d="M450 215h0M548 215h0M379 215h0M379 214h0M460 213h0M357 212h0"/>
<path class="c5" d="M538 216h0M544 215h0M562 215h0M540 215h0M538 214h0M540 214h0M480 213h0M699 213h0M548 213h0M546 212h0"/>
<path class="c6" d="M538 211h0M611 210h0M558 210h0M538 209h0M597 209h0M542 209h0"/>
<path class="c4" d="M438 212h0M552 212h0M542 211h0M568 211h0M564 211h0M540 211h0M486 210h0M538 210h0M544 209h0M540 209h0"/>
<path class="c0" d="M426 212h0"/>
<path class="c3" d="M538 212h0M440 212h0M454 211h0M440 210h0M478 210h0M387 209h0M448 209h0"/>
<path class="c2" d="M544 211h0M438 211h0M440 211h0M392 211h0M570 211h0M438 209h0M478 209h0M408 209h0"/>
<path class="c1" d="M444 211h0M400 210h0"/>
<path class="c5" d="M540 212h0M488 211h0M572 211h0M540 210h0M546 210h0M556 209h0"/>
<path class="c5" d="M574 208h0M552 208h0M589 208h0M552 207h0M542 206h0"/>
<path class="c4" d="M478 208h0M458 207h0M554 207h0M540 207h0M542 207h0M550 207h0M490 206h0M538 206h0M568 206h0M540 206h0"/>
<path class="c0" d="M442 207h0"/>
<path class="c6" d="M546 208h0M540 208h0M560 208h0M585 207h0"/>
<path class="c2" d="M488 208h0M460 207h0M478 206h0M643 206h0M444 206h0M464 205h0"/>
<path class="c1" d="M448 208h0M440 208h0M464 207h0M448 206h0M456 206h0M440 206h0"/>
<path class="c3" d="M446 208h0M558 208h0M502 208h0M544 208h0M538 208h0M460 208h0M478 207h0M480 206h0"/>
<path class="c4" d="M482 205h0M544 205h0M558 204h0M540 203h0M484 203h0M452 202h0M478 202h0"/>
<path class="c2" d="M394 203h0M448 202h0M621 202h0"/>
<path class="c1" d="M458 205h0M490 205h0M544 204h0M480 204h0M440 203h0M438 202h0"/>
<path class="c3" d="M462 205h0M611 205h0M520 204h0M450 204h0M446 204h0M550 203h0M538 202h0M472 201h0M540 201h0M621 201h0"/>
<path class="c6" d="M942 205h0M577 204h0M540 202h0M538 201h0"/>
<path class="c5" d="M540 205h0M546 205h0M478 205h0M486 204h0M478 204h0M542 204h0M544 203h0M591 203h0M574 200h0"/>
<path class="c0" d="M438 205h0"/>
<path class="c6" d="M560 200h0M540 200h0M542 199h0M566 198h0M538 197h0"/>
<path class="c0" d="M341 199h0"/>
<path class="c3" d="M488 200h0M446 200h0M440 200h0M442 199h0M458 197h0"/>
<path class="c1" d="M476 200h0M522 200h0M540 199h0M448 198h0"/>
<path class="c4" d="M552 200h0M538 199h0M538 198h0M440 198h0M488 198h0M454 198h0M546 197h0M558 197h0M689 197h0"/>
<path class="c5" d="M538 200h0M747 200h0M548 200h0M548 199h0M544 199h0M546 198h0M591 198h0M560 197h0M540 197h0"/>
<path class="c2" d="M442 200h0M440 199h0M464 199h0M438 198h0M391 198h0M408 198h0M486 197h0"/>
<path class="c1" d="M359 194h0M444 193h0"/>
<path class="c3" d="M450 196h0M470 194h0M452 194h0M484 194h0"/>
<path class="c2" d="M438 197h0M478 197h0M438 196h0M548 196h0M460 196h0M460 195h0M438 195h0M379 194h0M438 193h0"/>
<path class="c6" d="M599 196h0M548 195h0M581 195h0M542 195h0M615 194h0"/>
<path class="c0" d="M456 197h0"/>
<path class="c5" d="M548 197h0M556 197h0M577 197h0M558 196h0M542 196h0M484 196h0M546 195h0M562 195h0M542 194h0M540 194h0M581 194h0M546 193h0M540 193h0"/>
<path class="c4" d="M566 197h0M587 197h0M540 196h0M440 195h0M538 195h0M522 195h0"/>
<path class="c5" d="M538 193h0M538 191h0M643 191h0M562 189h0"/>
<path class="c2" d="M484 192h0M456 192h0M546 192h0M454 192h0M486 192h0M466 191h0M540 191h0M474 190h0"/>
<path class="c4" d="M486 193h0M452 192h0M494 191h0M486 191h0M484 190h0M542 190h0M558 190h0"/>
<path class="c3" d="M438 192h0M462 192h0M440 192h0M462 191h0M450 191h0M446 191h0M446 190h0M478 190h0M460 190h0M486 189h0M480 189h0"/>
<path class="c0" d="M397 192h0M454 190h0M341 190h0M516 190h0"/>
<path class="c1" d="M446 192h0M442 189h0M440 189h0"/>
<path class="c6" d="M579 192h0M562 191h0M538 189h0"/>
<path class="c6" d="M550 189h0M540 188h0M554 187h0M552 187h0M560 186h0M591 186h0M615 186h0"/>
<path class="c5" d="M540 189h0M574 189h0M579 188h0M619 188h0M587 188h0M540 187h0M538 186h0M540 185h0"/>
<path class="c1" d="M438 189h0"/>
<path class="c2" d="M438 188h0M566 188h0M488 188h0M454 188h0M470 187h0M421 187h0M440 187h0"/>
<path class="c3" d="M538 188h0M438 187h0M462 186h0M450 185h0"/>
<path class="c4" d="M566 189h0M572 188h0M548 188h0M440 188h0M574 187h0M538 187h0M587 187h0M440 186h0M540 186h0M462 185h0"/>
<path class="c0" d="M343 187h0M378 186h0M482 186h0"/>
<path class="c2" d="M540 183h0M438 183h0M440 182h0M456 182h0M476 181h0"/>
<path class="c5" d="M591 184h0M603 184h0M548 183h0M556 183h0M544 183h0M564 182h0"/>
<path class="c0" d="M347 182h0M544 182h0M581 181h0M374 181h0M402 181h0"/>
<path class="c6" d="M566 182h0M558 182h0"/>
<path class="c1" d="M544 184h0M442 184h0M480 181h0M458 181h0"/>
<path class="c4" d="M538 185h0M556 185h0M560 184h0M540 184h0M480 184h0M538 184h0M538 183h0M446 183h0M574 183h0M540 182h0M538 182h0M444 182h0M482 181h0M558 181h0"/>
<path class="c3" d="M440 184h0M442 183h0M550 182h0M649 181h0"/>
<path class="c1" d="M393 180h0M466 179h0M440 179h0M383 178h0M398 178h0"/>
<path class="c0" d="M440 181h0M349 179h0"/>
<path class="c3" d="M438 181h0M456 180h0M603 179h0M552 179h0M490 179h0M540 179h0M438 178h0M566 178h0M623 178h0"/>
<path class="c5" d="M641 181h0M538 181h0M540 181h0M540 180h0M566 180h0M560 179h0M546 179h0M572 177h0"/>
<path class="c2" d="M502 180h0M478 180h0M444 179h0M478 178h0M442 178h0"/>
<path class="c6" d="M587 180h0M548 180h0M641 180h0M558 179h0M550 178h0"/>
<path class="c4" d="M482 180h0M538 180h0M552 178h0M540 178h0M538 178h0M552 177h0"/>
<path class="c5" d="M558 177h0M570 176h0M540 176h0M562 175h0M540 175h0M591 175h0M572 175h0M603 175h0"/>
<path class="c2" d="M554 176h0M482 176h0M478 174h0"/>
<path class="c3" d="M484 177h0M548 177h0M613 177h0M438 176h0M466 176h0M540 174h0M488 174h0M438 174h0M448 174h0"/>
<path class="c0" d="M337 175h0M458 175h0M466 175h0"/>
<path class="c4" d="M538 177h0M468 177h0M542 176h0M460 176h0M548 175h0M488 175h0M613 174h0M544 174h0"/>
<path class="c6" d="M550 177h0M546 177h0M540 177h0M542 175h0M564 174h0"/>
<path class="c1" d="M438 177h0M470 177h0M448 175h0M438 175h0"/>
<path class="c3" d="M478 172h0M540 172h0M440 171h0"/>
<path class="c6" d="M538 173h0M577 173h0M540 173h0M589 172h0M619 171h0M741 171h0M603 171h0"/>
<path class="c4" d="M538 174h0M546 172h0M595 172h0M556 171h0M478 171h0M589 171h0"/>
<path class="c1" d="M460 172h0M438 172h0M470 171h0"/>
<path class="c2" d="M413 173h0M478 173h0M456 173h0M480 173h0M544 173h0M446 172h0M464 171h0M454 171h0"/>
<path class="c0" d="M820 174h0"/>
<path class="c5" d="M546 174h0M484 174h0M564 173h0M940 173h0M538 172h0M544 172h0M564 172h0M583 172h0M558 172h0M568 172h0M540 171h0M544 171h0"/>
<path class="c6" d="M633 170h0M599 170h0M579 169h0M560 168h0M542 166h0M583 166h0"/>
<path class="c5" d="M566 171h0M542 170h0M572 170h0M574 169h0M540 169h0M542 168h0M605 168h0M572 167h0M538 167h0M593 166h0"/>
<path class="c4" d="M577 170h0M478 169h0M478 168h0"/>
<path class="c2" d="M540 170h0M446 169h0M442 168h0M486 168h0M566 166h0M540 166h0"/>
<path class="c0" d="M338 169h0M377 168h0"/>
<path class="c1" d="M538 168h0M456 167h0M438 166h0"/>
<path class="c3" d="M538 171h0M466 171h0M554 170h0M440 170h0M442 169h0M438 168h0M552 168h0M558 167h0M581 166h0M440 166h0"/>
<path class="c5" d="M558 166h0M534 165h0M544 164h0M560 164h0M874 164h0M554 163h0M552 163h0M577 162h0M599 162h0M480 161h0"/>
<path class="c4" d="M538 164h0M655 164h0M548 163h0M538 163h0M540 163h0M548 162h0M554 162h0M671 162h0M478 162h0M540 162h0"/>
<path class="c6" d="M577 166h0M617 163h0"/>
<path class="c1" d="M442 164h0M512 163h0M440 162h0M377 162h0"/>
<path class="c2" d="M538 165h0M440 163h0M472 162h0M438 161h0"/>
<path class="c3" d="M538 166h0M542 165h0M540 165h0M546 165h0M540 164h0M552 164h0M546 162h0M546 161h0"/>
<path class="c0" d="M338 163h0M383 162h0"/>
<path class="c1" d="M438 159h0M448 159h0M544 157h0"/>
<path class="c4" d="M538 160h0M540 160h0M552 160h0M613 159h0M564 159h0M538 159h0M566 159h0M538 158h0M540 157h0M548 157h0M558 156h0M574 156h0M488 156h0"/>
<path class="c2" d="M440 159h0M450 158h0M498 158h0M444 157h0"/>
<path class="c5" d="M540 161h0M554 160h0M558 160h0M542 160h0M560 159h0M540 159h0M548 158h0M554 156h0M615 156h0M560 156h0M540 156h0M589 156h0"/>
<path class="c6" d="M566 158h0"/>
<path class="c3" d="M538 161h0M480 160h0M546 159h0M669 158h0M476 157h0M440 156h0M653 156h0"/>
<path class="c1" d="M448 155h0M440 154h0M468 153h0"/>
<path class="c0" d="M355 155h0M452 154h0M337 153h0"/>
<path class="c6" d="M546 155h0M570 154h0M577 154h0M566 154h0M657 153h0M609 153h0M484 152h0M564 152h0M581 151h0"/>
<path class="c4" d="M542 156h0M540 154h0"/>
<path class="c5" d="M639 155h0M544 155h0M538 155h0M574 155h0M619 154h0M595 154h0M589 154h0M544 154h0M538 154h0M540 153h0M548 153h0M546 153h0M552 153h0M538 153h0M574 152h0M570 151h0M579 151h0M540 151h0"/>
<path class="c2" d="M540 155h0M498 152h0"/>
<path class="c3" d="M474 155h0M442 155h0M482 152h0"/>
<path class="c2" d="M480 151h0M446 150h0M544 149h0M450 149h0M419 149h0M552 148h0M450 148h0"/>
<path class="c5" d="M544 151h0M538 151h0M544 150h0M577 149h0M540 149h0M605 149h0M601 148h0M538 148h0M617 148h0M558 148h0M572 147h0M538 147h0"/>
<path class="c1" d="M444 151h0M574 149h0"/>
<path class="c6" d="M741 150h0M645 149h0M647 148h0M556 147h0"/>
<path class="c4" d="M546 150h0M589 149h0M538 149h0M488 149h0M544 148h0M579 148h0M482 147h0M480 147h0"/>
<path class="c3" d="M438 150h0M538 150h0M478 149h0M550 149h0M546 149h0M560 148h0M542 148h0"/>
<path class="c0" d="M438 144h0"/>
<path class="c2" d="M560 147h0M440 146h0M552 145h0M438 145h0"/>
<path class="c3" d="M577 147h0M540 147h0M639 147h0M579 146h0M478 146h0M538 145h0M456 144h0M482 144h0M540 144h0M546 143h0M440 143h0"/>
<path class="c6" d="M609 147h0M609 146h0M583 146h0M566 146h0M566 145h0M655 145h0M542 144h0M635 144h0"/>
<path class="c4" d="M546 146h0M570 144h0M579 144h0M498 144h0"/>
<path class="c1" d="M450 142h0"/>
<path class="c5" d="M540 146h0M564 146h0M542 146h0M544 146h0M572 146h0M542 145h0M605 144h0M607 143h0M550 143h0M587 143h0M470 143h0"/>
<path class="c1" d="M464 142h0M480 139h0M442 138h0M387 138h0"/>
<path class="c0" d="M542 142h0M488 140h0"/>
<path class="c3" d="M474 142h0M466 141h0M540 141h0M478 140h0M562 139h0M538 139h0M591 138h0M478 138h0M540 138h0"/>
<path class="c5" d="M538 142h0M544 141h0M538 140h0M641 139h0M572 138h0"/>
<path class="c2" d="M458 142h0M444 142h0M438 140h0M546 139h0M438 138h0M486 138h0M417 138h0"/>
<path class="c6" d="M651 141h0M595 141h0M570 139h0M625 139h0M581 138h0"/>
<path class="c4" d="M460 142h0M540 142h0M478 141h0M548 141h0M544 139h0M540 139h0M544 138h0M542 137h0"/>
<path class="c2" d="M482 135h0M647 134h0M444 133h0M438 133h0"/>
<path class="c4" d="M607 137h0M550 136h0M540 136h0M558 135h0M595 133h0M538 133h0"/>
<path class="c3" d="M478 137h0M440 137h0M546 136h0M486 135h0M480 134h0M438 134h0M480 133h0M478 133h0M554 133h0M438 132h0"/>
<path class="c5" d="M597 137h0M538 136h0M544 136h0M579 135h0M568 134h0M540 134h0M542 134h0M583 133h0M542 133h0"/>
<path class="c6" d="M651 136h0M540 135h0M589 134h0M587 134h0M665 134h0M631 133h0M566 133h0M540 133h0"/>
<path class="c0" d="M438 136h0"/>
<path class="c1" d="M460 136h0M440 133h0"/>
<path class="c6" d="M562 132h0M558 130h0M639 129h0"/>
<path class="c4" d="M524 132h0M540 131h0M540 130h0M546 128h0"/>
<path class="c3" d="M444 132h0M540 132h0M558 132h0M452 131h0M544 130h0M484 130h0M659 130h0M542 129h0M446 129h0M438 129h0M540 129h0"/>
<path class="c0" d="M482 130h0M444 129h0M438 128h0"/>
<path class="c5" d="M581 132h0M556 132h0M546 131h0M462 131h0M739 131h0M564 130h0M583 130h0M623 129h0M587 129h0M538 129h0M562 128h0"/>
<path class="c1" d="M538 131h0M474 130h0M538 128h0"/>
<path class="c2" d="M542 132h0M486 132h0M440 131h0M468 131h0M452 129h0"/>
<path class="c4" d="M577 127h0M540 126h0M548 125h0M524 125h0M538 125h0M542 125h0M558 124h0M546 124h0"/>
<path class="c2" d="M540 128h0M538 127h0M540 127h0M438 124h0M550 124h0M442 124h0"/>
<path class="c3" d="M550 128h0M552 127h0M542 127h0M478 126h0M448 126h0M440 126h0M484 125h0M574 125h0M446 124h0M542 124h0M540 124h0M556 124h0"/>
<path class="c1" d="M540 125h0M680 124h0"/>
<path class="c0" d="M351 128h0M341 126h0"/>
<path class="c5" d="M579 128h0M564 128h0M560 127h0M560 126h0M635 126h0M564 126h0M558 125h0"/>
<path class="c6" d="M581 127h0M544 126h0M688 124h0"/>
<path class="c0" d="M442 123h0M379 122h0M448 122h0M482 121h0M419 121h0"/>
<path class="c6" d="M619 123h0M550 122h0M639 122h0M581 122h0M540 122h0M660 121h0M593 120h0M577 120h0"/>
<path class="c1" d="M446 123h0M623 122h0"/>
<path class="c5" d="M548 123h0M562 123h0M568 122h0M544 122h0M540 121h0M560 121h0M558 121h0M637 120h0"/>
<path class="c3" d="M450 123h0M450 122h0M603 121h0M583 121h0M550 121h0M550 120h0"/>
<path class="c2" d="M540 123h0M478 122h0M579 122h0M440 122h0M548 121h0M454 120h0M562 120h0M480 120h0"/>
<path class="c4" d="M544 123h0M687 122h0M564 120h0"/>
<path class="c5" d="M540 119h0M538 118h0M585 117h0M577 117h0M542 117h0M550 117h0M597 117h0M566 116h0M550 115h0"/>
<path class="c4" d="M560 119h0M510 119h0M540 118h0M566 117h0M538 117h0M552 116h0M966 116h0M572 115h0"/>
<path class="c3" d="M466 118h0M562 118h0M440 118h0M577 118h0M480 118h0M544 117h0M544 116h0M550 116h0M444 116h0M438 116h0M558 115h0M462 115h0"/>
<path class="c1" d="M458 119h0M542 119h0M438 119h0M498 119h0M478 115h0"/>
<path class="c0" d="M442 119h0M464 119h0M540 116h0"/>
<path class="c6" d="M554 117h0M556 116h0M583 116h0"/>
<path class="c4" d="M554 115h0M587 114h0M560 114h0M667 113h0M480 113h0M527 112h0M548 112h0M542 112h0M540 112h0M566 111h0"/>
<path class="c3" d="M548 115h0M538 114h0M554 113h0M538 111h0M540 111h0"/>
<path class="c2" d="M452 114h0M452 113h0M468 112h0M442 112h0M538 112h0M548 111h0M444 111h0"/>
<path class="c6" d="M546 112h0M641 111h0M601 110h0"/>
<path class="c5" d="M540 115h0M570 115h0M593 113h0M560 113h0M601 113h0M570 113h0M603 113h0M574 112h0M556 112h0M599 111h0M562 111h0M552 110h0"/>
<path class="c1" d="M379 115h0M438 114h0M440 111h0"/>
<path class="c4" d="M562 110h0M530 110h0M544 109h0M574 109h0M556 109h0M562 107h0M574 106h0M516 106h0"/>
<path class="c5" d="M639 110h0M647 110h0M546 109h0M623 109h0M548 108h0M641 108h0M550 108h0M540 108h0M542 108h0M538 107h0M577 106h0M597 106h0M542 106h0"/>
<path class="c0" d="M399 109h0M365 108h0M427 107h0"/>
<path class="c2" d="M476 109h0M438 108h0M478 107h0"/>
<path class="c6" d="M607 108h0M560 108h0M542 107h0M556 106h0"/>
<path class="c3" d="M560 110h0M546 110h0M544 110h0M552 107h0M579 107h0M440 106h0"/>
<path class="c1" d="M521 110h0M452 107h0M480 106h0"/>
<path class="c4" d="M550 106h0M538 105h0M478 105h0M560 105h0M540 105h0M538 104h0M482 104h0M583 103h0M570 102h0M542 102h0M597 102h0"/>
<path class="c3" d="M490 106h0M462 106h0M542 105h0M482 105h0M599 104h0M595 104h0M442 103h0M544 102h0M538 101h0"/>
<path class="c2" d="M450 106h0M413 105h0M440 105h0M540 104h0M458 103h0M538 102h0M468 102h0"/>
<path class="c1" d="M442 105h0M438 102h0M405 102h0"/>
<path class="c5" d="M558 105h0M641 104h0M579 104h0M556 103h0M538 103h0M599 103h0M548 102h0"/>
<path class="c6" d="M542 104h0"/>
<path class="c0" d="M343 105h0M478 104h0"/>
<path class="c4" d="M540 101h0M538 99h0M574 99h0M560 98h0M583 98h0M512 98h0M542 97h0M546 97h0"/>
<path class="c2" d="M486 96h0M558 96h0"/>
<path class="c1" d="M542 98h0M474 98h0"/>
<path class="c6" d="M623 101h0M550 99h0M591 98h0M683 96h0"/>
<path class="c5" d="M579 101h0M546 101h0M548 101h0M542 100h0M550 100h0M601 100h0M564 99h0M583 97h0M540 97h0M566 96h0M554 96h0"/>
<path class="c3" d="M480 101h0M579 100h0M540 99h0M558 99h0M544 99h0M482 99h0M552 98h0M464 98h0M566 98h0M538 98h0M570 97h0M438 96h0M643 96h0"/>
<path class="c1" d="M462 93h0"/>
<path class="c2" d="M538 96h0M550 96h0M540 94h0"/>
<path class="c0" d="M540 96h0M546 93h0M351 92h0M653 91h0M395 91h0"/>
<path class="c3" d="M546 95h0M540 95h0M538 95h0M460 95h0M556 95h0M478 92h0M599 92h0"/>
<path class="c6" d="M574 95h0M615 95h0M566 94h0M581 93h0M615 92h0M603 92h0M540 91h0"/>
<path class="c5" d="M544 96h0M546 94h0M550 92h0M570 92h0M540 92h0M558 91h0"/>
<path class="c4" d="M554 95h0M560 95h0M544 95h0M556 94h0M540 93h0M601 93h0M597 93h0M554 92h0M460 92h0M538 92h0M572 91h0"/>
<path class="c6" d="M617 91h0M1143 87h0M548 86h0"/>
<path class="c0" d="M438 86h0"/>
<path class="c1" d="M440 88h0M458 87h0M438 87h0M486 87h0M540 87h0M480 85h0"/>
<path class="c3" d="M486 90h0M560 88h0M579 88h0M574 87h0M558 87h0M538 87h0"/>
<path class="c2" d="M540 90h0M641 88h0M554 88h0M524 88h0M466 87h0"/>
<path class="c4" d="M554 91h0M597 88h0M577 88h0M542 88h0M540 88h0M542 87h0M613 87h0M540 86h0"/>
<path class="c5" d="M597 91h0M570 90h0M546 90h0M601 88h0M595 88h0M544 86h0M566 86h0M540 85h0M488 85h0M558 85h0M595 85h0"/>
<path class="c0" d="M351 83h0M365 83h0M442 82h0M438 81h0M538 80h0"/>
<path class="c1" d="M482 84h0M442 81h0M538 81h0M542 80h0"/>
<path class="c4" d="M538 84h0M478 84h0M544 84h0M572 84h0M542 83h0M558 83h0M550 83h0M570 80h0M546 80h0"/>
<path class="c2" d="M548 82h0M558 81h0M478 81h0M438 80h0"/>
<path class="c5" d="M540 84h0M566 83h0M603 83h0M544 82h0M585 81h0M568 81h0M542 81h0M585 80h0"/>
<path class="c3" d="M566 84h0M488 84h0M466 83h0M438 83h0M540 83h0M542 82h0M554 81h0M583 81h0M480 80h0M599 80h0"/>
<path class="c0" d="M355 78h0M351 76h0"/>
<path class="c5" d="M544 79h0M540 79h0M589 79h0M574 78h0M583 78h0M741 78h0M597 77h0M550 76h0"/>
<path class="c1" d="M542 77h0"/>
<path class="c6" d="M562 79h0M611 78h0M639 77h0M558 76h0M566 75h0"/>
<path class="c2" d="M524 75h0M538 75h0"/>
<path class="c4" d="M540 80h0M558 79h0M566 78h0M542 78h0M538 78h0M544 78h0M566 77h0M574 77h0M540 76h0M550 75h0M619 75h0"/>
<path class="c3" d="M570 79h0M645 79h0M546 78h0M554 77h0M442 77h0M540 77h0M440 77h0M452 76h0M655 76h0M542 75h0M554 75h0"/>
<path class="c0" d="M478 73h0M446 72h0"/>
<path class="c6" d="M585 73h0M556 73h0M595 72h0M659 72h0M617 70h0"/>
<path class="c1" d="M554 74h0M466 72h0"/>
<path class="c2" d="M542 72h0M476 70h0M440 70h0M556 70h0M497 70h0"/>
<path class="c5" d="M540 74h0M570 74h0M550 73h0M538 73h0M570 72h0M605 72h0M556 71h0M611 70h0M478 70h0"/>
<path class="c3" d="M548 74h0M458 72h0M558 72h0M480 71h0M490 71h0M540 71h0M464 71h0M542 70h0"/>
<path class="c4" d="M548 73h0M540 73h0M566 72h0M538 72h0M550 72h0M484 71h0M581 71h0M538 71h0M538 70h0"/>
<path class="c1" d="M438 69h0M542 69h0M589 68h0M442 66h0M460 66h0"/>
<path class="c4" d="M568 70h0M589 69h0M538 69h0M671 67h0M554 67h0M609 66h0M484 65h0"/>
<path class="c3" d="M558 70h0M538 68h0M558 67h0M548 67h0M566 67h0M583 65h0"/>
<path class="c5" d="M641 70h0M601 69h0M599 66h0M554 66h0M629 66h0M556 65h0"/>
<path class="c6" d="M603 69h0M621 68h0M595 68h0M635 67h0M585 66h0M1040 66h0"/>
<path class="c0" d="M442 70h0M454 68h0"/>
<path class="c2" d="M403 70h0M540 70h0M546 68h0M542 68h0M554 68h0M448 67h0M538 66h0M560 65h0"/>
<path class="c0" d="M345 65h0"/>
<path class="c3" d="M504 65h0M542 64h0M542 62h0M482 62h0M583 61h0"/>
<path class="c1" d="M566 62h0"/>
<path class="c6" d="M629 63h0M623 63h0M629 61h0"/>
<path class="c5" d="M617 65h0M554 65h0M540 65h0M572 64h0M748 64h0M599 64h0M552 64h0M597 63h0M645 63h0M607 62h0M548 62h0M627 61h0M615 61h0M568 60h0"/>
<path class="c4" d="M546 64h0M627 64h0M741 63h0M482 63h0M542 63h0M540 63h0M572 63h0M478 63h0M566 63h0M480 63h0M552 62h0M540 62h0M538 61h0M546 60h0"/>
<path class="c2" d="M446 65h0M538 63h0"/>
<path class="c6" d="M741 58h0M842 58h0"/>
<path class="c5" d="M550 60h0M552 59h0M615 58h0M581 58h0M544 58h0M566 58h0M595 57h0M661 56h0M613 56h0"/>
<path class="c1" d="M393 58h0M450 57h0M444 56h0"/>
<path class="c4" d="M595 59h0M641 59h0M544 59h0M599 59h0M593 58h0M564 58h0M542 58h0M577 58h0M577 56h0"/>
<path class="c0" d="M566 56h0"/>
<path class="c2" d="M440 59h0M421 59h0M673 58h0M480 58h0M548 57h0M526 56h0M542 55h0"/>
<path class="c3" d="M454 60h0M570 60h0M488 59h0M540 57h0M538 57h0M556 57h0M442 56h0M480 56h0M699 55h0"/>
<path class="c5" d="M631 54h0M548 54h0M192 834h0M198 834h0M182 834h0"/>
<path class="c3" d="M194 833h0M198 833h0M188 833h0M196 832h0M182 832h0M186 832h0"/>
<path class="c0" d="M438 54h0M180 834h0"/>
<path class="c6" d="M587 55h0M542 54h0M190 833h0M202 833h0M182 833h0M202 832h0M205 831h0"/>
<path class="c4" d="M581 55h0M540 54h0M194 834h0M196 833h0"/>
<path class="c1" d="M440 54h0M196 834h0M178 833h0M176 833h0M176 832h0M178 832h0M194 832h0M200 832h0M190 832h0"/>
<path class="c2" d="M176 834h0M186 834h0M184 834h0M190 834h0M188 834h0M186 833h0M188 832h0"/>
<path class="c6" d="M194 831h0M207 830h0M205 830h0M200 830h0"/>
<path class="c4" d="M186 831h0M202 830h0M192 830h0M184 829h0M205 828h0"/>
<path class="c3" d="M178 831h0M198 831h0M192 831h0M205 829h0M200 829h0M194 829h0M186 829h0"/>
<path class="c5" d="M202 831h0M200 831h0M211 828h0"/>
<path class="c1" d="M182 831h0M190 830h0M188 830h0M182 830h0M207 829h0M190 829h0M209 828h0M192 828h0M186 828h0"/>
<path class="c0" d="M176 831h0M188 831h0M184 831h0M184 830h0M196 830h0M178 829h0M211 829h0M180 829h0M182 829h0M198 829h0M202 828h0M182 828h0"/>
<path class="c2" d="M190 828h0M200 827h0M198 827h0M213 826h0M182 826h0M202 826h0M215 825h0M211 825h0M207 825h0M188 825h0M184 825h0"/>
<path class="c4" d="M217 827h0M219 826h0M196 826h0M217 825h0"/>
<path class="c3" d="M207 827h0M205 827h0M188 827h0M202 827h0M186 826h0M184 826h0M209 826h0M194 826h0M205 825h0M202 825h0"/>
<path class="c0" d="M198 828h0M182 827h0"/>
<path class="c1" d="M196 828h0M215 827h0M211 827h0M186 827h0M192 827h0M196 827h0M190 826h0M200 826h0M213 825h0M182 825h0M190 825h0"/>
<path class="c5" d="M217 826h0M207 826h0"/>
<path class="c3" d="M198 825h0M209 824h0M200 824h0M196 824h0M209 823h0M207 823h0M194 823h0M186 822h0M215 822h0"/>
<path class="c0" d="M186 823h0M182 823h0M202 823h0M182 822h0M217 822h0"/>
<path class="c5" d="M213 824h0M219 824h0M217 824h0M198 823h0M221 822h0"/>
<path class="c1" d="M192 825h0M200 825h0M196 825h0M182 824h0M184 824h0M192 824h0M186 824h0M188 824h0M198 824h0M192 823h0"/>
<path class="c2" d="M205 824h0M221 823h0M211 823h0M219 823h0M188 823h0M184 822h0M209 822h0"/>
<path class="c6" d="M225 822h0"/>
<path class="c4" d="M215 823h0M219 822h0M213 822h0"/>
<path class="c3" d="M202 822h0M219 821h0M215 821h0M207 821h0M196 821h0M221 820h0M192 820h0M207 820h0"/>
<path class="c0" d="M184 821h0M200 821h0M217 820h0M200 820h0M196 820h0M186 819h0M223 819h0"/>
<path class="c4" d="M192 822h0M213 821h0"/>
<path class="c2" d="M190 822h0M221 821h0M188 821h0M209 821h0M190 821h0M192 821h0M202 821h0M213 820h0"/>
<path class="c1" d="M207 822h0M200 822h0M196 822h0M198 821h0M184 820h0M182 820h0M188 820h0M209 820h0M202 820h0"/>
<path class="c5" d="M205 822h0M217 821h0M227 820h0M237 819h0M243 819h0"/>
<path class="c6" d="M223 821h0"/>
<path class="c4" d="M217 819h0M198 819h0M231 817h0M221 817h0M213 817h0"/>
<path class="c6" d="M229 818h0M245 817h0"/>
<path class="c5" d="M219 819h0M239 818h0M221 818h0M219 818h0"/>
<path class="c0" d="M196 819h0M184 818h0M215 818h0M200 818h0M196 818h0M188 817h0M194 817h0"/>
<path class="c2" d="M221 819h0M202 819h0M211 818h0"/>
<path class="c3" d="M194 819h0M209 819h0M215 819h0M205 819h0M217 818h0M207 818h0M223 817h0M227 817h0"/>
<path class="c1" d="M182 819h0M190 819h0M211 819h0M188 819h0M186 818h0M223 818h0M194 818h0M190 818h0M205 818h0M182 817h0M190 817h0"/>
<path class="c0" d="M192 816h0M186 816h0M188 816h0M190 815h0M194 815h0"/>
<path class="c5" d="M219 817h0M237 817h0M235 815h0M237 815h0M229 815h0"/>
<path class="c3" d="M205 817h0M237 816h0M229 816h0M227 815h0"/>
<path class="c6" d="M225 816h0M239 816h0M247 815h0M245 815h0M241 815h0M243 815h0"/>
<path class="c1" d="M202 817h0M209 817h0M196 817h0M198 817h0M207 817h0M223 816h0M215 816h0M198 816h0M196 816h0"/>
<path class="c2" d="M211 816h0M190 816h0M202 816h0M223 815h0M196 815h0M205 815h0M207 815h0"/>
<path class="c4" d="M217 817h0M219 816h0M209 816h0M205 816h0"/>
<path class="c4" d="M217 814h0M233 813h0"/>
<path class="c2" d="M200 815h0M209 815h0M198 815h0M217 815h0M229 813h0M213 813h0M200 813h0M198 813h0"/>
<path class="c3" d="M227 814h0M196 814h0M198 814h0M221 814h0M207 814h0M209 814h0M215 814h0M251 813h0M227 813h0"/>
<path class="c0" d="M221 815h0M186 814h0M184 814h0M194 813h0M205 813h0"/>
<path class="c5" d="M213 815h0M243 814h0M245 813h0M237 813h0M239 813h0M241 813h0"/>
<path class="c6" d="M229 814h0M239 814h0M243 813h0"/>
<path class="c1" d="M194 814h0M223 814h0M202 814h0M190 814h0M211 814h0M200 814h0M192 813h0"/>
<path class="c2" d="M221 813h0M221 812h0M217 812h0M225 811h0M207 811h0"/>
<path class="c6" d="M211 813h0M243 812h0M241 812h0M249 811h0"/>
<path class="c1" d="M196 812h0M205 811h0M196 811h0M198 811h0M219 811h0"/>
<path class="c0" d="M207 813h0M200 812h0M192 811h0M211 811h0M221 811h0M200 811h0"/>
<path class="c4" d="M225 813h0M217 813h0M223 812h0M227 812h0M229 812h0M207 812h0M205 812h0M237 811h0M209 811h0"/>
<path class="c5" d="M211 812h0M237 812h0M243 811h0M231 811h0M247 811h0M229 811h0M241 811h0M257 811h0M229 810h0"/>
<path class="c3" d="M215 812h0M215 811h0"/>
<path class="c1" d="M211 810h0M205 810h0M239 810h0M209 809h0"/>
<path class="c4" d="M233 810h0M213 809h0M217 809h0"/>
<path class="c6" d="M249 810h0M241 810h0M217 810h0M247 809h0M233 808h0"/>
<path class="c3" d="M237 810h0M194 810h0M207 810h0M225 809h0M237 809h0M225 808h0"/>
<path class="c0" d="M225 810h0M196 810h0M213 810h0M198 810h0M200 810h0M194 809h0M219 809h0M198 809h0M221 809h0"/>
<path class="c5" d="M251 810h0M245 810h0M223 810h0M245 809h0M231 809h0M235 809h0M243 809h0M229 809h0"/>
<path class="c2" d="M219 810h0M239 809h0M205 809h0M202 809h0M196 809h0"/>
<path class="c6" d="M249 807h0"/>
<path class="c5" d="M231 808h0M237 808h0M243 807h0M241 807h0"/>
<path class="c0" d="M194 808h0M200 808h0M196 807h0M192 806h0M235 806h0"/>
<path class="c3" d="M217 808h0M202 808h0M207 808h0M221 808h0M219 808h0M237 807h0"/>
<path class="c1" d="M241 808h0M196 808h0M223 808h0M200 807h0M205 807h0M217 807h0"/>
<path class="c4" d="M229 808h0M245 807h0M233 807h0M225 807h0M239 807h0M209 807h0M233 806h0"/>
<path class="c2" d="M247 808h0M209 808h0M213 808h0M198 808h0M243 808h0M229 807h0M213 807h0M211 807h0M221 807h0M219 807h0M183 806h0"/>
<path class="c1" d="M205 806h0M200 806h0M200 805h0M211 805h0M239 805h0M213 805h0"/>
<path class="c0" d="M207 806h0M196 806h0M221 806h0M198 806h0M196 805h0M217 805h0M198 805h0M249 804h0"/>
<path class="c3" d="M225 806h0M247 806h0M229 806h0M237 806h0M213 806h0M241 805h0M233 805h0M207 805h0M231 805h0M219 805h0M205 805h0M237 805h0"/>
<path class="c4" d="M245 806h0M219 806h0M243 805h0"/>
<path class="c5" d="M239 806h0M243 806h0M247 805h0M225 805h0M221 805h0"/>
<path class="c2" d="M223 806h0M211 806h0M217 806h0M227 805h0"/>
<path class="c6" d="M249 806h0M249 805h0"/>
<path class="c6" d="M253 804h0M247 803h0"/>
<path class="c5" d="M247 804h0M259 804h0M241 804h0M249 803h0M265 803h0"/>
<path class="c0" d="M202 804h0M198 804h0M196 803h0M198 803h0M200 803h0M202 803h0M205 803h0"/>
<path class="c4" d="M229 804h0M233 804h0M255 804h0M219 804h0M237 804h0M233 803h0M237 803h0M229 803h0"/>
<path class="c2" d="M205 804h0M239 804h0M213 804h0M217 803h0M227 803h0M207 803h0"/>
<path class="c3" d="M245 804h0M231 804h0M221 804h0M225 804h0M219 803h0M257 803h0"/>
<path class="c1" d="M196 804h0M207 804h0M217 804h0M211 804h0M213 803h0M243 803h0"/>
<path class="c6" d="M253 802h0M241 802h0M261 801h0M257 801h0"/>
<path class="c5" d="M233 802h0M249 802h0M227 802h0M235 801h0M253 801h0"/>
<path class="c4" d="M223 803h0M257 802h0M237 802h0M225 802h0M245 801h0"/>
<path class="c3" d="M231 802h0M221 802h0M205 801h0M223 801h0"/>
<path class="c1" d="M239 803h0M245 802h0M205 802h0M239 802h0M209 802h0M223 802h0M202 802h0M213 802h0M198 801h0M200 801h0"/>
<path class="c2" d="M211 803h0M217 802h0M219 802h0M213 801h0M231 801h0M211 801h0"/>
<path class="c0" d="M198 802h0M194 802h0M200 802h0M196 801h0M227 801h0M217 801h0"/>
<path class="c6" d="M239 801h0M279 799h0M263 799h0"/>
<path class="c2" d="M219 801h0M207 800h0M239 800h0M237 800h0M219 800h0"/>
<path class="c3" d="M243 801h0M249 801h0M237 801h0M231 800h0M227 800h0M251 799h0M243 799h0"/>
<path class="c5" d="M249 800h0M233 800h0M251 800h0M245 800h0M253 799h0M247 799h0"/>
<path class="c4" d="M255 800h0M243 800h0M257 799h0M231 799h0"/>
<path class="c0" d="M221 801h0M213 800h0M225 800h0M198 800h0M200 800h0M202 800h0M217 800h0M198 799h0M202 799h0"/>
<path class="c1" d="M209 801h0M221 800h0M211 800h0M233 799h0M215 799h0M207 799h0"/>
<path class="c2" d="M233 798h0M225 798h0"/>
<path class="c3" d="M239 799h0M225 799h0M239 798h0M185 798h0M235 797h0M211 797h0"/>
<path class="c4" d="M219 799h0M237 799h0M229 798h0M243 798h0M247 798h0M257 798h0M231 798h0M241 798h0M223 798h0M241 797h0"/>
<path class="c6" d="M255 798h0M251 798h0M255 797h0M251 797h0M245 797h0"/>
<path class="c5" d="M237 798h0M253 797h0M247 797h0"/>
<path class="c1" d="M205 798h0M209 798h0M217 798h0M229 797h0"/>
<path class="c0" d="M223 799h0M229 799h0M211 799h0M217 799h0M200 798h0M219 798h0M213 798h0M200 797h0M237 797h0M202 797h0"/>
<path class="c1" d="M200 796h0M233 796h0M243 796h0M207 796h0M221 796h0M213 796h0M237 796h0M211 796h0M200 795h0"/>
<path class="c4" d="M215 797h0M255 796h0M259 796h0M225 796h0M241 796h0M249 795h0M229 795h0"/>
<path class="c3" d="M231 797h0M219 797h0M209 796h0M217 796h0M235 795h0M215 795h0"/>
<path class="c2" d="M225 797h0M221 797h0M217 797h0M202 796h0M227 796h0M249 796h0M231 796h0"/>
<path class="c0" d="M239 797h0M207 797h0M213 797h0M205 796h0M225 795h0M209 795h0"/>
<path class="c6" d="M277 795h0"/>
<path class="c5" d="M253 796h0M247 796h0M251 795h0M255 795h0"/>
<path class="c5" d="M259 795h0M239 795h0M253 794h0"/>
<path class="c4" d="M247 795h0M233 794h0M267 794h0"/>
<path class="c1" d="M213 795h0M211 795h0M205 795h0M221 795h0M202 795h0M217 794h0M237 794h0M239 794h0M261 793h0"/>
<path class="c3" d="M245 795h0M241 795h0M231 795h0M219 795h0M259 794h0M245 794h0M227 794h0M243 794h0M221 794h0M227 793h0"/>
<path class="c6" d="M281 794h0M249 794h0M257 793h0"/>
<path class="c0" d="M213 794h0M205 793h0M200 793h0M213 793h0"/>
<path class="c2" d="M223 795h0M237 795h0M251 794h0M205 794h0M209 794h0M231 794h0M225 794h0M219 794h0"/>
<path class="c1" d="M247 793h0M209 793h0M223 793h0M237 793h0M231 792h0M213 792h0M239 792h0M223 792h0"/>
<path class="c0" d="M225 793h0M217 793h0M207 793h0M205 792h0M207 792h0M229 792h0M221 792h0"/>
<path class="c5" d="M317 792h0M243 792h0"/>
<path class="c4" d="M253 793h0M239 793h0M275 792h0M255 792h0"/>
<path class="c3" d="M243 793h0M257 792h0M225 792h0M247 792h0M219 792h0M245 792h0M235 792h0M237 792h0"/>
<path class="c6" d="M251 793h0M267 792h0M259 792h0M285 792h0M277 792h0M279 792h0"/>
<path class="c2" d="M231 793h0M235 793h0M219 793h0M209 792h0M215 792h0"/>
<path class="c5" d="M213 791h0M271 791h0M277 791h0M279 790h0"/>
<path class="c3" d="M231 791h0M235 791h0M243 791h0M249 791h0M245 791h0M255 790h0"/>
<path class="c1" d="M251 792h0M209 791h0M225 791h0M239 791h0M209 790h0M233 790h0M237 790h0"/>
<path class="c0" d="M200 791h0M205 791h0M221 791h0M217 791h0M213 790h0M211 790h0M219 790h0"/>
<path class="c2" d="M255 791h0M227 791h0M211 791h0M277 790h0M251 790h0"/>
<path class="c4" d="M257 791h0M251 791h0M237 791h0M259 790h0M217 790h0M221 790h0M253 790h0M225 790h0M243 790h0"/>
<path class="c6" d="M265 791h0M239 790h0"/>
<path class="c2" d="M241 790h0M229 789h0M243 789h0"/>
<path class="c4" d="M231 789h0M249 789h0M267 789h0M317 788h0M285 788h0"/>
<path class="c3" d="M247 790h0M229 790h0M233 789h0M225 789h0M241 789h0M253 788h0M233 788h0M227 788h0"/>
<path class="c5" d="M281 789h0M261 789h0M251 789h0M259 789h0M265 788h0M279 788h0M277 788h0"/>
<path class="c0" d="M207 789h0M211 789h0M245 789h0M221 789h0M215 789h0M219 789h0M239 789h0M209 788h0M251 788h0"/>
<path class="c1" d="M277 789h0M255 789h0M253 789h0M209 789h0M237 789h0M213 788h0M223 788h0"/>
<path class="c6" d="M279 789h0"/>
<path class="c2" d="M221 788h0M247 788h0M241 788h0M237 787h0"/>
<path class="c3" d="M237 788h0M245 788h0M239 788h0M233 787h0M243 787h0M247 787h0M233 786h0M231 786h0M223 786h0"/>
<path class="c4" d="M257 788h0M261 788h0M265 787h0M257 787h0M253 787h0M241 787h0M223 787h0"/>
<path class="c6" d="M273 787h0M281 787h0M279 787h0M289 786h0"/>
<path class="c0" d="M277 787h0M215 787h0"/>
<path class="c5" d="M261 787h0"/>
<path class="c1" d="M231 788h0M217 788h0M200 787h0M251 787h0M227 787h0M225 787h0M219 787h0M213 787h0M221 787h0M277 786h0M211 786h0M227 786h0M279 786h0"/>
<path class="c3" d="M241 786h0M253 786h0M237 786h0M259 785h0M251 785h0M233 785h0M263 785h0M249 785h0M255 785h0"/>
<path class="c6" d="M251 786h0M285 785h0M279 785h0"/>
<path class="c0" d="M217 786h0M235 785h0M225 785h0M219 785h0M239 785h0"/>
<path class="c5" d="M257 786h0M283 786h0M287 785h0M277 785h0M231 784h0"/>
<path class="c2" d="M229 786h0M221 786h0M219 786h0M255 786h0M241 785h0"/>
<path class="c1" d="M261 786h0M211 785h0M215 785h0M269 785h0M217 785h0M223 785h0M233 784h0"/>
<path class="c4" d="M247 786h0M245 786h0M265 785h0M245 785h0M229 785h0M237 785h0"/>
<path class="c2" d="M263 784h0M247 784h0M243 784h0M237 784h0"/>
<path class="c6" d="M281 784h0M277 784h0M271 783h0"/>
<path class="c5" d="M269 784h0M257 784h0M261 784h0M317 784h0M279 783h0M283 783h0M277 783h0"/>
<path class="c4" d="M227 784h0M255 784h0M285 783h0M269 783h0M263 783h0M261 783h0"/>
<path class="c1" d="M213 784h0M253 784h0M223 784h0M239 784h0M231 783h0M259 783h0M227 783h0"/>
<path class="c0" d="M198 784h0M211 784h0M217 784h0M221 784h0M213 783h0M215 783h0M235 783h0M223 783h0"/>
<path class="c3" d="M229 784h0M225 784h0M249 784h0M225 783h0M255 783h0"/>
<path class="c0" d="M251 783h0M219 783h0M217 783h0M245 782h0M223 782h0M239 782h0M213 781h0M221 781h0M217 781h0"/>
<path class="c4" d="M241 783h0M251 782h0M265 782h0M247 782h0M265 781h0"/>
<path class="c6" d="M293 782h0M283 782h0M277 782h0M279 782h0M299 781h0M293 781h0"/>
<path class="c1" d="M245 783h0M213 782h0M215 782h0M263 782h0M225 782h0M235 782h0M219 782h0M223 781h0M263 781h0"/>
<path class="c2" d="M237 783h0M227 782h0M229 781h0M233 781h0"/>
<path class="c3" d="M239 783h0M241 782h0M255 782h0M259 781h0"/>
<path class="c5" d="M247 783h0M259 782h0M279 781h0"/>
<path class="c2" d="M239 781h0M227 781h0M249 780h0M227 780h0M227 779h0"/>
<path class="c5" d="M277 781h0M259 779h0"/>
<path class="c3" d="M245 781h0M237 781h0M247 781h0M261 780h0M251 780h0M285 780h0M277 780h0M233 780h0M229 780h0M233 779h0"/>
<path class="c6" d="M281 780h0M293 779h0M271 779h0"/>
<path class="c1" d="M219 781h0M251 781h0M217 780h0M239 780h0M223 780h0M219 780h0M265 779h0M215 779h0"/>
<path class="c4" d="M283 781h0M255 781h0M241 781h0M263 780h0M255 780h0M247 780h0M243 780h0M257 780h0"/>
<path class="c0" d="M235 780h0M231 780h0M269 779h0M223 779h0"/>
<path class="c6" d="M277 778h0"/>
<path class="c0" d="M231 779h0M229 779h0M253 779h0M249 779h0M245 779h0M237 779h0M211 778h0M231 778h0M225 778h0M219 778h0M239 778h0"/>
<path class="c3" d="M251 779h0M243 779h0M253 778h0"/>
<path class="c5" d="M281 779h0M287 779h0M317 779h0M287 778h0M261 778h0M283 778h0"/>
<path class="c1" d="M217 779h0M221 779h0M245 778h0M221 778h0M249 778h0M241 778h0M229 778h0M247 778h0"/>
<path class="c2" d="M261 779h0M279 779h0M219 779h0M217 778h0"/>
<path class="c4" d="M255 779h0M277 779h0M239 779h0M265 778h0M233 778h0M255 778h0M259 778h0"/>
<path class="c0" d="M237 778h0M283 777h0M229 777h0M219 777h0M221 777h0M219 776h0M223 776h0"/>
<path class="c6" d="M281 778h0M307 777h0M289 777h0M287 776h0M333 776h0M281 776h0"/>
<path class="c3" d="M271 777h0M279 777h0M227 777h0M237 777h0"/>
<path class="c2" d="M251 777h0M245 777h0M255 777h0M225 777h0M241 777h0M233 776h0M259 776h0"/>
<path class="c5" d="M281 777h0"/>
<path class="c4" d="M287 777h0M261 777h0M259 777h0M277 777h0M291 777h0M257 777h0M249 777h0"/>
<path class="c1" d="M213 777h0M317 777h0M265 777h0M217 777h0M233 777h0M247 777h0M239 777h0M229 776h0"/>
<path class="c4" d="M237 776h0M277 776h0M253 776h0M271 775h0M295 775h0"/>
<path class="c0" d="M231 776h0M251 776h0M249 776h0M227 775h0M223 775h0M219 775h0M235 775h0"/>
<path class="c3" d="M263 776h0M265 776h0M245 776h0M257 776h0M233 775h0M249 775h0M251 775h0M239 775h0M241 775h0"/>
<path class="c6" d="M337 775h0M285 775h0M269 775h0"/>
<path class="c1" d="M225 776h0M217 776h0M239 776h0M263 775h0M229 775h0M215 775h0M279 775h0"/>
<path class="c5" d="M279 776h0M285 776h0M287 775h0M281 775h0M277 775h0"/>
<path class="c2" d="M243 776h0M245 775h0M257 775h0M255 775h0"/>
<path class="c5" d="M297 774h0M317 773h0M295 773h0"/>
<path class="c2" d="M239 774h0M253 773h0"/>
<path class="c3" d="M265 774h0M267 774h0M283 774h0M251 774h0M277 774h0M241 774h0M237 774h0M255 774h0"/>
<path class="c1" d="M229 774h0M225 774h0M245 774h0M261 774h0M235 773h0M229 773h0M265 773h0M231 773h0M221 773h0"/>
<path class="c4" d="M321 774h0M279 774h0M281 774h0M319 773h0M263 773h0"/>
<path class="c0" d="M235 774h0M223 774h0M259 774h0M247 774h0M225 773h0M223 773h0M219 773h0"/>
<path class="c6" d="M271 774h0M301 774h0M305 774h0M287 774h0M289 774h0M317 774h0"/>
<path class="c6" d="M297 773h0M279 773h0M277 773h0M293 772h0M291 772h0M267 772h0M285 772h0M271 772h0M281 772h0"/>
<path class="c2" d="M194 772h0M221 772h0M249 772h0"/>
<path class="c3" d="M255 773h0M247 773h0M261 772h0M279 772h0M253 772h0M243 772h0M317 771h0"/>
<path class="c4" d="M249 773h0M243 773h0M245 772h0M241 772h0M281 771h0"/>
<path class="c0" d="M239 773h0M237 773h0"/>
<path class="c5" d="M287 773h0M283 773h0M263 772h0M277 772h0M255 772h0M337 771h0"/>
<path class="c1" d="M259 773h0M229 772h0M217 772h0M259 772h0M223 772h0M231 772h0M237 772h0M239 772h0"/>
<path class="c5" d="M287 771h0M297 771h0M289 770h0"/>
<path class="c6" d="M285 771h0M339 771h0M263 770h0"/>
<path class="c1" d="M237 771h0M225 771h0M229 770h0M237 770h0"/>
<path class="c2" d="M251 771h0M253 771h0M249 770h0"/>
<path class="c4" d="M261 771h0M271 771h0M279 771h0M277 771h0M255 771h0M285 770h0M291 770h0M293 770h0M277 770h0M241 770h0"/>
<path class="c0" d="M247 771h0M221 771h0M217 770h0M231 770h0M245 770h0M223 770h0"/>
<path class="c3" d="M231 771h0M265 771h0M229 771h0M259 771h0M245 771h0M241 771h0M227 770h0M281 770h0M251 770h0M261 770h0M247 770h0"/>
<path class="c5" d="M255 770h0M283 770h0M285 769h0M285 768h0"/>
<path class="c6" d="M291 769h0M297 769h0M281 768h0"/>
<path class="c0" d="M237 769h0M319 769h0M217 768h0M249 768h0"/>
<path class="c4" d="M259 770h0M271 769h0M283 769h0M253 769h0M279 769h0M277 769h0M239 769h0M267 768h0"/>
<path class="c1" d="M221 769h0M225 769h0M249 769h0M243 769h0M247 769h0"/>
<path class="c3" d="M231 769h0M323 769h0M259 769h0M281 769h0M257 768h0M279 768h0M245 768h0M261 768h0M277 768h0M253 768h0M239 768h0"/>
<path class="c2" d="M261 769h0M265 769h0M255 769h0M263 768h0M241 768h0"/>
<path class="c4" d="M267 767h0M243 767h0M317 767h0M259 767h0M279 767h0M271 766h0M265 766h0"/>
<path class="c1" d="M237 768h0M231 767h0M297 767h0M251 767h0M255 767h0M229 766h0M257 766h0"/>
<path class="c5" d="M291 768h0M291 767h0M267 766h0M285 766h0"/>
<path class="c6" d="M281 767h0M293 767h0M285 767h0M291 766h0"/>
<path class="c2" d="M323 767h0M225 767h0M241 767h0M229 767h0M245 767h0M253 767h0"/>
<path class="c0" d="M221 768h0M235 767h0M237 767h0M231 766h0M221 766h0M198 766h0M223 766h0"/>
<path class="c3" d="M273 767h0M265 767h0M261 767h0M249 767h0M277 767h0"/>
<path class="c4" d="M259 766h0M283 766h0M261 766h0M273 766h0M253 766h0M277 766h0M339 765h0M265 765h0"/>
<path class="c0" d="M239 766h0M247 766h0M243 766h0M237 766h0M245 766h0M267 765h0M237 765h0M225 765h0M261 765h0M247 765h0"/>
<path class="c5" d="M297 766h0M289 766h0M277 765h0"/>
<path class="c2" d="M281 766h0M317 765h0M283 765h0"/>
<path class="c1" d="M319 765h0M219 765h0M287 765h0M243 765h0M253 765h0"/>
<path class="c6" d="M329 766h0M295 765h0M299 765h0M365 765h0"/>
<path class="c3" d="M317 766h0M263 766h0M235 766h0M251 766h0M257 765h0M239 765h0M281 765h0"/>
<path class="c4" d="M257 764h0M251 764h0M245 764h0M287 764h0M261 763h0"/>
<path class="c0" d="M212 764h0M223 764h0M231 764h0M243 764h0M255 764h0M231 763h0M221 763h0"/>
<path class="c2" d="M249 765h0M233 764h0M265 764h0M259 764h0M247 764h0M239 764h0"/>
<path class="c5" d="M271 764h0M283 764h0M295 764h0M279 764h0M303 764h0"/>
<path class="c1" d="M227 764h0M269 764h0M277 764h0M225 764h0M237 764h0M265 763h0M225 763h0"/>
<path class="c6" d="M317 764h0M339 764h0M291 764h0M281 764h0M339 763h0M307 763h0M305 763h0M289 763h0"/>
<path class="c3" d="M273 764h0M263 764h0"/>
<path class="c1" d="M317 763h0M281 763h0M259 763h0M255 763h0M253 763h0M241 763h0M249 763h0M223 762h0M233 762h0"/>
<path class="c3" d="M277 763h0M279 763h0M265 762h0M261 762h0M291 762h0M237 762h0M241 762h0"/>
<path class="c6" d="M319 762h0M339 762h0"/>
<path class="c0" d="M237 763h0M229 763h0M221 762h0"/>
<path class="c5" d="M295 763h0M299 763h0M297 763h0M289 762h0M285 762h0M299 762h0M281 762h0"/>
<path class="c4" d="M245 763h0M285 763h0M267 762h0M255 762h0M251 762h0"/>
<path class="c2" d="M269 763h0M243 763h0M229 762h0M231 762h0M275 762h0M247 762h0M257 762h0"/>
<path class="c4" d="M277 762h0M279 762h0M283 761h0M317 761h0M261 761h0M339 760h0"/>
<path class="c0" d="M243 761h0M247 761h0M235 760h0M253 760h0"/>
<path class="c2" d="M243 762h0M271 761h0M241 761h0M249 761h0M317 760h0M289 760h0M259 760h0"/>
<path class="c3" d="M263 762h0M265 761h0M287 761h0M259 761h0M253 761h0M281 761h0M263 760h0M271 760h0"/>
<path class="c1" d="M235 761h0M227 761h0M229 761h0M255 761h0M251 761h0M237 761h0M295 760h0"/>
<path class="c5" d="M319 761h0M291 761h0M273 761h0M277 761h0M279 761h0M291 760h0M267 760h0M287 760h0"/>
<path class="c3" d="M251 760h0M297 759h0M247 759h0M279 759h0M261 759h0"/>
<path class="c6" d="M285 760h0M337 759h0M319 759h0"/>
<path class="c4" d="M277 760h0M253 759h0M263 759h0M293 759h0M245 759h0M277 759h0M255 759h0"/>
<path class="c5" d="M281 760h0M301 759h0M307 759h0M285 759h0M289 759h0M283 759h0M281 759h0M307 758h0"/>
<path class="c0" d="M245 760h0M257 760h0M237 760h0M239 760h0M249 759h0M265 759h0M231 759h0"/>
<path class="c2" d="M249 760h0M339 759h0M241 759h0"/>
<path class="c1" d="M231 760h0M243 760h0M233 759h0M269 759h0M257 759h0M239 759h0M237 759h0"/>
<path class="c6" d="M289 758h0M307 757h0M297 757h0M271 757h0"/>
<path class="c0" d="M231 758h0M237 758h0M245 758h0M241 758h0M239 758h0M225 757h0M255 757h0M237 757h0"/>
<path class="c1" d="M229 758h0M279 758h0M247 758h0"/>
<path class="c3" d="M267 758h0M265 757h0M261 757h0M241 757h0M249 757h0"/>
<path class="c5" d="M287 758h0M317 758h0M257 758h0M277 758h0M289 757h0M293 757h0"/>
<path class="c4" d="M269 758h0M303 758h0M263 758h0M293 758h0M259 758h0M283 758h0M317 757h0M251 757h0M301 757h0"/>
<path class="c2" d="M255 758h0M251 758h0M202 757h0M267 757h0M245 757h0"/>
<path class="c4" d="M297 756h0M295 756h0M267 756h0M283 756h0M277 756h0M329 755h0"/>
<path class="c0" d="M277 757h0M229 756h0M317 756h0M237 756h0M241 756h0M249 756h0M231 755h0"/>
<path class="c2" d="M319 757h0M235 757h0M283 757h0M279 757h0M271 756h0M261 756h0M285 756h0M275 756h0M219 755h0M263 755h0"/>
<path class="c5" d="M257 757h0M259 757h0M301 755h0"/>
<path class="c3" d="M321 756h0M265 756h0M289 756h0M239 756h0M245 756h0"/>
<path class="c6" d="M299 757h0M287 757h0M299 756h0M291 756h0"/>
<path class="c1" d="M233 756h0M255 756h0M253 756h0M279 756h0M259 756h0"/>
<path class="c4" d="M271 755h0M259 755h0M277 755h0M295 755h0M345 754h0M303 754h0M289 754h0M269 754h0"/>
<path class="c1" d="M243 755h0M241 755h0M279 755h0M257 755h0M239 755h0M243 754h0M239 754h0"/>
<path class="c2" d="M291 755h0M269 755h0M253 755h0M261 754h0M241 754h0"/>
<path class="c3" d="M267 755h0M247 755h0M299 754h0M317 754h0M297 754h0M267 754h0M247 754h0M255 754h0"/>
<path class="c5" d="M299 755h0M281 755h0M285 755h0M321 754h0"/>
<path class="c6" d="M317 755h0M313 755h0"/>
<path class="c0" d="M251 755h0M287 755h0M237 755h0M233 754h0M235 754h0M229 754h0"/>
<path class="c5" d="M277 754h0M305 753h0M269 753h0M337 753h0M299 753h0M295 753h0M277 753h0M287 752h0"/>
<path class="c0" d="M273 754h0M235 753h0M253 753h0M247 753h0"/>
<path class="c6" d="M327 753h0"/>
<path class="c1" d="M293 754h0M259 753h0M241 753h0M287 753h0M249 753h0M255 753h0"/>
<path class="c2" d="M249 754h0M253 754h0M237 754h0M251 754h0M237 753h0M267 753h0"/>
<path class="c4" d="M259 754h0M279 754h0M283 753h0M245 753h0M291 753h0M319 752h0"/>
<path class="c3" d="M283 754h0M285 754h0M265 754h0M263 753h0M317 753h0M273 753h0M281 753h0M293 753h0M319 753h0"/>
<path class="c0" d="M259 752h0M283 752h0M265 752h0M239 752h0M237 752h0M267 751h0"/>
<path class="c5" d="M293 752h0M337 752h0M317 752h0M277 752h0M321 751h0M337 751h0M297 751h0M299 751h0M305 751h0"/>
<path class="c4" d="M303 751h0M263 751h0M311 751h0"/>
<path class="c2" d="M243 752h0"/>
<path class="c6" d="M299 752h0M291 752h0M359 752h0M309 752h0M339 751h0"/>
<path class="c3" d="M269 752h0M281 752h0M273 751h0M287 751h0M257 751h0M249 751h0M293 751h0"/>
<path class="c1" d="M273 752h0M257 752h0M253 752h0M247 752h0M251 752h0M263 752h0M279 752h0M253 751h0M255 751h0"/>
<path class="c0" d="M241 751h0M245 751h0M291 750h0M253 750h0M239 750h0M317 750h0M203 750h0M241 750h0M243 750h0"/>
<path class="c4" d="M283 751h0M337 750h0M295 750h0M247 750h0M281 750h0M277 750h0M337 749h0"/>
<path class="c2" d="M289 751h0M271 751h0M339 750h0M275 750h0M329 750h0M245 750h0"/>
<path class="c3" d="M247 751h0M269 751h0M261 751h0M305 750h0M255 750h0M259 750h0M267 750h0M279 750h0M289 750h0"/>
<path class="c1" d="M237 751h0M279 751h0M251 750h0M261 750h0M263 749h0"/>
<path class="c5" d="M277 751h0M299 750h0M265 750h0M285 750h0"/>
<path class="c1" d="M257 749h0M259 749h0M243 749h0M255 748h0M243 748h0"/>
<path class="c5" d="M297 749h0M269 749h0M319 749h0M307 748h0M297 748h0M341 748h0"/>
<path class="c6" d="M317 749h0M325 748h0"/>
<path class="c0" d="M273 749h0M245 749h0M253 749h0M251 749h0M241 749h0M301 748h0M237 748h0M251 748h0"/>
<path class="c2" d="M239 749h0M281 749h0M261 748h0M291 748h0M275 748h0"/>
<path class="c4" d="M285 749h0M337 748h0M259 748h0"/>
<path class="c3" d="M271 749h0M249 749h0M291 749h0M341 749h0M295 749h0M289 749h0M265 749h0M277 749h0M263 748h0M269 748h0M299 748h0"/>
<path class="c2" d="M285 748h0M257 747h0M241 747h0M267 747h0M261 747h0"/>
<path class="c0" d="M249 748h0M195 748h0M247 747h0M253 747h0M249 747h0M243 747h0"/>
<path class="c5" d="M293 748h0M317 748h0M281 748h0M295 747h0M339 747h0M323 747h0M319 747h0M317 747h0M297 747h0M277 747h0M291 747h0"/>
<path class="c3" d="M267 748h0M247 748h0M257 748h0M269 747h0M287 747h0M279 747h0"/>
<path class="c4" d="M339 748h0M277 748h0M299 747h0M281 747h0M285 747h0"/>
<path class="c6" d="M357 747h0M301 747h0M305 747h0"/>
<path class="c1" d="M287 748h0M239 748h0M255 747h0M237 747h0"/>
<path class="c4" d="M319 746h0M297 746h0M279 746h0M339 745h0M299 745h0M261 745h0M283 745h0"/>
<path class="c5" d="M269 746h0M287 746h0M321 745h0"/>
<path class="c2" d="M291 746h0M299 746h0M317 746h0M275 745h0M231 745h0M245 745h0"/>
<path class="c3" d="M259 746h0M263 746h0M301 746h0M247 746h0M249 746h0M285 746h0M267 746h0M309 745h0M271 745h0"/>
<path class="c6" d="M317 745h0"/>
<path class="c0" d="M283 746h0M239 746h0M277 746h0M341 745h0M223 745h0"/>
<path class="c1" d="M237 746h0M257 746h0M273 746h0M295 746h0M251 746h0M255 746h0M243 746h0M333 745h0M247 745h0"/>
<path class="c1" d="M259 745h0M267 745h0M237 745h0M341 744h0M241 744h0M243 744h0M259 744h0M283 744h0"/>
<path class="c0" d="M255 745h0M241 745h0M243 745h0M251 745h0M265 744h0M233 744h0M237 744h0"/>
<path class="c5" d="M303 745h0M349 744h0M295 744h0M319 744h0M299 744h0"/>
<path class="c4" d="M287 745h0M269 745h0M291 745h0M281 745h0M337 744h0M297 744h0M263 744h0M271 744h0M291 744h0M287 744h0"/>
<path class="c3" d="M257 745h0M275 744h0M247 744h0M289 744h0"/>
<path class="c2" d="M277 745h0M295 745h0M301 744h0M255 744h0M269 744h0"/>
<path class="c6" d="M383 745h0"/>
<path class="c2" d="M247 743h0M279 743h0M299 743h0M273 742h0"/>
<path class="c0" d="M257 744h0M341 743h0M257 743h0M241 743h0M243 743h0M237 743h0M237 742h0"/>
<path class="c5" d="M287 743h0M297 743h0M319 743h0M285 743h0M347 743h0M277 743h0M299 742h0"/>
<path class="c4" d="M277 744h0M337 743h0M255 743h0M309 742h0M297 742h0M263 742h0M269 742h0"/>
<path class="c3" d="M285 744h0M279 744h0M263 743h0M295 743h0M267 743h0M291 743h0"/>
<path class="c6" d="M317 744h0M303 743h0M315 743h0M317 743h0M319 742h0"/>
<path class="c1" d="M251 744h0M281 743h0M261 743h0M251 743h0"/>
<path class="c4" d="M295 742h0M317 742h0M277 742h0M351 742h0M303 741h0M295 741h0"/>
<path class="c5" d="M287 742h0M283 742h0M339 742h0M293 742h0M349 741h0M309 741h0M317 741h0"/>
<path class="c2" d="M239 742h0M255 742h0M267 742h0"/>
<path class="c0" d="M251 742h0M231 742h0M257 742h0M245 741h0"/>
<path class="c6" d="M337 742h0M339 741h0"/>
<path class="c1" d="M247 742h0M253 742h0M241 742h0M243 742h0M241 741h0M267 741h0M263 741h0M297 741h0M253 741h0"/>
<path class="c3" d="M224 742h0M259 742h0M291 742h0M281 742h0M279 742h0M291 741h0M257 741h0M273 741h0M299 741h0"/>
<path class="c5" d="M311 740h0M287 740h0"/>
<path class="c0" d="M239 741h0M249 740h0M239 740h0M243 740h0M277 740h0"/>
<path class="c2" d="M279 741h0M339 740h0M259 740h0M247 740h0M263 740h0M273 739h0"/>
<path class="c6" d="M317 740h0M319 740h0"/>
<path class="c3" d="M289 741h0M319 741h0M323 740h0M295 740h0M269 740h0M303 740h0M301 740h0M257 740h0M285 740h0M281 740h0"/>
<path class="c4" d="M283 741h0M273 740h0M265 740h0M291 740h0M289 740h0M327 740h0M297 740h0"/>
<path class="c1" d="M249 741h0M287 741h0M285 741h0M277 741h0M261 741h0M253 740h0M275 740h0M237 740h0"/>
<path class="c2" d="M351 739h0M255 739h0M263 738h0M303 738h0M283 738h0M297 738h0"/>
<path class="c4" d="M281 739h0M285 739h0M279 739h0M277 739h0M295 738h0M257 738h0M301 738h0M247 738h0"/>
<path class="c0" d="M337 739h0M251 739h0M249 739h0M263 739h0M245 739h0M259 739h0M265 739h0M241 739h0M243 738h0M245 738h0"/>
<path class="c6" d="M400 739h0M321 739h0M379 739h0M317 739h0M317 738h0"/>
<path class="c1" d="M237 739h0M287 739h0M271 738h0"/>
<path class="c3" d="M299 739h0M267 739h0M297 739h0M303 739h0M267 738h0"/>
<path class="c5" d="M305 739h0M293 739h0M289 739h0"/>
<path class="c4" d="M297 737h0M259 737h0M293 737h0M257 737h0M269 737h0M267 736h0M303 736h0"/>
<path class="c0" d="M277 738h0M237 738h0M239 738h0M239 737h0M341 737h0M249 737h0M253 737h0"/>
<path class="c5" d="M285 737h0M317 737h0M319 737h0"/>
<path class="c6" d="M311 737h0M321 737h0"/>
<path class="c1" d="M261 738h0M291 738h0M255 738h0M345 737h0M241 737h0M299 737h0M237 737h0M303 737h0"/>
<path class="c3" d="M251 738h0M281 738h0M289 738h0M287 737h0M245 737h0M277 737h0M283 737h0M279 737h0"/>
<path class="c2" d="M287 738h0M347 738h0M291 737h0M263 737h0M255 737h0"/>
<path class="c4" d="M297 736h0M299 736h0M261 736h0M289 736h0M265 735h0M305 735h0M303 735h0"/>
<path class="c2" d="M245 736h0M283 736h0M277 736h0M281 736h0M279 736h0M299 735h0"/>
<path class="c0" d="M293 736h0M237 736h0M243 736h0M241 736h0M239 736h0M251 736h0M273 735h0"/>
<path class="c3" d="M319 736h0M285 736h0M249 736h0M263 736h0M311 735h0M261 735h0"/>
<path class="c1" d="M255 736h0M257 736h0M265 736h0M341 735h0M237 735h0"/>
<path class="c6" d="M341 736h0M337 736h0M319 735h0"/>
<path class="c5" d="M305 736h0M317 736h0M307 736h0M321 735h0M291 735h0M377 735h0"/>
<path class="c4" d="M281 735h0M339 735h0M267 734h0M305 734h0M287 734h0M303 734h0M281 734h0M321 734h0"/>
<path class="c6" d="M317 735h0M311 734h0M339 734h0M325 734h0"/>
<path class="c2" d="M287 735h0M273 734h0M247 734h0"/>
<path class="c0" d="M263 735h0M257 735h0M243 735h0M241 735h0M249 735h0M269 734h0M241 734h0M259 734h0M237 734h0M253 734h0"/>
<path class="c5" d="M313 734h0M295 734h0M337 734h0"/>
<path class="c1" d="M283 735h0M277 735h0M251 735h0M247 735h0M255 735h0M255 734h0M291 734h0"/>
<path class="c3" d="M295 735h0M265 734h0M285 734h0M271 734h0M261 734h0"/>
<path class="c3" d="M303 733h0M259 733h0M255 733h0"/>
<path class="c5" d="M325 733h0M301 733h0M319 733h0M297 733h0M305 732h0"/>
<path class="c2" d="M277 734h0M279 734h0M299 734h0M249 733h0M279 733h0M273 732h0M249 732h0"/>
<path class="c0" d="M245 734h0M243 733h0M263 733h0M241 733h0M253 733h0M293 733h0M283 733h0M237 732h0M243 732h0M241 732h0M257 732h0"/>
<path class="c6" d="M347 733h0M323 733h0"/>
<path class="c1" d="M289 734h0M343 733h0M257 733h0M247 733h0M239 733h0"/>
<path class="c4" d="M317 734h0M339 733h0M285 733h0M317 733h0M289 733h0M277 733h0M295 732h0"/>
<path class="c2" d="M271 732h0M261 732h0M299 732h0M279 732h0"/>
<path class="c1" d="M287 732h0M319 732h0M253 732h0"/>
<path class="c3" d="M247 732h0M293 732h0M281 732h0"/>
<path class="c0" d="M265 732h0M277 732h0"/>
<path class="c4" d="M317 732h0M289 732h0M345 732h0M285 732h0"/>
<path class="c5" d="M341 732h0"/>
</g>
<g id="axes">
<path d="M136 873v8" stroke="#333" stroke-width="2"/>
<text class="tk" x="136" y="906" text-anchor="middle">0</text>
<path d="M337 873v8" stroke="#333" stroke-width="2"/>
<text class="tk" x="337" y="906" text-anchor="middle">1</text>
<path d="M538 873v8" stroke="#333" stroke-width="2"/>
<text class="tk" x="538" y="906" text-anchor="middle">2</text>
<path d="M739 873v8" stroke="#333" stroke-width="2"/>
<text class="tk" x="739" y="906" text-anchor="middle">3</text>
<path d="M940 873v8" stroke="#333" stroke-width="2"/>
<text class="tk" x="940" y="906" text-anchor="middle">4</text>
<path d="M1141 873v8" stroke="#333" stroke-width="2"/>
<text class="tk" x="1141" y="906" text-anchor="middle">5</text>
<path d="M128 848h-8" stroke="#333" stroke-width="2"/>
<text class="tk" x="114" y="858" text-anchor="end">0</text>
<path d="M128 637h-8" stroke="#333" stroke-width="2"/>
<text class="tk" x="114" y="647" text-anchor="end">5000</text>
<path d="M128 426h-8" stroke="#333" stroke-width="2"/>
<text class="tk" x="114" y="436" text-anchor="end">10000</text>
<path d="M128 215h-8" stroke="#333" stroke-width="2"/>
<text class="tk" x="114" y="225" text-anchor="end">15000</text>
<text class="tj" x="606" y="941"><tspan textLength="79" lengthAdjust="spacingAndGlyphs">カラット</tspan><tspan x="686.5">数</tspan></text>
<text class="tj" style="font-size:29px" transform="translate(36,444) rotate(-90)" text-anchor="middle">価格</text>
</g>
<g id="legend">
<rect x="1236" y="304" width="46" height="322" fill="#f2f2f2"/>
<text class="ti" x="1236" y="287">color</text>
<circle cx="1259" cy="327" r="5.0" fill="#440154"/>
<text class="lb" x="1297" y="337">D</text>
<circle cx="1259" cy="373" r="5.0" fill="#443A83"/>
<text class="lb" x="1297" y="383">E</text>
<circle cx="1259" cy="419" r="5.0" fill="#31688E"/>
<text class="lb" x="1297" y="429">F</text>
<circle cx="1259" cy="465" r="5.0" fill="#21908C"/>
<text class="lb" x="1297" y="475">G</text>
<circle cx="1259" cy="511" r="5.0" fill="#35B779"/>
<text class="lb" x="1297" y="521">H</text>
<circle cx="1259" cy="557" r="5.0" fill="#8FD744"/>
<text class="lb" x="1297" y="567">I</text>
<circle cx="1259" cy="603" r="5.0" fill="#FDE725"/>
<text class="lb" x="1297" y="613">J</text>
</g>
</svg>
</body></html>
